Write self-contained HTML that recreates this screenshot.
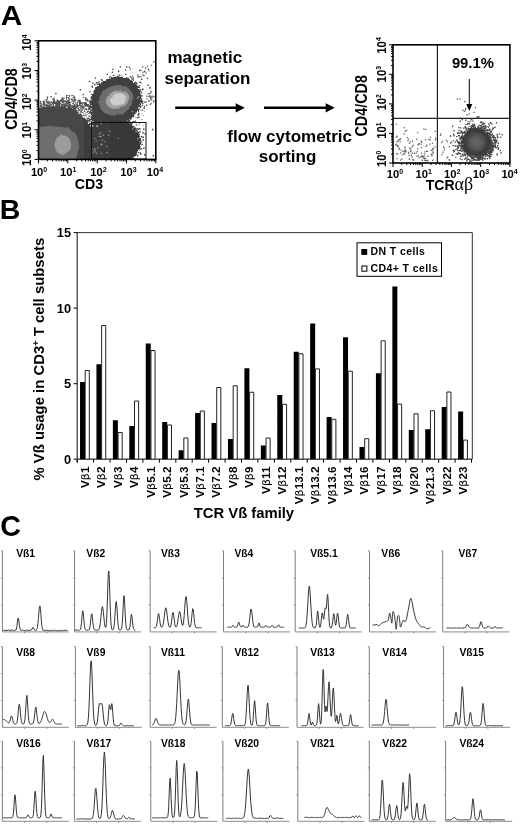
<!DOCTYPE html>
<html><head><meta charset="utf-8"><title>Figure</title>
<style>
html,body{margin:0;padding:0;background:#fff;}
svg{display:block;font-family:"Liberation Sans", sans-serif;font-weight:bold;fill:#000;}
.sym2{font-family:"Liberation Serif","DejaVu Serif",serif;font-weight:normal;}
.sym{font-family:"DejaVu Sans","Liberation Sans",sans-serif;font-weight:normal;}
</style></head><body>
<svg width="520" height="826" viewBox="0 0 520 826">
<defs>
<filter id="rag" x="-10%" y="-10%" width="120%" height="120%">
<feTurbulence type="fractalNoise" baseFrequency="0.7" numOctaves="2" seed="3" result="n"/>
<feDisplacementMap in="SourceGraphic" in2="n" scale="5" xChannelSelector="R" yChannelSelector="G"/>
</filter>
<filter id="rag2" x="-10%" y="-10%" width="120%" height="120%">
<feTurbulence type="fractalNoise" baseFrequency="0.2" numOctaves="2" seed="8" result="n"/>
<feDisplacementMap in="SourceGraphic" in2="n" scale="3" xChannelSelector="R" yChannelSelector="G"/>
</filter>
<radialGradient id="rg"><stop offset="0" stop-color="#686868"/><stop offset="0.45" stop-color="#585858"/><stop offset="0.85" stop-color="#3c3c3c"/><stop offset="1" stop-color="#333"/></radialGradient>
</defs>
<rect width="520" height="826" fill="#fff"/>

<text transform="translate(0.7 24.8) scale(1.045 1)" font-size="28.5">A</text>
<clipPath id="cA"><rect x="38.5" y="40.8" width="117.30000000000001" height="118.60000000000001"/></clipPath>
<g clip-path="url(#cA)">
<path fill="#4a4a4a" d="M69.7 120.1h1.4v1.4h-1.4zM87.9 146.1h1.4v1.4h-1.4zM64.1 122.8h1.4v1.4h-1.4zM53.9 123.3h1.4v1.4h-1.4zM85.2 112.6h1.4v1.4h-1.4zM88.0 149.1h1.4v1.4h-1.4zM41.8 154.7h1.4v1.4h-1.4zM90.7 149.7h1.4v1.4h-1.4zM77.2 115.6h1.4v1.4h-1.4zM46.2 154.3h1.4v1.4h-1.4zM88.4 134.8h1.4v1.4h-1.4zM87.3 126.6h1.4v1.4h-1.4zM84.7 123.2h1.4v1.4h-1.4zM82.3 153.0h1.4v1.4h-1.4zM98.2 145.5h1.4v1.4h-1.4zM95.1 105.1h1.4v1.4h-1.4zM105.7 146.0h1.4v1.4h-1.4zM80.2 124.6h1.4v1.4h-1.4zM81.7 103.4h1.4v1.4h-1.4zM81.6 120.7h1.4v1.4h-1.4zM74.3 120.1h1.4v1.4h-1.4zM111.4 124.9h1.4v1.4h-1.4zM43.5 120.4h1.4v1.4h-1.4zM84.8 151.5h1.4v1.4h-1.4zM88.5 127.9h1.4v1.4h-1.4zM89.0 126.7h1.4v1.4h-1.4zM88.1 138.5h1.4v1.4h-1.4zM48.6 155.3h1.4v1.4h-1.4zM87.6 137.3h1.4v1.4h-1.4zM94.2 141.6h1.4v1.4h-1.4zM58.4 123.4h1.4v1.4h-1.4zM80.1 152.1h1.4v1.4h-1.4zM50.5 113.8h1.4v1.4h-1.4zM86.0 150.2h1.4v1.4h-1.4zM70.1 111.8h1.4v1.4h-1.4zM96.9 116.4h1.4v1.4h-1.4zM96.0 139.3h1.4v1.4h-1.4zM110.0 157.0h1.4v1.4h-1.4zM73.5 104.7h1.4v1.4h-1.4zM92.3 147.0h1.4v1.4h-1.4zM100.2 155.5h1.4v1.4h-1.4zM40.5 122.2h1.4v1.4h-1.4zM92.7 154.8h1.4v1.4h-1.4zM94.8 152.3h1.4v1.4h-1.4zM59.6 123.4h1.4v1.4h-1.4zM42.5 104.2h1.4v1.4h-1.4zM55.1 121.8h1.4v1.4h-1.4zM88.7 150.9h1.4v1.4h-1.4zM91.8 154.6h1.4v1.4h-1.4zM80.4 125.8h1.4v1.4h-1.4zM84.3 138.0h1.4v1.4h-1.4zM62.1 120.5h1.4v1.4h-1.4zM54.2 112.9h1.4v1.4h-1.4zM57.8 121.2h1.4v1.4h-1.4zM94.9 148.2h1.4v1.4h-1.4zM81.7 128.6h1.4v1.4h-1.4zM58.7 115.5h1.4v1.4h-1.4zM73.3 116.3h1.4v1.4h-1.4zM50.7 121.4h1.4v1.4h-1.4zM42.9 125.9h1.4v1.4h-1.4zM70.8 118.8h1.4v1.4h-1.4zM58.9 102.9h1.4v1.4h-1.4zM64.7 121.7h1.4v1.4h-1.4zM49.0 122.0h1.4v1.4h-1.4zM103.8 136.5h1.4v1.4h-1.4zM82.1 107.7h1.4v1.4h-1.4zM83.3 126.8h1.4v1.4h-1.4zM92.0 141.3h1.4v1.4h-1.4zM87.5 131.1h1.4v1.4h-1.4zM86.0 140.9h1.4v1.4h-1.4zM89.4 156.8h1.4v1.4h-1.4zM86.6 124.0h1.4v1.4h-1.4zM83.2 134.6h1.4v1.4h-1.4zM62.4 120.9h1.4v1.4h-1.4zM112.3 114.9h1.4v1.4h-1.4zM95.5 133.2h1.4v1.4h-1.4zM89.7 145.4h1.4v1.4h-1.4zM78.2 116.5h1.4v1.4h-1.4zM88.9 133.0h1.4v1.4h-1.4zM43.6 122.0h1.4v1.4h-1.4zM40.0 145.7h1.4v1.4h-1.4zM92.5 147.0h1.4v1.4h-1.4zM43.7 124.6h1.4v1.4h-1.4zM87.0 135.9h1.4v1.4h-1.4zM89.3 135.6h1.4v1.4h-1.4zM41.7 113.3h1.4v1.4h-1.4zM70.6 119.0h1.4v1.4h-1.4zM39.7 111.6h1.4v1.4h-1.4zM91.9 123.7h1.4v1.4h-1.4zM55.2 92.8h1.4v1.4h-1.4zM61.3 111.1h1.4v1.4h-1.4zM86.1 135.9h1.4v1.4h-1.4zM92.2 141.6h1.4v1.4h-1.4zM84.1 131.1h1.4v1.4h-1.4zM105.0 131.7h1.4v1.4h-1.4zM71.6 119.3h1.4v1.4h-1.4zM75.7 119.4h1.4v1.4h-1.4zM84.3 144.7h1.4v1.4h-1.4zM101.8 113.2h1.4v1.4h-1.4zM42.4 126.6h1.4v1.4h-1.4zM61.6 113.9h1.4v1.4h-1.4zM71.4 122.0h1.4v1.4h-1.4zM83.5 114.9h1.4v1.4h-1.4zM85.5 137.9h1.4v1.4h-1.4zM41.4 129.9h1.4v1.4h-1.4zM68.4 124.1h1.4v1.4h-1.4zM44.0 151.8h1.4v1.4h-1.4zM101.9 105.4h1.4v1.4h-1.4zM100.7 142.1h1.4v1.4h-1.4zM84.7 142.7h1.4v1.4h-1.4zM83.3 151.4h1.4v1.4h-1.4zM77.9 106.6h1.4v1.4h-1.4zM107.9 127.6h1.4v1.4h-1.4zM82.7 130.0h1.4v1.4h-1.4zM56.0 111.5h1.4v1.4h-1.4zM84.4 145.6h1.4v1.4h-1.4zM43.6 130.6h1.4v1.4h-1.4zM41.1 149.9h1.4v1.4h-1.4zM86.7 143.8h1.4v1.4h-1.4zM64.7 116.7h1.4v1.4h-1.4zM58.8 116.9h1.4v1.4h-1.4zM99.4 104.5h1.4v1.4h-1.4zM58.3 115.4h1.4v1.4h-1.4zM71.9 109.6h1.4v1.4h-1.4zM45.6 114.1h1.4v1.4h-1.4zM78.0 128.2h1.4v1.4h-1.4zM85.6 139.9h1.4v1.4h-1.4zM83.2 152.3h1.4v1.4h-1.4zM83.7 123.3h1.4v1.4h-1.4zM87.8 142.5h1.4v1.4h-1.4zM89.0 132.2h1.4v1.4h-1.4zM91.2 149.7h1.4v1.4h-1.4zM84.7 142.4h1.4v1.4h-1.4zM98.0 149.8h1.4v1.4h-1.4zM67.9 119.3h1.4v1.4h-1.4zM96.7 142.1h1.4v1.4h-1.4zM50.2 115.5h1.4v1.4h-1.4zM60.3 107.3h1.4v1.4h-1.4zM43.2 125.3h1.4v1.4h-1.4zM50.5 114.8h1.4v1.4h-1.4zM96.9 155.5h1.4v1.4h-1.4zM53.0 122.4h1.4v1.4h-1.4zM52.4 119.4h1.4v1.4h-1.4zM84.0 148.5h1.4v1.4h-1.4zM78.1 114.3h1.4v1.4h-1.4zM95.1 152.3h1.4v1.4h-1.4zM99.2 123.8h1.4v1.4h-1.4zM81.0 120.1h1.4v1.4h-1.4zM39.6 121.5h1.4v1.4h-1.4zM76.9 125.4h1.4v1.4h-1.4zM65.8 102.5h1.4v1.4h-1.4zM81.7 153.7h1.4v1.4h-1.4zM89.7 153.0h1.4v1.4h-1.4zM51.7 117.7h1.4v1.4h-1.4zM62.5 120.8h1.4v1.4h-1.4zM46.5 121.4h1.4v1.4h-1.4zM65.5 122.8h1.4v1.4h-1.4zM51.9 115.2h1.4v1.4h-1.4zM90.7 137.5h1.4v1.4h-1.4zM93.9 138.5h1.4v1.4h-1.4zM77.4 155.8h1.4v1.4h-1.4zM55.6 112.6h1.4v1.4h-1.4zM66.2 119.5h1.4v1.4h-1.4zM78.3 124.1h1.4v1.4h-1.4zM67.7 119.3h1.4v1.4h-1.4zM43.2 112.2h1.4v1.4h-1.4zM83.9 145.2h1.4v1.4h-1.4zM80.9 151.9h1.4v1.4h-1.4zM71.3 122.5h1.4v1.4h-1.4zM46.5 156.9h1.4v1.4h-1.4zM75.9 117.6h1.4v1.4h-1.4zM90.8 141.4h1.4v1.4h-1.4zM93.9 129.1h1.4v1.4h-1.4zM93.6 150.2h1.4v1.4h-1.4zM88.2 127.3h1.4v1.4h-1.4zM106.2 143.5h1.4v1.4h-1.4zM88.3 126.9h1.4v1.4h-1.4zM43.3 115.2h1.4v1.4h-1.4zM70.1 115.0h1.4v1.4h-1.4zM96.5 142.1h1.4v1.4h-1.4zM44.5 117.9h1.4v1.4h-1.4zM45.3 125.9h1.4v1.4h-1.4zM86.3 144.4h1.4v1.4h-1.4zM44.9 111.4h1.4v1.4h-1.4zM57.0 121.8h1.4v1.4h-1.4zM41.8 149.3h1.4v1.4h-1.4zM44.0 120.5h1.4v1.4h-1.4zM41.1 122.6h1.4v1.4h-1.4zM89.9 146.6h1.4v1.4h-1.4zM79.0 129.4h1.4v1.4h-1.4zM83.7 131.9h1.4v1.4h-1.4zM44.7 120.3h1.4v1.4h-1.4zM82.9 130.7h1.4v1.4h-1.4zM43.2 127.8h1.4v1.4h-1.4zM54.0 123.2h1.4v1.4h-1.4zM68.1 110.3h1.4v1.4h-1.4zM75.9 118.9h1.4v1.4h-1.4zM83.9 147.1h1.4v1.4h-1.4zM70.7 124.0h1.4v1.4h-1.4zM89.3 141.6h1.4v1.4h-1.4zM92.9 155.9h1.4v1.4h-1.4zM91.5 148.5h1.4v1.4h-1.4zM54.0 114.2h1.4v1.4h-1.4zM42.5 125.1h1.4v1.4h-1.4zM88.0 142.9h1.4v1.4h-1.4zM46.1 154.5h1.4v1.4h-1.4zM45.1 156.3h1.4v1.4h-1.4zM91.7 132.7h1.4v1.4h-1.4zM107.1 155.1h1.4v1.4h-1.4zM52.2 115.9h1.4v1.4h-1.4zM95.6 137.3h1.4v1.4h-1.4zM42.5 155.9h1.4v1.4h-1.4zM40.9 149.7h1.4v1.4h-1.4zM77.2 114.2h1.4v1.4h-1.4zM94.9 148.0h1.4v1.4h-1.4zM75.7 115.0h1.4v1.4h-1.4zM81.4 120.6h1.4v1.4h-1.4zM46.1 112.6h1.4v1.4h-1.4zM40.8 127.9h1.4v1.4h-1.4zM89.8 154.3h1.4v1.4h-1.4zM46.9 154.7h1.4v1.4h-1.4zM82.0 153.3h1.4v1.4h-1.4zM115.7 149.9h1.4v1.4h-1.4zM91.0 133.1h1.4v1.4h-1.4zM81.4 108.3h1.4v1.4h-1.4zM116.4 131.7h1.4v1.4h-1.4zM94.0 123.6h1.4v1.4h-1.4zM68.4 119.6h1.4v1.4h-1.4zM63.3 107.9h1.4v1.4h-1.4zM102.2 148.2h1.4v1.4h-1.4zM87.3 119.2h1.4v1.4h-1.4zM75.9 124.5h1.4v1.4h-1.4zM56.8 123.7h1.4v1.4h-1.4zM97.8 151.4h1.4v1.4h-1.4zM103.0 140.6h1.4v1.4h-1.4zM40.5 126.7h1.4v1.4h-1.4zM71.0 123.9h1.4v1.4h-1.4zM81.6 117.5h1.4v1.4h-1.4zM45.3 154.6h1.4v1.4h-1.4zM82.7 156.3h1.4v1.4h-1.4zM76.6 115.4h1.4v1.4h-1.4zM39.9 156.8h1.4v1.4h-1.4zM95.9 151.7h1.4v1.4h-1.4zM86.2 143.1h1.4v1.4h-1.4zM81.5 124.7h1.4v1.4h-1.4zM76.1 155.6h1.4v1.4h-1.4zM81.5 111.7h1.4v1.4h-1.4zM75.3 111.9h1.4v1.4h-1.4zM75.9 116.1h1.4v1.4h-1.4zM102.5 132.5h1.4v1.4h-1.4zM92.6 136.4h1.4v1.4h-1.4zM85.5 133.3h1.4v1.4h-1.4zM75.6 113.9h1.4v1.4h-1.4zM79.6 153.9h1.4v1.4h-1.4zM81.3 150.2h1.4v1.4h-1.4zM75.2 124.8h1.4v1.4h-1.4zM40.0 145.3h1.4v1.4h-1.4zM44.3 153.4h1.4v1.4h-1.4zM90.5 135.2h1.4v1.4h-1.4zM59.9 118.0h1.4v1.4h-1.4zM68.2 119.5h1.4v1.4h-1.4zM64.4 122.5h1.4v1.4h-1.4zM69.7 113.2h1.4v1.4h-1.4zM44.3 152.3h1.4v1.4h-1.4zM70.1 114.5h1.4v1.4h-1.4zM76.4 155.5h1.4v1.4h-1.4zM81.0 118.8h1.4v1.4h-1.4zM89.2 129.4h1.4v1.4h-1.4zM46.8 155.7h1.4v1.4h-1.4zM43.2 151.5h1.4v1.4h-1.4zM95.4 137.5h1.4v1.4h-1.4zM83.7 127.8h1.4v1.4h-1.4zM85.5 102.5h1.4v1.4h-1.4zM45.3 127.1h1.4v1.4h-1.4zM75.1 125.4h1.4v1.4h-1.4zM97.6 150.9h1.4v1.4h-1.4zM94.1 129.4h1.4v1.4h-1.4zM81.3 130.0h1.4v1.4h-1.4zM39.6 139.6h1.4v1.4h-1.4zM42.3 154.6h1.4v1.4h-1.4zM79.9 152.4h1.4v1.4h-1.4zM82.1 156.8h1.4v1.4h-1.4zM88.1 127.9h1.4v1.4h-1.4zM88.5 122.3h1.4v1.4h-1.4zM88.7 144.9h1.4v1.4h-1.4zM59.2 119.0h1.4v1.4h-1.4zM74.5 125.6h1.4v1.4h-1.4zM77.7 120.1h1.4v1.4h-1.4zM77.0 125.8h1.4v1.4h-1.4zM86.4 156.9h1.4v1.4h-1.4zM61.5 114.7h1.4v1.4h-1.4zM87.0 131.9h1.4v1.4h-1.4zM59.6 114.7h1.4v1.4h-1.4zM88.3 148.3h1.4v1.4h-1.4zM52.5 116.8h1.4v1.4h-1.4zM87.2 137.2h1.4v1.4h-1.4zM54.8 120.9h1.4v1.4h-1.4zM76.6 155.0h1.4v1.4h-1.4zM65.4 114.7h1.4v1.4h-1.4zM92.0 139.8h1.4v1.4h-1.4zM86.7 152.2h1.4v1.4h-1.4zM85.0 138.8h1.4v1.4h-1.4zM84.7 131.3h1.4v1.4h-1.4zM92.6 145.2h1.4v1.4h-1.4zM85.3 114.6h1.4v1.4h-1.4zM76.3 120.8h1.4v1.4h-1.4zM46.6 154.0h1.4v1.4h-1.4zM73.9 121.2h1.4v1.4h-1.4zM97.9 122.1h1.4v1.4h-1.4zM81.1 117.8h1.4v1.4h-1.4zM45.1 118.4h1.4v1.4h-1.4zM100.7 135.5h1.4v1.4h-1.4zM94.3 112.6h1.4v1.4h-1.4zM86.3 136.4h1.4v1.4h-1.4zM51.0 123.8h1.4v1.4h-1.4zM84.8 151.5h1.4v1.4h-1.4zM45.5 154.3h1.4v1.4h-1.4zM79.5 129.8h1.4v1.4h-1.4zM90.7 139.7h1.4v1.4h-1.4zM89.2 156.8h1.4v1.4h-1.4zM84.4 136.5h1.4v1.4h-1.4zM86.1 142.8h1.4v1.4h-1.4zM81.2 128.4h1.4v1.4h-1.4zM78.1 128.0h1.4v1.4h-1.4zM93.6 127.0h1.4v1.4h-1.4zM47.8 117.3h1.4v1.4h-1.4zM58.5 107.1h1.4v1.4h-1.4zM74.5 125.3h1.4v1.4h-1.4zM49.9 117.4h1.4v1.4h-1.4z"/>
<path fill="#484848" d="M132.2 111.4h1.4v1.4h-1.4zM130.8 116.7h1.4v1.4h-1.4zM90.3 123.2h1.4v1.4h-1.4zM88.3 110.5h1.4v1.4h-1.4zM96.3 103.7h1.4v1.4h-1.4zM122.3 82.5h1.4v1.4h-1.4zM112.3 79.7h1.4v1.4h-1.4zM118.1 118.2h1.4v1.4h-1.4zM115.5 132.2h1.4v1.4h-1.4zM137.4 89.9h1.4v1.4h-1.4zM82.1 102.2h1.4v1.4h-1.4zM111.5 118.8h1.4v1.4h-1.4zM101.6 118.7h1.4v1.4h-1.4zM93.5 98.6h1.4v1.4h-1.4zM100.7 78.9h1.4v1.4h-1.4zM114.3 79.1h1.4v1.4h-1.4zM115.3 118.2h1.4v1.4h-1.4zM98.3 97.8h1.4v1.4h-1.4zM103.6 87.9h1.4v1.4h-1.4zM106.6 73.7h1.4v1.4h-1.4zM89.9 110.7h1.4v1.4h-1.4zM103.1 81.2h1.4v1.4h-1.4zM115.5 123.5h1.4v1.4h-1.4zM134.2 102.5h1.4v1.4h-1.4zM104.8 120.2h1.4v1.4h-1.4zM102.3 122.1h1.4v1.4h-1.4zM121.2 133.7h1.4v1.4h-1.4zM135.6 109.3h1.4v1.4h-1.4zM107.0 83.6h1.4v1.4h-1.4zM95.2 114.1h1.4v1.4h-1.4zM92.3 101.9h1.4v1.4h-1.4zM131.3 115.7h1.4v1.4h-1.4zM111.1 118.9h1.4v1.4h-1.4zM126.0 66.3h1.4v1.4h-1.4zM146.0 104.6h1.4v1.4h-1.4zM139.4 89.2h1.4v1.4h-1.4zM132.4 107.1h1.4v1.4h-1.4zM113.0 124.4h1.4v1.4h-1.4zM101.5 84.7h1.4v1.4h-1.4zM126.5 115.5h1.4v1.4h-1.4zM149.3 86.8h1.4v1.4h-1.4zM116.6 122.2h1.4v1.4h-1.4zM132.6 106.8h1.4v1.4h-1.4zM134.5 120.4h1.4v1.4h-1.4zM123.1 83.9h1.4v1.4h-1.4zM92.2 82.5h1.4v1.4h-1.4zM122.0 83.9h1.4v1.4h-1.4zM98.1 125.6h1.4v1.4h-1.4zM90.5 97.6h1.4v1.4h-1.4zM118.8 81.8h1.4v1.4h-1.4zM117.0 128.7h1.4v1.4h-1.4zM133.2 91.2h1.4v1.4h-1.4zM79.2 99.8h1.4v1.4h-1.4zM124.6 121.4h1.4v1.4h-1.4zM101.0 111.8h1.4v1.4h-1.4zM133.1 110.4h1.4v1.4h-1.4zM117.0 78.0h1.4v1.4h-1.4zM108.0 119.9h1.4v1.4h-1.4zM98.3 134.5h1.4v1.4h-1.4zM98.8 112.7h1.4v1.4h-1.4zM95.2 94.3h1.4v1.4h-1.4zM130.7 89.2h1.4v1.4h-1.4zM125.3 83.9h1.4v1.4h-1.4zM96.2 115.4h1.4v1.4h-1.4zM96.0 109.8h1.4v1.4h-1.4zM100.7 91.9h1.4v1.4h-1.4zM109.7 83.9h1.4v1.4h-1.4zM137.1 99.0h1.4v1.4h-1.4zM135.0 89.9h1.4v1.4h-1.4zM147.5 84.6h1.4v1.4h-1.4zM121.9 81.6h1.4v1.4h-1.4zM122.0 117.9h1.4v1.4h-1.4zM119.3 116.6h1.4v1.4h-1.4zM96.0 119.1h1.4v1.4h-1.4zM99.5 117.7h1.4v1.4h-1.4zM109.6 75.9h1.4v1.4h-1.4zM125.7 120.7h1.4v1.4h-1.4zM137.5 94.6h1.4v1.4h-1.4zM111.7 71.6h1.4v1.4h-1.4zM139.0 69.8h1.4v1.4h-1.4zM96.4 113.5h1.4v1.4h-1.4zM123.4 121.0h1.4v1.4h-1.4zM86.4 98.8h1.4v1.4h-1.4zM111.9 126.1h1.4v1.4h-1.4zM124.4 115.2h1.4v1.4h-1.4zM131.7 110.5h1.4v1.4h-1.4zM95.9 104.9h1.4v1.4h-1.4zM138.2 112.8h1.4v1.4h-1.4zM114.5 121.0h1.4v1.4h-1.4zM127.3 118.0h1.4v1.4h-1.4zM94.1 112.2h1.4v1.4h-1.4zM141.8 89.1h1.4v1.4h-1.4zM98.4 111.6h1.4v1.4h-1.4zM126.4 114.2h1.4v1.4h-1.4zM96.2 99.8h1.4v1.4h-1.4zM124.6 114.9h1.4v1.4h-1.4zM114.0 129.6h1.4v1.4h-1.4zM134.2 90.2h1.4v1.4h-1.4zM109.5 78.8h1.4v1.4h-1.4zM119.1 81.8h1.4v1.4h-1.4zM134.1 100.9h1.4v1.4h-1.4zM117.3 75.5h1.4v1.4h-1.4zM125.5 84.4h1.4v1.4h-1.4zM117.5 81.3h1.4v1.4h-1.4zM116.5 81.9h1.4v1.4h-1.4zM132.2 87.6h1.4v1.4h-1.4zM125.2 117.9h1.4v1.4h-1.4zM93.9 113.8h1.4v1.4h-1.4zM102.4 90.9h1.4v1.4h-1.4zM107.3 118.1h1.4v1.4h-1.4zM130.8 84.6h1.4v1.4h-1.4zM97.0 92.6h1.4v1.4h-1.4zM118.0 81.6h1.4v1.4h-1.4zM111.5 121.0h1.4v1.4h-1.4zM98.4 92.0h1.4v1.4h-1.4zM137.0 94.7h1.4v1.4h-1.4zM129.7 117.3h1.4v1.4h-1.4zM92.4 97.5h1.4v1.4h-1.4zM137.9 113.8h1.4v1.4h-1.4zM100.4 115.0h1.4v1.4h-1.4zM106.9 124.3h1.4v1.4h-1.4zM95.8 121.7h1.4v1.4h-1.4zM107.6 129.3h1.4v1.4h-1.4zM137.7 96.5h1.4v1.4h-1.4zM102.3 114.3h1.4v1.4h-1.4zM123.9 84.2h1.4v1.4h-1.4zM133.8 83.5h1.4v1.4h-1.4zM107.7 117.2h1.4v1.4h-1.4zM105.2 127.0h1.4v1.4h-1.4zM94.6 102.2h1.4v1.4h-1.4zM139.3 81.6h1.4v1.4h-1.4zM132.8 115.9h1.4v1.4h-1.4zM100.1 116.1h1.4v1.4h-1.4zM97.8 95.0h1.4v1.4h-1.4zM109.3 124.1h1.4v1.4h-1.4zM110.4 125.7h1.4v1.4h-1.4zM104.6 117.8h1.4v1.4h-1.4zM89.2 90.9h1.4v1.4h-1.4zM128.9 86.4h1.4v1.4h-1.4zM133.4 112.8h1.4v1.4h-1.4zM95.9 89.4h1.4v1.4h-1.4zM95.6 111.3h1.4v1.4h-1.4zM122.4 119.4h1.4v1.4h-1.4zM111.6 81.2h1.4v1.4h-1.4zM127.5 79.2h1.4v1.4h-1.4zM106.0 84.2h1.4v1.4h-1.4zM95.2 92.5h1.4v1.4h-1.4zM132.6 104.9h1.4v1.4h-1.4zM95.1 98.7h1.4v1.4h-1.4zM91.4 85.5h1.4v1.4h-1.4zM95.3 104.6h1.4v1.4h-1.4zM137.1 94.4h1.4v1.4h-1.4zM128.3 114.2h1.4v1.4h-1.4zM130.2 114.5h1.4v1.4h-1.4zM135.3 93.8h1.4v1.4h-1.4zM98.8 96.1h1.4v1.4h-1.4zM128.9 116.8h1.4v1.4h-1.4zM134.5 89.8h1.4v1.4h-1.4zM129.4 111.2h1.4v1.4h-1.4zM128.5 111.0h1.4v1.4h-1.4zM98.2 103.5h1.4v1.4h-1.4zM131.6 88.7h1.4v1.4h-1.4zM134.5 82.0h1.4v1.4h-1.4zM105.4 87.9h1.4v1.4h-1.4zM137.4 90.7h1.4v1.4h-1.4zM110.7 123.2h1.4v1.4h-1.4zM133.2 107.8h1.4v1.4h-1.4zM87.6 122.5h1.4v1.4h-1.4zM127.0 83.5h1.4v1.4h-1.4zM98.3 113.4h1.4v1.4h-1.4zM139.9 90.9h1.4v1.4h-1.4zM98.3 82.8h1.4v1.4h-1.4zM114.8 80.3h1.4v1.4h-1.4zM117.2 81.8h1.4v1.4h-1.4zM93.5 95.6h1.4v1.4h-1.4zM99.5 95.6h1.4v1.4h-1.4zM101.5 92.0h1.4v1.4h-1.4zM138.7 108.1h1.4v1.4h-1.4zM132.7 125.8h1.4v1.4h-1.4zM111.6 81.6h1.4v1.4h-1.4zM98.6 95.6h1.4v1.4h-1.4zM133.1 88.0h1.4v1.4h-1.4zM128.8 120.6h1.4v1.4h-1.4zM130.8 89.3h1.4v1.4h-1.4zM131.5 111.7h1.4v1.4h-1.4zM135.7 102.5h1.4v1.4h-1.4zM126.7 77.9h1.4v1.4h-1.4zM136.4 89.7h1.4v1.4h-1.4zM94.8 104.6h1.4v1.4h-1.4zM95.7 99.8h1.4v1.4h-1.4zM117.2 81.1h1.4v1.4h-1.4zM104.0 84.4h1.4v1.4h-1.4zM85.0 97.3h1.4v1.4h-1.4zM93.4 91.8h1.4v1.4h-1.4zM105.2 85.6h1.4v1.4h-1.4zM127.9 82.3h1.4v1.4h-1.4zM98.8 89.2h1.4v1.4h-1.4zM101.0 118.8h1.4v1.4h-1.4zM137.3 114.3h1.4v1.4h-1.4zM103.6 113.8h1.4v1.4h-1.4zM128.5 85.4h1.4v1.4h-1.4zM119.7 66.2h1.4v1.4h-1.4zM126.3 77.5h1.4v1.4h-1.4zM115.0 118.8h1.4v1.4h-1.4zM109.2 79.9h1.4v1.4h-1.4zM136.9 102.5h1.4v1.4h-1.4zM89.5 108.4h1.4v1.4h-1.4zM102.8 122.0h1.4v1.4h-1.4zM94.0 84.0h1.4v1.4h-1.4zM121.2 122.5h1.4v1.4h-1.4zM94.7 77.4h1.4v1.4h-1.4zM107.3 85.6h1.4v1.4h-1.4zM121.8 117.2h1.4v1.4h-1.4zM120.4 81.4h1.4v1.4h-1.4zM137.1 91.1h1.4v1.4h-1.4zM143.5 107.5h1.4v1.4h-1.4zM111.1 117.4h1.4v1.4h-1.4zM134.4 106.2h1.4v1.4h-1.4zM125.0 116.5h1.4v1.4h-1.4zM97.8 91.3h1.4v1.4h-1.4zM102.1 112.7h1.4v1.4h-1.4zM125.0 73.7h1.4v1.4h-1.4zM134.5 107.1h1.4v1.4h-1.4zM129.3 86.8h1.4v1.4h-1.4zM129.8 111.1h1.4v1.4h-1.4zM88.9 101.4h1.4v1.4h-1.4zM142.1 88.5h1.4v1.4h-1.4zM90.0 112.6h1.4v1.4h-1.4zM84.7 119.4h1.4v1.4h-1.4zM132.4 121.1h1.4v1.4h-1.4zM134.1 109.4h1.4v1.4h-1.4zM97.9 103.4h1.4v1.4h-1.4zM143.7 105.8h1.4v1.4h-1.4zM103.4 120.7h1.4v1.4h-1.4zM96.9 91.2h1.4v1.4h-1.4zM141.3 95.0h1.4v1.4h-1.4zM134.4 85.5h1.4v1.4h-1.4zM119.6 81.2h1.4v1.4h-1.4zM113.0 78.3h1.4v1.4h-1.4zM140.5 98.6h1.4v1.4h-1.4zM134.9 98.8h1.4v1.4h-1.4zM99.5 91.0h1.4v1.4h-1.4zM101.9 91.6h1.4v1.4h-1.4zM131.3 86.8h1.4v1.4h-1.4zM100.6 125.1h1.4v1.4h-1.4zM99.6 92.3h1.4v1.4h-1.4zM112.1 117.1h1.4v1.4h-1.4zM107.1 127.3h1.4v1.4h-1.4zM108.7 82.3h1.4v1.4h-1.4zM96.1 82.0h1.4v1.4h-1.4zM129.8 111.8h1.4v1.4h-1.4zM120.2 78.8h1.4v1.4h-1.4zM122.2 115.5h1.4v1.4h-1.4zM141.8 104.4h1.4v1.4h-1.4zM123.2 117.3h1.4v1.4h-1.4zM112.9 82.0h1.4v1.4h-1.4zM129.1 110.5h1.4v1.4h-1.4zM113.9 82.1h1.4v1.4h-1.4zM98.1 106.4h1.4v1.4h-1.4zM133.8 94.4h1.4v1.4h-1.4zM92.2 96.8h1.4v1.4h-1.4zM109.4 82.3h1.4v1.4h-1.4zM98.3 81.2h1.4v1.4h-1.4zM116.6 117.4h1.4v1.4h-1.4zM131.1 82.3h1.4v1.4h-1.4zM103.6 87.7h1.4v1.4h-1.4zM132.6 79.4h1.4v1.4h-1.4zM137.3 85.8h1.4v1.4h-1.4zM135.1 98.2h1.4v1.4h-1.4zM145.2 101.4h1.4v1.4h-1.4zM131.6 109.7h1.4v1.4h-1.4zM123.1 115.9h1.4v1.4h-1.4zM126.7 78.7h1.4v1.4h-1.4zM92.6 118.3h1.4v1.4h-1.4zM101.7 112.4h1.4v1.4h-1.4zM136.7 116.9h1.4v1.4h-1.4zM136.5 102.7h1.4v1.4h-1.4zM131.2 109.4h1.4v1.4h-1.4zM103.7 117.9h1.4v1.4h-1.4zM134.1 91.9h1.4v1.4h-1.4zM92.0 98.0h1.4v1.4h-1.4zM119.7 80.8h1.4v1.4h-1.4zM130.0 118.3h1.4v1.4h-1.4zM123.8 83.4h1.4v1.4h-1.4zM127.9 120.3h1.4v1.4h-1.4zM112.3 68.7h1.4v1.4h-1.4zM105.4 86.8h1.4v1.4h-1.4zM119.2 79.8h1.4v1.4h-1.4zM128.7 86.2h1.4v1.4h-1.4zM138.9 95.0h1.4v1.4h-1.4zM113.7 119.1h1.4v1.4h-1.4zM110.4 80.3h1.4v1.4h-1.4zM112.7 74.7h1.4v1.4h-1.4zM124.9 84.4h1.4v1.4h-1.4zM117.4 121.9h1.4v1.4h-1.4zM94.5 100.7h1.4v1.4h-1.4zM102.6 119.9h1.4v1.4h-1.4zM140.0 105.8h1.4v1.4h-1.4zM104.2 114.6h1.4v1.4h-1.4zM95.7 108.4h1.4v1.4h-1.4zM127.0 113.6h1.4v1.4h-1.4zM129.7 68.4h1.4v1.4h-1.4zM99.0 83.6h1.4v1.4h-1.4zM115.0 117.8h1.4v1.4h-1.4zM141.8 109.4h1.4v1.4h-1.4zM107.3 81.6h1.4v1.4h-1.4zM109.4 124.5h1.4v1.4h-1.4zM93.7 112.3h1.4v1.4h-1.4zM129.7 75.9h1.4v1.4h-1.4zM91.2 112.2h1.4v1.4h-1.4zM96.8 95.5h1.4v1.4h-1.4zM104.4 87.7h1.4v1.4h-1.4zM91.7 98.5h1.4v1.4h-1.4zM104.8 87.4h1.4v1.4h-1.4zM104.6 88.8h1.4v1.4h-1.4zM122.5 119.1h1.4v1.4h-1.4zM79.7 89.1h1.4v1.4h-1.4zM114.1 118.7h1.4v1.4h-1.4zM95.0 123.6h1.4v1.4h-1.4zM92.2 115.9h1.4v1.4h-1.4zM95.6 82.4h1.4v1.4h-1.4zM136.0 108.8h1.4v1.4h-1.4zM119.3 83.3h1.4v1.4h-1.4zM101.6 79.8h1.4v1.4h-1.4zM119.9 81.7h1.4v1.4h-1.4zM112.7 126.2h1.4v1.4h-1.4zM125.5 82.6h1.4v1.4h-1.4zM109.6 122.9h1.4v1.4h-1.4zM109.4 123.8h1.4v1.4h-1.4zM114.5 120.3h1.4v1.4h-1.4zM136.7 96.9h1.4v1.4h-1.4zM106.4 87.1h1.4v1.4h-1.4zM130.8 77.2h1.4v1.4h-1.4zM90.3 106.2h1.4v1.4h-1.4zM141.9 100.6h1.4v1.4h-1.4zM106.0 82.8h1.4v1.4h-1.4zM122.2 83.1h1.4v1.4h-1.4zM85.0 99.0h1.4v1.4h-1.4zM91.7 86.4h1.4v1.4h-1.4zM108.1 129.9h1.4v1.4h-1.4zM146.7 77.7h1.4v1.4h-1.4zM112.5 117.9h1.4v1.4h-1.4zM102.2 115.7h1.4v1.4h-1.4zM131.8 83.8h1.4v1.4h-1.4zM134.9 90.8h1.4v1.4h-1.4zM134.8 91.0h1.4v1.4h-1.4zM97.5 102.6h1.4v1.4h-1.4zM100.7 125.0h1.4v1.4h-1.4zM135.8 82.3h1.4v1.4h-1.4zM126.1 83.1h1.4v1.4h-1.4zM111.7 81.7h1.4v1.4h-1.4zM116.3 118.3h1.4v1.4h-1.4zM135.3 109.4h1.4v1.4h-1.4zM128.2 85.4h1.4v1.4h-1.4zM133.1 107.2h1.4v1.4h-1.4zM91.0 102.8h1.4v1.4h-1.4zM108.1 124.0h1.4v1.4h-1.4zM144.0 70.8h1.4v1.4h-1.4zM114.5 82.9h1.4v1.4h-1.4zM98.8 116.3h1.4v1.4h-1.4zM102.4 124.6h1.4v1.4h-1.4zM125.2 117.0h1.4v1.4h-1.4zM138.3 100.2h1.4v1.4h-1.4zM104.9 88.0h1.4v1.4h-1.4zM112.3 125.3h1.4v1.4h-1.4zM132.0 88.1h1.4v1.4h-1.4zM141.0 101.9h1.4v1.4h-1.4zM99.3 114.6h1.4v1.4h-1.4zM136.2 83.2h1.4v1.4h-1.4zM96.7 104.4h1.4v1.4h-1.4zM140.9 78.6h1.4v1.4h-1.4zM108.8 126.3h1.4v1.4h-1.4zM119.9 127.8h1.4v1.4h-1.4zM130.3 124.2h1.4v1.4h-1.4zM96.2 86.8h1.4v1.4h-1.4zM102.1 120.9h1.4v1.4h-1.4zM94.8 100.4h1.4v1.4h-1.4zM132.8 111.3h1.4v1.4h-1.4zM142.1 102.5h1.4v1.4h-1.4zM123.8 120.3h1.4v1.4h-1.4zM117.9 70.5h1.4v1.4h-1.4zM134.4 102.9h1.4v1.4h-1.4zM143.2 74.9h1.4v1.4h-1.4zM110.1 123.2h1.4v1.4h-1.4zM95.5 100.6h1.4v1.4h-1.4zM98.3 90.6h1.4v1.4h-1.4zM90.9 112.1h1.4v1.4h-1.4zM125.5 85.4h1.4v1.4h-1.4zM107.4 86.6h1.4v1.4h-1.4zM88.8 80.8h1.4v1.4h-1.4zM138.6 86.6h1.4v1.4h-1.4zM129.7 84.3h1.4v1.4h-1.4zM84.6 102.5h1.4v1.4h-1.4zM134.0 95.9h1.4v1.4h-1.4zM97.7 101.1h1.4v1.4h-1.4zM110.8 117.1h1.4v1.4h-1.4zM124.6 127.8h1.4v1.4h-1.4zM134.3 100.8h1.4v1.4h-1.4zM136.1 109.3h1.4v1.4h-1.4zM111.2 122.1h1.4v1.4h-1.4z"/>
<path fill="#3e3e3e" d="M132.0 130.1h1.4v1.4h-1.4zM125.1 129.5h1.4v1.4h-1.4zM131.2 137.8h1.4v1.4h-1.4zM117.3 123.2h1.4v1.4h-1.4zM109.5 120.5h1.4v1.4h-1.4zM96.5 143.0h1.4v1.4h-1.4zM102.8 155.9h1.4v1.4h-1.4zM105.3 126.7h1.4v1.4h-1.4zM103.3 127.7h1.4v1.4h-1.4zM100.6 114.7h1.4v1.4h-1.4zM120.3 123.0h1.4v1.4h-1.4zM109.2 117.3h1.4v1.4h-1.4zM128.5 122.2h1.4v1.4h-1.4zM129.4 121.6h1.4v1.4h-1.4zM101.5 155.0h1.4v1.4h-1.4zM106.4 156.0h1.4v1.4h-1.4zM132.1 143.2h1.4v1.4h-1.4zM102.1 133.3h1.4v1.4h-1.4zM107.5 155.7h1.4v1.4h-1.4zM115.6 156.3h1.4v1.4h-1.4zM121.0 120.9h1.4v1.4h-1.4zM81.4 145.4h1.4v1.4h-1.4zM117.2 156.9h1.4v1.4h-1.4zM118.9 119.2h1.4v1.4h-1.4zM81.3 154.2h1.4v1.4h-1.4zM127.7 152.1h1.4v1.4h-1.4zM106.1 126.5h1.4v1.4h-1.4zM94.1 146.8h1.4v1.4h-1.4zM101.8 154.2h1.4v1.4h-1.4zM131.9 136.7h1.4v1.4h-1.4zM122.7 155.7h1.4v1.4h-1.4zM99.2 142.7h1.4v1.4h-1.4zM100.1 127.6h1.4v1.4h-1.4zM94.7 148.7h1.4v1.4h-1.4zM97.4 133.2h1.4v1.4h-1.4zM136.0 137.0h1.4v1.4h-1.4zM143.1 128.6h1.4v1.4h-1.4zM139.1 143.4h1.4v1.4h-1.4zM94.9 149.0h1.4v1.4h-1.4zM134.2 128.0h1.4v1.4h-1.4zM133.8 131.7h1.4v1.4h-1.4zM137.0 155.2h1.4v1.4h-1.4zM100.0 135.9h1.4v1.4h-1.4zM134.0 144.2h1.4v1.4h-1.4zM114.3 117.5h1.4v1.4h-1.4zM104.3 156.3h1.4v1.4h-1.4zM94.8 140.1h1.4v1.4h-1.4zM104.2 151.6h1.4v1.4h-1.4zM135.6 141.2h1.4v1.4h-1.4zM100.2 136.0h1.4v1.4h-1.4zM128.1 125.7h1.4v1.4h-1.4zM105.8 122.0h1.4v1.4h-1.4zM99.1 147.7h1.4v1.4h-1.4zM121.2 154.8h1.4v1.4h-1.4zM93.1 140.5h1.4v1.4h-1.4zM141.4 143.8h1.4v1.4h-1.4zM100.1 133.7h1.4v1.4h-1.4zM130.1 147.6h1.4v1.4h-1.4zM97.2 135.1h1.4v1.4h-1.4zM132.7 154.0h1.4v1.4h-1.4zM101.0 155.6h1.4v1.4h-1.4zM108.5 122.1h1.4v1.4h-1.4zM133.8 145.4h1.4v1.4h-1.4zM92.4 155.0h1.4v1.4h-1.4zM140.1 153.3h1.4v1.4h-1.4zM96.8 148.6h1.4v1.4h-1.4zM100.4 144.6h1.4v1.4h-1.4zM103.6 129.4h1.4v1.4h-1.4zM110.7 122.9h1.4v1.4h-1.4zM119.6 156.8h1.4v1.4h-1.4zM105.7 127.0h1.4v1.4h-1.4zM108.0 154.8h1.4v1.4h-1.4zM95.0 135.1h1.4v1.4h-1.4zM128.9 153.4h1.4v1.4h-1.4zM139.5 152.2h1.4v1.4h-1.4zM133.2 143.9h1.4v1.4h-1.4zM101.8 123.7h1.4v1.4h-1.4zM99.9 153.0h1.4v1.4h-1.4zM96.8 148.1h1.4v1.4h-1.4zM137.7 131.8h1.4v1.4h-1.4zM91.0 149.8h1.4v1.4h-1.4zM110.0 155.4h1.4v1.4h-1.4zM96.2 127.8h1.4v1.4h-1.4zM109.7 126.6h1.4v1.4h-1.4zM132.8 151.6h1.4v1.4h-1.4zM96.7 140.6h1.4v1.4h-1.4zM139.1 138.1h1.4v1.4h-1.4zM142.5 139.3h1.4v1.4h-1.4zM131.6 140.7h1.4v1.4h-1.4zM135.1 152.0h1.4v1.4h-1.4zM97.3 145.2h1.4v1.4h-1.4zM128.9 150.6h1.4v1.4h-1.4zM104.6 126.8h1.4v1.4h-1.4zM108.7 123.2h1.4v1.4h-1.4zM134.5 136.6h1.4v1.4h-1.4zM114.2 122.8h1.4v1.4h-1.4zM135.2 132.8h1.4v1.4h-1.4zM121.7 119.9h1.4v1.4h-1.4zM124.6 126.8h1.4v1.4h-1.4zM125.3 156.1h1.4v1.4h-1.4zM137.8 142.8h1.4v1.4h-1.4zM129.7 151.6h1.4v1.4h-1.4zM138.9 139.4h1.4v1.4h-1.4zM130.8 156.7h1.4v1.4h-1.4zM133.0 143.4h1.4v1.4h-1.4zM121.5 124.5h1.4v1.4h-1.4zM95.0 134.5h1.4v1.4h-1.4zM97.1 132.1h1.4v1.4h-1.4zM104.2 129.8h1.4v1.4h-1.4zM133.6 131.1h1.4v1.4h-1.4zM107.8 115.4h1.4v1.4h-1.4zM104.7 127.6h1.4v1.4h-1.4zM133.4 133.3h1.4v1.4h-1.4zM127.3 151.2h1.4v1.4h-1.4zM105.2 118.8h1.4v1.4h-1.4zM151.9 128.8h1.4v1.4h-1.4zM95.8 147.8h1.4v1.4h-1.4zM90.7 156.0h1.4v1.4h-1.4zM95.8 152.6h1.4v1.4h-1.4zM117.8 126.0h1.4v1.4h-1.4zM108.0 155.1h1.4v1.4h-1.4zM95.6 151.2h1.4v1.4h-1.4zM105.3 112.7h1.4v1.4h-1.4zM122.9 128.0h1.4v1.4h-1.4zM129.9 152.2h1.4v1.4h-1.4zM119.8 126.2h1.4v1.4h-1.4zM126.6 151.3h1.4v1.4h-1.4zM138.3 116.5h1.4v1.4h-1.4zM127.3 129.2h1.4v1.4h-1.4zM126.2 119.3h1.4v1.4h-1.4zM115.2 156.1h1.4v1.4h-1.4zM116.1 125.1h1.4v1.4h-1.4zM110.6 111.0h1.4v1.4h-1.4zM107.2 114.2h1.4v1.4h-1.4zM102.7 124.4h1.4v1.4h-1.4zM99.6 138.2h1.4v1.4h-1.4zM108.0 154.6h1.4v1.4h-1.4zM134.2 135.4h1.4v1.4h-1.4zM119.1 114.4h1.4v1.4h-1.4zM88.0 142.2h1.4v1.4h-1.4zM110.4 126.6h1.4v1.4h-1.4zM129.9 155.3h1.4v1.4h-1.4zM124.1 121.7h1.4v1.4h-1.4zM138.1 141.1h1.4v1.4h-1.4zM117.0 121.3h1.4v1.4h-1.4zM100.5 124.8h1.4v1.4h-1.4zM128.0 118.6h1.4v1.4h-1.4zM106.0 120.5h1.4v1.4h-1.4zM109.4 124.7h1.4v1.4h-1.4zM129.4 154.8h1.4v1.4h-1.4zM132.2 149.6h1.4v1.4h-1.4zM129.3 150.3h1.4v1.4h-1.4zM102.9 121.0h1.4v1.4h-1.4zM110.5 121.4h1.4v1.4h-1.4zM97.5 137.5h1.4v1.4h-1.4zM125.8 128.6h1.4v1.4h-1.4zM139.0 128.1h1.4v1.4h-1.4zM95.3 140.8h1.4v1.4h-1.4zM98.7 155.8h1.4v1.4h-1.4zM126.7 152.5h1.4v1.4h-1.4zM113.4 115.0h1.4v1.4h-1.4zM136.3 127.9h1.4v1.4h-1.4zM129.5 133.2h1.4v1.4h-1.4zM127.3 123.6h1.4v1.4h-1.4zM99.8 156.3h1.4v1.4h-1.4zM93.6 129.8h1.4v1.4h-1.4zM130.3 135.5h1.4v1.4h-1.4zM84.8 151.6h1.4v1.4h-1.4zM106.3 125.7h1.4v1.4h-1.4zM133.4 145.0h1.4v1.4h-1.4zM120.4 126.5h1.4v1.4h-1.4zM131.9 138.2h1.4v1.4h-1.4zM98.9 137.7h1.4v1.4h-1.4zM128.6 126.2h1.4v1.4h-1.4zM103.6 156.7h1.4v1.4h-1.4zM96.0 131.6h1.4v1.4h-1.4zM96.7 135.0h1.4v1.4h-1.4zM116.5 124.7h1.4v1.4h-1.4zM97.5 147.5h1.4v1.4h-1.4zM99.9 137.6h1.4v1.4h-1.4zM113.1 126.0h1.4v1.4h-1.4zM129.2 153.8h1.4v1.4h-1.4zM115.0 123.3h1.4v1.4h-1.4zM142.4 132.0h1.4v1.4h-1.4zM92.7 151.4h1.4v1.4h-1.4zM136.6 144.3h1.4v1.4h-1.4zM117.8 122.8h1.4v1.4h-1.4zM136.4 130.2h1.4v1.4h-1.4zM132.5 144.7h1.4v1.4h-1.4zM98.0 141.2h1.4v1.4h-1.4zM120.7 156.1h1.4v1.4h-1.4zM85.8 155.8h1.4v1.4h-1.4zM98.6 125.0h1.4v1.4h-1.4zM88.7 133.2h1.4v1.4h-1.4zM131.5 156.0h1.4v1.4h-1.4zM117.9 122.1h1.4v1.4h-1.4zM118.9 123.0h1.4v1.4h-1.4zM107.8 156.9h1.4v1.4h-1.4zM98.8 151.2h1.4v1.4h-1.4zM140.8 148.2h1.4v1.4h-1.4zM99.5 154.8h1.4v1.4h-1.4zM94.3 144.7h1.4v1.4h-1.4zM135.0 151.9h1.4v1.4h-1.4zM142.5 136.5h1.4v1.4h-1.4zM109.7 123.2h1.4v1.4h-1.4zM97.5 129.1h1.4v1.4h-1.4zM133.9 140.4h1.4v1.4h-1.4zM128.6 130.8h1.4v1.4h-1.4zM91.2 155.4h1.4v1.4h-1.4zM152.6 155.1h1.4v1.4h-1.4zM125.1 125.3h1.4v1.4h-1.4zM132.1 145.7h1.4v1.4h-1.4zM98.9 145.2h1.4v1.4h-1.4zM93.1 130.7h1.4v1.4h-1.4zM127.9 128.7h1.4v1.4h-1.4zM112.6 121.8h1.4v1.4h-1.4zM98.6 129.8h1.4v1.4h-1.4zM124.3 122.4h1.4v1.4h-1.4zM111.9 122.2h1.4v1.4h-1.4zM103.1 125.0h1.4v1.4h-1.4zM129.6 133.1h1.4v1.4h-1.4zM106.5 128.3h1.4v1.4h-1.4zM95.7 141.7h1.4v1.4h-1.4zM133.3 143.0h1.4v1.4h-1.4zM134.1 121.6h1.4v1.4h-1.4zM132.1 127.3h1.4v1.4h-1.4zM108.4 121.6h1.4v1.4h-1.4zM129.9 123.8h1.4v1.4h-1.4zM126.6 151.2h1.4v1.4h-1.4zM133.1 139.3h1.4v1.4h-1.4zM132.3 147.9h1.4v1.4h-1.4zM134.0 149.7h1.4v1.4h-1.4zM135.7 124.2h1.4v1.4h-1.4zM95.4 148.8h1.4v1.4h-1.4zM101.4 149.6h1.4v1.4h-1.4zM109.5 156.0h1.4v1.4h-1.4zM114.6 156.3h1.4v1.4h-1.4zM91.7 150.5h1.4v1.4h-1.4zM118.8 116.4h1.4v1.4h-1.4zM91.9 152.7h1.4v1.4h-1.4zM97.8 138.2h1.4v1.4h-1.4zM103.7 154.8h1.4v1.4h-1.4zM106.0 155.9h1.4v1.4h-1.4zM120.1 121.4h1.4v1.4h-1.4zM107.3 118.3h1.4v1.4h-1.4zM121.7 127.3h1.4v1.4h-1.4zM134.1 138.8h1.4v1.4h-1.4zM125.9 111.0h1.4v1.4h-1.4zM104.2 127.4h1.4v1.4h-1.4zM130.2 145.3h1.4v1.4h-1.4zM90.5 151.4h1.4v1.4h-1.4zM103.4 128.8h1.4v1.4h-1.4zM97.5 134.9h1.4v1.4h-1.4zM135.9 146.6h1.4v1.4h-1.4zM124.7 153.2h1.4v1.4h-1.4zM107.0 122.2h1.4v1.4h-1.4zM132.0 121.5h1.4v1.4h-1.4zM118.5 126.4h1.4v1.4h-1.4zM134.2 154.5h1.4v1.4h-1.4zM109.4 121.3h1.4v1.4h-1.4zM121.8 118.3h1.4v1.4h-1.4zM116.3 123.4h1.4v1.4h-1.4zM94.6 146.1h1.4v1.4h-1.4zM96.0 139.4h1.4v1.4h-1.4zM127.5 126.1h1.4v1.4h-1.4zM136.8 154.8h1.4v1.4h-1.4zM107.3 126.5h1.4v1.4h-1.4zM121.2 124.4h1.4v1.4h-1.4zM95.7 137.2h1.4v1.4h-1.4zM130.5 129.9h1.4v1.4h-1.4zM118.5 124.0h1.4v1.4h-1.4zM94.5 142.7h1.4v1.4h-1.4zM95.8 133.0h1.4v1.4h-1.4zM86.3 135.7h1.4v1.4h-1.4zM139.5 142.1h1.4v1.4h-1.4zM105.5 156.5h1.4v1.4h-1.4zM131.6 140.4h1.4v1.4h-1.4zM133.5 129.1h1.4v1.4h-1.4zM109.4 155.6h1.4v1.4h-1.4zM132.8 136.0h1.4v1.4h-1.4zM136.7 139.1h1.4v1.4h-1.4zM113.3 123.5h1.4v1.4h-1.4zM130.1 122.8h1.4v1.4h-1.4zM127.8 124.2h1.4v1.4h-1.4zM105.9 153.6h1.4v1.4h-1.4zM131.9 155.4h1.4v1.4h-1.4zM96.8 129.5h1.4v1.4h-1.4zM111.5 108.2h1.4v1.4h-1.4zM86.8 134.7h1.4v1.4h-1.4zM91.3 128.5h1.4v1.4h-1.4zM137.2 133.3h1.4v1.4h-1.4zM104.8 152.2h1.4v1.4h-1.4zM135.6 140.7h1.4v1.4h-1.4zM95.2 146.2h1.4v1.4h-1.4zM140.8 136.0h1.4v1.4h-1.4zM82.8 137.2h1.4v1.4h-1.4zM112.9 124.0h1.4v1.4h-1.4zM94.2 132.9h1.4v1.4h-1.4zM130.3 122.9h1.4v1.4h-1.4zM115.4 125.5h1.4v1.4h-1.4zM87.5 124.0h1.4v1.4h-1.4zM128.0 150.6h1.4v1.4h-1.4zM90.4 148.5h1.4v1.4h-1.4zM130.0 152.7h1.4v1.4h-1.4zM126.0 152.4h1.4v1.4h-1.4zM97.8 144.0h1.4v1.4h-1.4zM91.7 133.5h1.4v1.4h-1.4zM102.1 127.2h1.4v1.4h-1.4zM101.7 122.1h1.4v1.4h-1.4zM114.5 124.8h1.4v1.4h-1.4zM130.5 133.7h1.4v1.4h-1.4zM110.2 156.0h1.4v1.4h-1.4zM82.5 154.2h1.4v1.4h-1.4zM137.5 128.5h1.4v1.4h-1.4zM113.4 123.2h1.4v1.4h-1.4zM123.4 126.0h1.4v1.4h-1.4zM144.0 154.1h1.4v1.4h-1.4zM132.3 128.9h1.4v1.4h-1.4zM129.1 152.9h1.4v1.4h-1.4zM122.4 122.1h1.4v1.4h-1.4zM126.9 122.9h1.4v1.4h-1.4zM117.7 120.5h1.4v1.4h-1.4zM85.4 124.5h1.4v1.4h-1.4zM119.0 115.0h1.4v1.4h-1.4zM98.7 150.8h1.4v1.4h-1.4zM107.9 118.0h1.4v1.4h-1.4zM113.8 126.0h1.4v1.4h-1.4zM132.4 146.5h1.4v1.4h-1.4zM113.1 125.2h1.4v1.4h-1.4zM122.3 126.8h1.4v1.4h-1.4zM97.0 121.3h1.4v1.4h-1.4zM90.0 143.9h1.4v1.4h-1.4zM100.5 133.3h1.4v1.4h-1.4zM97.6 130.7h1.4v1.4h-1.4zM135.2 138.5h1.4v1.4h-1.4zM136.8 143.6h1.4v1.4h-1.4zM102.3 129.4h1.4v1.4h-1.4zM103.9 129.4h1.4v1.4h-1.4zM136.8 143.2h1.4v1.4h-1.4zM131.5 122.3h1.4v1.4h-1.4zM132.5 150.1h1.4v1.4h-1.4zM124.1 121.3h1.4v1.4h-1.4zM114.0 156.0h1.4v1.4h-1.4zM104.6 128.4h1.4v1.4h-1.4zM92.7 137.5h1.4v1.4h-1.4zM127.7 130.0h1.4v1.4h-1.4zM100.7 134.7h1.4v1.4h-1.4zM132.3 150.6h1.4v1.4h-1.4zM115.9 156.3h1.4v1.4h-1.4zM133.2 112.2h1.4v1.4h-1.4zM111.6 125.0h1.4v1.4h-1.4zM144.6 133.3h1.4v1.4h-1.4zM110.0 123.2h1.4v1.4h-1.4zM86.6 129.9h1.4v1.4h-1.4zM94.5 141.9h1.4v1.4h-1.4zM88.7 127.5h1.4v1.4h-1.4zM105.3 129.0h1.4v1.4h-1.4zM143.2 147.5h1.4v1.4h-1.4zM100.2 137.7h1.4v1.4h-1.4zM132.4 148.7h1.4v1.4h-1.4zM103.4 152.8h1.4v1.4h-1.4zM118.7 123.2h1.4v1.4h-1.4zM94.5 130.7h1.4v1.4h-1.4zM97.4 126.5h1.4v1.4h-1.4zM129.8 136.6h1.4v1.4h-1.4zM137.2 148.3h1.4v1.4h-1.4zM139.1 131.3h1.4v1.4h-1.4zM84.9 139.8h1.4v1.4h-1.4zM94.9 138.8h1.4v1.4h-1.4zM127.4 149.7h1.4v1.4h-1.4zM123.5 125.6h1.4v1.4h-1.4zM95.2 118.1h1.4v1.4h-1.4zM137.5 136.5h1.4v1.4h-1.4zM129.5 155.4h1.4v1.4h-1.4zM130.5 140.6h1.4v1.4h-1.4zM125.8 152.5h1.4v1.4h-1.4zM98.9 125.0h1.4v1.4h-1.4zM130.6 154.1h1.4v1.4h-1.4zM102.6 131.2h1.4v1.4h-1.4zM94.3 132.0h1.4v1.4h-1.4zM85.0 125.1h1.4v1.4h-1.4zM97.1 144.0h1.4v1.4h-1.4zM108.9 155.3h1.4v1.4h-1.4zM127.9 119.8h1.4v1.4h-1.4zM129.7 148.0h1.4v1.4h-1.4zM137.4 144.5h1.4v1.4h-1.4zM98.7 147.3h1.4v1.4h-1.4zM119.0 124.1h1.4v1.4h-1.4zM131.1 144.2h1.4v1.4h-1.4zM91.6 129.5h1.4v1.4h-1.4zM90.7 132.4h1.4v1.4h-1.4zM120.2 156.2h1.4v1.4h-1.4zM132.5 132.4h1.4v1.4h-1.4zM110.3 126.2h1.4v1.4h-1.4zM123.0 127.6h1.4v1.4h-1.4z"/>
<path fill="#666" d="M108.6 93.2h1.4v1.4h-1.4zM113.8 81.4h1.4v1.4h-1.4zM118.4 93.9h1.4v1.4h-1.4zM125.0 69.3h1.4v1.4h-1.4zM76.3 110.3h1.4v1.4h-1.4zM117.7 88.3h1.4v1.4h-1.4zM102.0 91.2h1.4v1.4h-1.4zM126.4 88.3h1.4v1.4h-1.4zM99.0 100.0h1.4v1.4h-1.4zM121.0 84.5h1.4v1.4h-1.4zM119.8 78.3h1.4v1.4h-1.4zM104.1 93.5h1.4v1.4h-1.4zM89.8 107.2h1.4v1.4h-1.4zM97.5 106.4h1.4v1.4h-1.4zM95.5 104.8h1.4v1.4h-1.4zM82.2 106.7h1.4v1.4h-1.4zM118.8 74.6h1.4v1.4h-1.4zM132.6 77.2h1.4v1.4h-1.4zM61.0 131.2h1.4v1.4h-1.4zM93.5 106.3h1.4v1.4h-1.4zM94.8 100.0h1.4v1.4h-1.4zM119.4 80.9h1.4v1.4h-1.4zM112.6 82.8h1.4v1.4h-1.4zM94.4 115.9h1.4v1.4h-1.4zM91.1 99.4h1.4v1.4h-1.4zM101.5 107.0h1.4v1.4h-1.4zM94.6 99.3h1.4v1.4h-1.4zM114.1 94.8h1.4v1.4h-1.4zM95.5 101.7h1.4v1.4h-1.4zM105.0 117.0h1.4v1.4h-1.4zM104.0 110.3h1.4v1.4h-1.4zM99.3 103.9h1.4v1.4h-1.4zM68.3 130.9h1.4v1.4h-1.4zM99.6 97.8h1.4v1.4h-1.4zM88.1 100.2h1.4v1.4h-1.4zM77.0 122.8h1.4v1.4h-1.4zM89.5 109.1h1.4v1.4h-1.4zM95.1 100.5h1.4v1.4h-1.4zM95.9 118.7h1.4v1.4h-1.4zM80.4 114.1h1.4v1.4h-1.4zM90.7 99.4h1.4v1.4h-1.4zM88.2 117.9h1.4v1.4h-1.4zM115.4 86.7h1.4v1.4h-1.4zM116.4 78.2h1.4v1.4h-1.4zM124.0 91.2h1.4v1.4h-1.4zM101.2 113.3h1.4v1.4h-1.4zM82.7 107.0h1.4v1.4h-1.4zM96.1 97.2h1.4v1.4h-1.4zM105.8 85.8h1.4v1.4h-1.4zM93.5 90.3h1.4v1.4h-1.4zM103.7 105.0h1.4v1.4h-1.4zM97.1 105.2h1.4v1.4h-1.4zM113.0 79.1h1.4v1.4h-1.4zM80.2 119.1h1.4v1.4h-1.4zM103.4 94.7h1.4v1.4h-1.4zM89.5 119.5h1.4v1.4h-1.4zM80.5 116.1h1.4v1.4h-1.4zM102.3 103.7h1.4v1.4h-1.4zM89.7 103.1h1.4v1.4h-1.4zM128.7 66.5h1.4v1.4h-1.4zM112.1 87.5h1.4v1.4h-1.4zM92.3 106.8h1.4v1.4h-1.4zM97.2 105.1h1.4v1.4h-1.4zM59.5 137.5h1.4v1.4h-1.4zM97.3 94.7h1.4v1.4h-1.4zM103.2 115.7h1.4v1.4h-1.4zM132.0 75.4h1.4v1.4h-1.4zM102.5 95.2h1.4v1.4h-1.4zM120.3 77.5h1.4v1.4h-1.4z"/>
<path fill="#505050" d="M46.6 108.4h1.4v1.4h-1.4zM44.1 102.2h1.4v1.4h-1.4zM89.4 100.2h1.4v1.4h-1.4zM60.8 106.5h1.4v1.4h-1.4zM67.1 100.2h1.4v1.4h-1.4zM57.8 104.5h1.4v1.4h-1.4zM98.0 111.2h1.4v1.4h-1.4zM47.8 109.2h1.4v1.4h-1.4zM74.3 105.9h1.4v1.4h-1.4zM57.6 104.7h1.4v1.4h-1.4zM79.4 112.5h1.4v1.4h-1.4zM96.9 105.5h1.4v1.4h-1.4zM73.9 96.5h1.4v1.4h-1.4zM57.2 100.7h1.4v1.4h-1.4zM77.7 99.7h1.4v1.4h-1.4zM42.7 100.9h1.4v1.4h-1.4zM69.4 109.7h1.4v1.4h-1.4zM44.6 112.9h1.4v1.4h-1.4zM65.2 102.7h1.4v1.4h-1.4zM68.6 106.1h1.4v1.4h-1.4zM77.6 107.9h1.4v1.4h-1.4zM103.0 112.0h1.4v1.4h-1.4zM50.0 108.9h1.4v1.4h-1.4zM76.5 102.3h1.4v1.4h-1.4zM48.1 102.3h1.4v1.4h-1.4zM57.9 110.9h1.4v1.4h-1.4zM51.6 106.0h1.4v1.4h-1.4zM75.6 110.4h1.4v1.4h-1.4zM68.2 101.9h1.4v1.4h-1.4zM103.3 110.8h1.4v1.4h-1.4zM87.4 113.4h1.4v1.4h-1.4zM88.4 108.5h1.4v1.4h-1.4zM70.9 108.9h1.4v1.4h-1.4zM43.8 107.2h1.4v1.4h-1.4zM43.1 108.4h1.4v1.4h-1.4zM52.7 115.9h1.4v1.4h-1.4zM65.6 108.2h1.4v1.4h-1.4zM45.2 104.3h1.4v1.4h-1.4zM61.1 104.8h1.4v1.4h-1.4zM54.1 102.2h1.4v1.4h-1.4zM76.4 104.9h1.4v1.4h-1.4zM46.8 107.0h1.4v1.4h-1.4zM46.9 104.8h1.4v1.4h-1.4zM52.7 101.9h1.4v1.4h-1.4zM58.0 102.5h1.4v1.4h-1.4zM56.8 99.9h1.4v1.4h-1.4zM54.7 106.5h1.4v1.4h-1.4zM70.1 107.8h1.4v1.4h-1.4zM66.8 108.6h1.4v1.4h-1.4zM53.0 102.5h1.4v1.4h-1.4zM73.7 104.7h1.4v1.4h-1.4zM62.2 108.7h1.4v1.4h-1.4zM79.6 111.5h1.4v1.4h-1.4zM49.3 104.1h1.4v1.4h-1.4zM72.7 100.5h1.4v1.4h-1.4zM50.8 101.9h1.4v1.4h-1.4zM77.1 108.6h1.4v1.4h-1.4zM79.4 105.2h1.4v1.4h-1.4zM56.8 104.5h1.4v1.4h-1.4zM67.9 97.9h1.4v1.4h-1.4zM49.1 108.5h1.4v1.4h-1.4zM47.6 105.3h1.4v1.4h-1.4zM64.4 108.2h1.4v1.4h-1.4zM53.4 101.1h1.4v1.4h-1.4zM108.9 104.5h1.4v1.4h-1.4zM94.3 99.8h1.4v1.4h-1.4zM64.3 105.3h1.4v1.4h-1.4zM97.3 115.4h1.4v1.4h-1.4zM80.6 102.4h1.4v1.4h-1.4zM47.2 102.5h1.4v1.4h-1.4zM52.5 106.8h1.4v1.4h-1.4zM47.5 104.6h1.4v1.4h-1.4zM89.5 112.7h1.4v1.4h-1.4zM55.0 111.1h1.4v1.4h-1.4zM55.8 113.6h1.4v1.4h-1.4zM68.8 112.1h1.4v1.4h-1.4zM46.2 104.3h1.4v1.4h-1.4zM81.1 108.9h1.4v1.4h-1.4zM65.5 108.7h1.4v1.4h-1.4zM50.1 112.8h1.4v1.4h-1.4zM64.8 112.0h1.4v1.4h-1.4zM69.7 106.6h1.4v1.4h-1.4zM56.4 101.1h1.4v1.4h-1.4zM78.2 109.6h1.4v1.4h-1.4zM79.7 105.0h1.4v1.4h-1.4zM43.5 103.9h1.4v1.4h-1.4zM56.4 105.8h1.4v1.4h-1.4zM80.6 102.8h1.4v1.4h-1.4zM53.0 108.5h1.4v1.4h-1.4zM78.8 115.5h1.4v1.4h-1.4zM72.1 102.9h1.4v1.4h-1.4zM42.9 102.2h1.4v1.4h-1.4zM63.5 107.1h1.4v1.4h-1.4zM61.0 103.5h1.4v1.4h-1.4zM58.8 105.6h1.4v1.4h-1.4zM73.3 106.7h1.4v1.4h-1.4zM47.2 100.8h1.4v1.4h-1.4zM89.9 106.5h1.4v1.4h-1.4zM58.9 105.8h1.4v1.4h-1.4zM83.3 105.4h1.4v1.4h-1.4zM65.5 105.1h1.4v1.4h-1.4zM73.1 102.2h1.4v1.4h-1.4zM65.9 110.3h1.4v1.4h-1.4zM84.2 109.2h1.4v1.4h-1.4zM67.5 112.6h1.4v1.4h-1.4zM75.2 112.1h1.4v1.4h-1.4zM40.0 100.9h1.4v1.4h-1.4zM77.2 105.4h1.4v1.4h-1.4zM54.3 101.9h1.4v1.4h-1.4zM90.0 102.0h1.4v1.4h-1.4zM64.4 100.4h1.4v1.4h-1.4zM58.7 115.1h1.4v1.4h-1.4zM107.6 105.4h1.4v1.4h-1.4zM43.2 112.1h1.4v1.4h-1.4zM46.5 98.3h1.4v1.4h-1.4zM68.9 101.8h1.4v1.4h-1.4zM48.8 101.3h1.4v1.4h-1.4zM65.4 105.3h1.4v1.4h-1.4zM83.1 107.0h1.4v1.4h-1.4zM91.7 111.5h1.4v1.4h-1.4zM95.3 111.6h1.4v1.4h-1.4zM63.5 108.3h1.4v1.4h-1.4zM62.9 99.7h1.4v1.4h-1.4zM40.3 108.4h1.4v1.4h-1.4zM43.0 106.5h1.4v1.4h-1.4zM58.7 104.0h1.4v1.4h-1.4zM46.8 96.5h1.4v1.4h-1.4zM63.8 100.8h1.4v1.4h-1.4zM56.7 107.4h1.4v1.4h-1.4zM81.7 109.5h1.4v1.4h-1.4zM90.0 101.1h1.4v1.4h-1.4zM74.7 112.8h1.4v1.4h-1.4zM69.8 101.7h1.4v1.4h-1.4zM69.7 104.1h1.4v1.4h-1.4zM50.2 110.0h1.4v1.4h-1.4zM59.1 101.4h1.4v1.4h-1.4zM49.5 113.6h1.4v1.4h-1.4zM46.5 108.3h1.4v1.4h-1.4zM65.5 110.9h1.4v1.4h-1.4zM57.2 102.0h1.4v1.4h-1.4zM50.5 101.5h1.4v1.4h-1.4zM110.5 108.3h1.4v1.4h-1.4zM56.2 111.0h1.4v1.4h-1.4zM74.5 105.6h1.4v1.4h-1.4zM73.8 107.5h1.4v1.4h-1.4zM83.0 113.4h1.4v1.4h-1.4zM56.5 105.7h1.4v1.4h-1.4zM58.8 110.9h1.4v1.4h-1.4zM69.3 109.4h1.4v1.4h-1.4zM79.1 103.9h1.4v1.4h-1.4zM64.5 111.7h1.4v1.4h-1.4zM79.4 109.8h1.4v1.4h-1.4zM57.1 104.4h1.4v1.4h-1.4zM46.4 104.4h1.4v1.4h-1.4zM61.3 100.2h1.4v1.4h-1.4zM84.0 103.6h1.4v1.4h-1.4zM66.9 108.6h1.4v1.4h-1.4zM52.3 98.4h1.4v1.4h-1.4zM80.2 108.2h1.4v1.4h-1.4zM57.5 110.5h1.4v1.4h-1.4zM79.0 102.6h1.4v1.4h-1.4zM61.0 98.8h1.4v1.4h-1.4zM57.3 111.6h1.4v1.4h-1.4zM46.7 108.9h1.4v1.4h-1.4zM79.6 113.5h1.4v1.4h-1.4zM70.6 109.3h1.4v1.4h-1.4zM94.5 97.1h1.4v1.4h-1.4zM108.0 109.8h1.4v1.4h-1.4zM63.5 107.1h1.4v1.4h-1.4zM62.9 103.5h1.4v1.4h-1.4zM62.0 105.5h1.4v1.4h-1.4zM74.6 109.2h1.4v1.4h-1.4zM80.4 109.0h1.4v1.4h-1.4zM44.2 111.1h1.4v1.4h-1.4zM68.5 104.1h1.4v1.4h-1.4zM97.1 102.6h1.4v1.4h-1.4zM40.7 103.3h1.4v1.4h-1.4zM70.0 109.5h1.4v1.4h-1.4zM64.3 108.8h1.4v1.4h-1.4zM49.4 103.2h1.4v1.4h-1.4zM64.9 100.6h1.4v1.4h-1.4zM65.8 104.5h1.4v1.4h-1.4zM75.1 102.3h1.4v1.4h-1.4zM52.6 103.4h1.4v1.4h-1.4zM55.7 101.8h1.4v1.4h-1.4zM57.7 100.4h1.4v1.4h-1.4zM72.1 109.0h1.4v1.4h-1.4zM62.1 105.2h1.4v1.4h-1.4zM46.0 101.6h1.4v1.4h-1.4zM58.4 102.2h1.4v1.4h-1.4zM40.6 106.0h1.4v1.4h-1.4zM62.0 104.4h1.4v1.4h-1.4zM47.3 105.4h1.4v1.4h-1.4zM49.6 103.9h1.4v1.4h-1.4zM65.7 109.0h1.4v1.4h-1.4zM76.3 104.0h1.4v1.4h-1.4zM84.7 102.0h1.4v1.4h-1.4zM59.0 111.2h1.4v1.4h-1.4zM106.1 107.9h1.4v1.4h-1.4zM55.7 104.3h1.4v1.4h-1.4zM40.0 104.8h1.4v1.4h-1.4zM54.6 102.7h1.4v1.4h-1.4zM84.5 103.5h1.4v1.4h-1.4zM93.4 110.4h1.4v1.4h-1.4zM74.2 104.0h1.4v1.4h-1.4zM53.2 97.6h1.4v1.4h-1.4zM67.4 105.1h1.4v1.4h-1.4zM69.5 103.5h1.4v1.4h-1.4zM71.4 100.2h1.4v1.4h-1.4zM82.5 93.8h1.4v1.4h-1.4zM86.0 105.3h1.4v1.4h-1.4zM59.5 99.7h1.4v1.4h-1.4zM43.8 108.4h1.4v1.4h-1.4zM48.8 105.5h1.4v1.4h-1.4zM59.2 114.0h1.4v1.4h-1.4zM78.8 101.2h1.4v1.4h-1.4zM53.6 101.1h1.4v1.4h-1.4zM82.5 106.8h1.4v1.4h-1.4zM74.7 105.8h1.4v1.4h-1.4zM54.5 106.1h1.4v1.4h-1.4zM60.7 113.8h1.4v1.4h-1.4zM95.2 108.5h1.4v1.4h-1.4zM73.6 98.3h1.4v1.4h-1.4zM59.7 115.7h1.4v1.4h-1.4zM47.5 108.9h1.4v1.4h-1.4zM84.7 105.1h1.4v1.4h-1.4zM58.2 104.0h1.4v1.4h-1.4zM76.9 106.5h1.4v1.4h-1.4zM89.7 111.7h1.4v1.4h-1.4zM61.8 116.6h1.4v1.4h-1.4zM56.7 103.4h1.4v1.4h-1.4zM58.0 102.3h1.4v1.4h-1.4zM54.6 105.5h1.4v1.4h-1.4zM78.8 100.1h1.4v1.4h-1.4zM56.6 107.7h1.4v1.4h-1.4zM47.6 111.7h1.4v1.4h-1.4zM52.6 104.8h1.4v1.4h-1.4zM63.1 110.8h1.4v1.4h-1.4zM67.7 106.3h1.4v1.4h-1.4zM52.3 106.4h1.4v1.4h-1.4zM69.7 104.8h1.4v1.4h-1.4zM62.1 98.5h1.4v1.4h-1.4zM52.4 110.5h1.4v1.4h-1.4zM88.3 106.5h1.4v1.4h-1.4zM58.8 116.4h1.4v1.4h-1.4zM54.6 109.9h1.4v1.4h-1.4zM50.8 111.3h1.4v1.4h-1.4zM83.6 102.3h1.4v1.4h-1.4zM85.6 118.4h1.4v1.4h-1.4zM58.3 101.0h1.4v1.4h-1.4zM67.4 104.5h1.4v1.4h-1.4zM66.9 100.0h1.4v1.4h-1.4zM82.0 108.4h1.4v1.4h-1.4zM58.8 111.6h1.4v1.4h-1.4zM45.2 108.3h1.4v1.4h-1.4zM74.0 104.2h1.4v1.4h-1.4zM60.0 108.6h1.4v1.4h-1.4zM89.9 112.1h1.4v1.4h-1.4zM70.7 105.2h1.4v1.4h-1.4zM96.8 98.3h1.4v1.4h-1.4zM78.1 106.3h1.4v1.4h-1.4zM75.1 107.7h1.4v1.4h-1.4zM58.7 105.9h1.4v1.4h-1.4zM61.4 110.7h1.4v1.4h-1.4zM57.5 103.7h1.4v1.4h-1.4zM74.1 109.0h1.4v1.4h-1.4zM70.1 107.4h1.4v1.4h-1.4zM89.0 111.4h1.4v1.4h-1.4zM66.1 105.3h1.4v1.4h-1.4zM74.5 98.8h1.4v1.4h-1.4zM52.7 102.8h1.4v1.4h-1.4zM65.4 104.5h1.4v1.4h-1.4zM107.1 110.4h1.4v1.4h-1.4zM69.3 115.4h1.4v1.4h-1.4zM62.2 104.7h1.4v1.4h-1.4zM84.6 110.1h1.4v1.4h-1.4zM79.0 111.5h1.4v1.4h-1.4zM55.6 103.1h1.4v1.4h-1.4zM49.0 106.0h1.4v1.4h-1.4zM80.6 102.3h1.4v1.4h-1.4zM52.6 100.3h1.4v1.4h-1.4zM98.6 110.4h1.4v1.4h-1.4zM66.3 101.2h1.4v1.4h-1.4zM43.4 102.8h1.4v1.4h-1.4zM63.0 100.8h1.4v1.4h-1.4zM57.9 110.9h1.4v1.4h-1.4zM62.4 106.4h1.4v1.4h-1.4zM59.6 103.1h1.4v1.4h-1.4zM43.6 103.2h1.4v1.4h-1.4zM78.9 103.1h1.4v1.4h-1.4zM68.3 100.0h1.4v1.4h-1.4zM72.7 108.5h1.4v1.4h-1.4zM55.0 109.4h1.4v1.4h-1.4zM46.2 105.7h1.4v1.4h-1.4zM92.9 106.8h1.4v1.4h-1.4zM41.5 110.1h1.4v1.4h-1.4zM72.0 105.2h1.4v1.4h-1.4zM67.6 102.7h1.4v1.4h-1.4zM83.0 112.6h1.4v1.4h-1.4zM46.7 107.5h1.4v1.4h-1.4zM95.5 101.2h1.4v1.4h-1.4zM63.3 103.4h1.4v1.4h-1.4zM60.5 106.3h1.4v1.4h-1.4zM67.2 109.8h1.4v1.4h-1.4zM71.4 110.6h1.4v1.4h-1.4zM80.5 111.1h1.4v1.4h-1.4zM49.8 107.3h1.4v1.4h-1.4zM55.5 102.4h1.4v1.4h-1.4zM97.8 108.3h1.4v1.4h-1.4zM63.3 97.4h1.4v1.4h-1.4zM57.9 109.0h1.4v1.4h-1.4zM58.5 103.7h1.4v1.4h-1.4zM89.1 105.5h1.4v1.4h-1.4zM56.1 105.4h1.4v1.4h-1.4zM57.7 110.2h1.4v1.4h-1.4zM72.6 106.0h1.4v1.4h-1.4zM55.6 104.9h1.4v1.4h-1.4zM93.0 105.7h1.4v1.4h-1.4zM74.3 99.9h1.4v1.4h-1.4zM67.9 109.0h1.4v1.4h-1.4zM85.3 108.0h1.4v1.4h-1.4zM72.7 107.6h1.4v1.4h-1.4zM81.3 115.0h1.4v1.4h-1.4zM65.9 102.8h1.4v1.4h-1.4zM73.0 105.9h1.4v1.4h-1.4zM73.7 109.5h1.4v1.4h-1.4zM65.0 104.3h1.4v1.4h-1.4zM67.9 101.1h1.4v1.4h-1.4zM67.3 102.5h1.4v1.4h-1.4zM70.4 106.8h1.4v1.4h-1.4zM58.4 101.0h1.4v1.4h-1.4zM63.2 103.2h1.4v1.4h-1.4zM59.5 108.8h1.4v1.4h-1.4zM79.7 101.3h1.4v1.4h-1.4zM79.0 112.1h1.4v1.4h-1.4zM82.6 107.8h1.4v1.4h-1.4zM60.3 113.1h1.4v1.4h-1.4zM56.6 99.6h1.4v1.4h-1.4zM63.8 107.2h1.4v1.4h-1.4zM43.5 100.5h1.4v1.4h-1.4zM98.2 107.6h1.4v1.4h-1.4zM76.4 104.0h1.4v1.4h-1.4zM86.6 104.0h1.4v1.4h-1.4zM57.1 105.9h1.4v1.4h-1.4zM43.3 104.2h1.4v1.4h-1.4zM52.2 109.3h1.4v1.4h-1.4zM64.9 109.7h1.4v1.4h-1.4zM61.5 97.2h1.4v1.4h-1.4zM78.0 110.1h1.4v1.4h-1.4zM61.1 98.7h1.4v1.4h-1.4zM53.2 107.4h1.4v1.4h-1.4zM87.3 105.4h1.4v1.4h-1.4zM52.1 102.5h1.4v1.4h-1.4zM80.6 110.1h1.4v1.4h-1.4zM45.6 99.5h1.4v1.4h-1.4zM104.0 117.7h1.4v1.4h-1.4zM39.7 102.6h1.4v1.4h-1.4zM65.0 107.8h1.4v1.4h-1.4zM53.7 99.3h1.4v1.4h-1.4zM54.8 103.0h1.4v1.4h-1.4zM89.7 110.7h1.4v1.4h-1.4zM88.5 107.3h1.4v1.4h-1.4zM54.7 105.4h1.4v1.4h-1.4zM67.2 104.9h1.4v1.4h-1.4zM91.6 112.8h1.4v1.4h-1.4zM78.2 105.0h1.4v1.4h-1.4zM64.7 108.4h1.4v1.4h-1.4zM65.6 110.4h1.4v1.4h-1.4zM50.4 96.1h1.4v1.4h-1.4zM81.8 106.6h1.4v1.4h-1.4zM72.0 106.6h1.4v1.4h-1.4zM65.4 104.2h1.4v1.4h-1.4zM54.7 110.7h1.4v1.4h-1.4zM57.3 105.7h1.4v1.4h-1.4zM83.8 110.7h1.4v1.4h-1.4zM55.1 106.8h1.4v1.4h-1.4zM43.8 106.0h1.4v1.4h-1.4zM68.0 106.2h1.4v1.4h-1.4zM65.1 107.6h1.4v1.4h-1.4zM63.7 104.0h1.4v1.4h-1.4zM44.7 104.5h1.4v1.4h-1.4zM91.5 105.9h1.4v1.4h-1.4zM50.5 103.7h1.4v1.4h-1.4zM40.5 107.3h1.4v1.4h-1.4zM44.2 109.2h1.4v1.4h-1.4zM78.7 108.9h1.4v1.4h-1.4zM81.1 106.2h1.4v1.4h-1.4zM74.0 100.0h1.4v1.4h-1.4zM39.9 109.8h1.4v1.4h-1.4zM70.0 111.8h1.4v1.4h-1.4zM74.3 106.6h1.4v1.4h-1.4zM69.9 109.7h1.4v1.4h-1.4zM61.7 105.1h1.4v1.4h-1.4zM68.0 104.9h1.4v1.4h-1.4zM106.2 104.2h1.4v1.4h-1.4zM81.3 104.9h1.4v1.4h-1.4zM65.1 105.2h1.4v1.4h-1.4zM67.5 100.2h1.4v1.4h-1.4zM63.9 103.7h1.4v1.4h-1.4zM81.9 109.2h1.4v1.4h-1.4zM72.5 111.2h1.4v1.4h-1.4zM76.2 105.8h1.4v1.4h-1.4zM82.8 96.9h1.4v1.4h-1.4zM52.6 101.7h1.4v1.4h-1.4zM43.4 107.8h1.4v1.4h-1.4zM67.3 107.3h1.4v1.4h-1.4zM59.7 108.5h1.4v1.4h-1.4zM76.6 104.1h1.4v1.4h-1.4zM79.4 102.7h1.4v1.4h-1.4zM94.6 101.6h1.4v1.4h-1.4zM57.1 101.4h1.4v1.4h-1.4zM62.8 111.4h1.4v1.4h-1.4zM48.3 112.9h1.4v1.4h-1.4zM88.0 108.4h1.4v1.4h-1.4zM51.4 109.4h1.4v1.4h-1.4zM79.8 106.4h1.4v1.4h-1.4zM107.8 104.6h1.4v1.4h-1.4zM72.6 113.3h1.4v1.4h-1.4zM85.5 103.9h1.4v1.4h-1.4zM54.0 100.8h1.4v1.4h-1.4zM76.2 109.8h1.4v1.4h-1.4zM73.0 107.3h1.4v1.4h-1.4zM80.5 106.1h1.4v1.4h-1.4zM75.3 109.8h1.4v1.4h-1.4zM86.1 108.8h1.4v1.4h-1.4zM63.7 109.0h1.4v1.4h-1.4zM92.0 107.5h1.4v1.4h-1.4zM43.0 103.0h1.4v1.4h-1.4zM59.5 106.2h1.4v1.4h-1.4zM48.1 109.7h1.4v1.4h-1.4zM42.1 112.3h1.4v1.4h-1.4zM74.8 99.4h1.4v1.4h-1.4zM39.7 105.6h1.4v1.4h-1.4zM67.3 104.4h1.4v1.4h-1.4zM62.5 106.7h1.4v1.4h-1.4zM41.1 105.6h1.4v1.4h-1.4zM104.3 104.6h1.4v1.4h-1.4zM43.5 108.2h1.4v1.4h-1.4zM87.0 111.1h1.4v1.4h-1.4zM50.6 105.4h1.4v1.4h-1.4zM66.0 105.3h1.4v1.4h-1.4zM69.5 110.7h1.4v1.4h-1.4zM72.4 106.3h1.4v1.4h-1.4zM58.3 113.3h1.4v1.4h-1.4zM75.9 106.8h1.4v1.4h-1.4zM48.2 113.2h1.4v1.4h-1.4zM84.7 110.4h1.4v1.4h-1.4zM101.1 99.8h1.4v1.4h-1.4zM64.1 104.8h1.4v1.4h-1.4zM48.7 105.9h1.4v1.4h-1.4zM72.1 108.5h1.4v1.4h-1.4zM59.8 100.5h1.4v1.4h-1.4zM72.6 108.8h1.4v1.4h-1.4zM101.6 111.1h1.4v1.4h-1.4zM62.7 101.3h1.4v1.4h-1.4zM113.0 104.7h1.4v1.4h-1.4zM65.8 109.2h1.4v1.4h-1.4zM71.5 111.8h1.4v1.4h-1.4zM43.1 102.6h1.4v1.4h-1.4zM65.7 101.0h1.4v1.4h-1.4zM50.7 111.4h1.4v1.4h-1.4zM67.8 105.8h1.4v1.4h-1.4zM51.6 105.9h1.4v1.4h-1.4zM61.8 101.5h1.4v1.4h-1.4zM77.1 101.2h1.4v1.4h-1.4zM86.2 105.3h1.4v1.4h-1.4zM67.8 102.6h1.4v1.4h-1.4zM95.9 112.8h1.4v1.4h-1.4zM101.5 110.9h1.4v1.4h-1.4zM87.6 104.3h1.4v1.4h-1.4zM86.7 104.9h1.4v1.4h-1.4zM61.5 100.3h1.4v1.4h-1.4z"/>
<path fill="#444" d="M97.3 118.4h1.4v1.4h-1.4zM96.8 109.4h1.4v1.4h-1.4zM101.5 121.4h1.4v1.4h-1.4zM96.6 120.7h1.4v1.4h-1.4zM101.9 110.2h1.4v1.4h-1.4zM96.9 104.9h1.4v1.4h-1.4zM91.9 118.5h1.4v1.4h-1.4zM92.7 118.3h1.4v1.4h-1.4zM98.9 103.7h1.4v1.4h-1.4zM94.7 125.0h1.4v1.4h-1.4zM97.1 116.7h1.4v1.4h-1.4zM93.6 106.5h1.4v1.4h-1.4zM89.2 133.1h1.4v1.4h-1.4zM96.1 110.8h1.4v1.4h-1.4zM97.6 104.5h1.4v1.4h-1.4zM104.0 126.2h1.4v1.4h-1.4zM93.3 117.9h1.4v1.4h-1.4zM92.6 121.1h1.4v1.4h-1.4zM92.9 115.1h1.4v1.4h-1.4zM103.6 119.1h1.4v1.4h-1.4zM95.4 106.9h1.4v1.4h-1.4zM89.1 123.2h1.4v1.4h-1.4zM99.6 116.3h1.4v1.4h-1.4zM103.3 116.9h1.4v1.4h-1.4zM93.4 115.4h1.4v1.4h-1.4zM96.6 115.9h1.4v1.4h-1.4zM109.5 119.5h1.4v1.4h-1.4zM98.4 114.5h1.4v1.4h-1.4zM93.7 110.1h1.4v1.4h-1.4zM87.7 113.3h1.4v1.4h-1.4zM89.5 104.9h1.4v1.4h-1.4zM92.4 103.9h1.4v1.4h-1.4zM103.9 123.5h1.4v1.4h-1.4zM92.2 128.2h1.4v1.4h-1.4zM100.4 100.9h1.4v1.4h-1.4zM97.2 110.0h1.4v1.4h-1.4zM88.4 114.4h1.4v1.4h-1.4zM102.8 118.7h1.4v1.4h-1.4zM89.8 112.0h1.4v1.4h-1.4zM93.3 122.9h1.4v1.4h-1.4zM96.6 110.1h1.4v1.4h-1.4zM92.5 104.2h1.4v1.4h-1.4zM92.8 121.4h1.4v1.4h-1.4zM87.5 117.2h1.4v1.4h-1.4zM96.5 120.9h1.4v1.4h-1.4zM91.3 121.5h1.4v1.4h-1.4zM104.8 129.7h1.4v1.4h-1.4zM88.9 115.8h1.4v1.4h-1.4zM96.0 116.7h1.4v1.4h-1.4zM92.1 121.1h1.4v1.4h-1.4zM108.8 125.0h1.4v1.4h-1.4zM92.3 112.5h1.4v1.4h-1.4zM100.7 116.8h1.4v1.4h-1.4zM93.2 123.4h1.4v1.4h-1.4zM99.6 122.1h1.4v1.4h-1.4zM96.2 123.7h1.4v1.4h-1.4zM94.7 109.3h1.4v1.4h-1.4zM97.0 107.6h1.4v1.4h-1.4zM103.3 120.4h1.4v1.4h-1.4zM88.6 117.0h1.4v1.4h-1.4zM101.3 113.8h1.4v1.4h-1.4zM99.1 112.5h1.4v1.4h-1.4zM96.7 115.5h1.4v1.4h-1.4zM99.5 110.2h1.4v1.4h-1.4zM91.4 118.0h1.4v1.4h-1.4zM94.5 119.1h1.4v1.4h-1.4zM94.5 108.1h1.4v1.4h-1.4zM100.7 117.6h1.4v1.4h-1.4zM100.7 114.0h1.4v1.4h-1.4zM95.2 123.6h1.4v1.4h-1.4zM88.5 126.5h1.4v1.4h-1.4zM99.6 115.7h1.4v1.4h-1.4zM97.5 119.6h1.4v1.4h-1.4zM93.2 117.7h1.4v1.4h-1.4zM92.2 104.9h1.4v1.4h-1.4zM98.0 116.6h1.4v1.4h-1.4zM100.3 119.3h1.4v1.4h-1.4zM100.5 120.8h1.4v1.4h-1.4zM91.7 123.3h1.4v1.4h-1.4zM110.5 112.6h1.4v1.4h-1.4zM90.7 120.1h1.4v1.4h-1.4zM101.6 122.1h1.4v1.4h-1.4zM104.7 107.7h1.4v1.4h-1.4zM98.9 118.8h1.4v1.4h-1.4zM103.3 110.6h1.4v1.4h-1.4zM97.1 113.8h1.4v1.4h-1.4zM96.2 115.1h1.4v1.4h-1.4zM96.3 105.4h1.4v1.4h-1.4zM96.8 116.4h1.4v1.4h-1.4zM95.1 94.6h1.4v1.4h-1.4zM93.5 112.1h1.4v1.4h-1.4zM92.6 125.6h1.4v1.4h-1.4zM101.7 114.9h1.4v1.4h-1.4zM100.0 135.8h1.4v1.4h-1.4zM92.1 118.9h1.4v1.4h-1.4zM94.0 124.9h1.4v1.4h-1.4zM102.6 115.3h1.4v1.4h-1.4zM100.1 111.2h1.4v1.4h-1.4zM89.1 121.1h1.4v1.4h-1.4zM105.2 114.2h1.4v1.4h-1.4zM94.4 105.2h1.4v1.4h-1.4zM107.8 108.8h1.4v1.4h-1.4zM92.1 114.8h1.4v1.4h-1.4zM103.1 116.3h1.4v1.4h-1.4zM96.9 116.1h1.4v1.4h-1.4zM101.3 115.8h1.4v1.4h-1.4zM97.8 115.6h1.4v1.4h-1.4zM91.4 124.1h1.4v1.4h-1.4zM93.5 108.1h1.4v1.4h-1.4zM94.8 116.2h1.4v1.4h-1.4zM101.1 107.1h1.4v1.4h-1.4zM90.6 117.1h1.4v1.4h-1.4zM98.9 109.4h1.4v1.4h-1.4zM91.3 117.1h1.4v1.4h-1.4zM96.3 106.3h1.4v1.4h-1.4zM92.6 124.9h1.4v1.4h-1.4zM91.7 122.3h1.4v1.4h-1.4zM89.3 125.0h1.4v1.4h-1.4zM105.1 112.2h1.4v1.4h-1.4zM93.6 119.8h1.4v1.4h-1.4zM90.8 119.3h1.4v1.4h-1.4zM103.1 117.6h1.4v1.4h-1.4zM98.6 115.1h1.4v1.4h-1.4zM102.1 111.1h1.4v1.4h-1.4zM105.0 115.9h1.4v1.4h-1.4zM95.4 106.2h1.4v1.4h-1.4zM94.8 117.4h1.4v1.4h-1.4zM103.3 106.3h1.4v1.4h-1.4zM96.4 111.9h1.4v1.4h-1.4zM91.0 116.0h1.4v1.4h-1.4zM93.2 121.2h1.4v1.4h-1.4zM83.5 120.4h1.4v1.4h-1.4zM87.4 104.3h1.4v1.4h-1.4zM99.6 114.0h1.4v1.4h-1.4zM97.7 110.2h1.4v1.4h-1.4zM91.7 111.6h1.4v1.4h-1.4zM96.7 110.9h1.4v1.4h-1.4zM94.9 110.8h1.4v1.4h-1.4zM98.2 109.1h1.4v1.4h-1.4zM86.6 100.2h1.4v1.4h-1.4zM96.9 116.6h1.4v1.4h-1.4zM101.8 111.5h1.4v1.4h-1.4zM91.3 107.0h1.4v1.4h-1.4zM100.8 112.2h1.4v1.4h-1.4zM102.0 115.5h1.4v1.4h-1.4zM95.6 104.8h1.4v1.4h-1.4zM93.6 120.8h1.4v1.4h-1.4zM93.9 120.1h1.4v1.4h-1.4zM88.7 122.1h1.4v1.4h-1.4zM111.0 122.7h1.4v1.4h-1.4zM98.6 108.6h1.4v1.4h-1.4zM94.4 112.1h1.4v1.4h-1.4zM97.9 103.8h1.4v1.4h-1.4zM92.7 120.8h1.4v1.4h-1.4zM97.7 120.5h1.4v1.4h-1.4zM101.3 109.1h1.4v1.4h-1.4zM90.2 118.8h1.4v1.4h-1.4zM97.2 116.5h1.4v1.4h-1.4zM92.9 122.1h1.4v1.4h-1.4zM99.5 122.9h1.4v1.4h-1.4zM95.2 120.2h1.4v1.4h-1.4zM96.7 110.3h1.4v1.4h-1.4zM96.6 106.0h1.4v1.4h-1.4zM96.1 117.1h1.4v1.4h-1.4zM100.5 109.7h1.4v1.4h-1.4zM90.3 111.6h1.4v1.4h-1.4zM86.6 112.1h1.4v1.4h-1.4zM110.1 116.9h1.4v1.4h-1.4zM93.2 111.9h1.4v1.4h-1.4zM105.9 109.0h1.4v1.4h-1.4zM96.4 115.5h1.4v1.4h-1.4zM93.3 111.7h1.4v1.4h-1.4zM88.6 110.9h1.4v1.4h-1.4zM103.5 124.5h1.4v1.4h-1.4zM95.6 120.2h1.4v1.4h-1.4zM99.3 116.7h1.4v1.4h-1.4zM96.3 123.3h1.4v1.4h-1.4zM99.9 114.6h1.4v1.4h-1.4zM95.8 121.6h1.4v1.4h-1.4zM94.0 111.7h1.4v1.4h-1.4zM95.6 113.0h1.4v1.4h-1.4zM103.3 118.1h1.4v1.4h-1.4zM96.6 112.8h1.4v1.4h-1.4zM104.1 118.7h1.4v1.4h-1.4zM107.4 121.5h1.4v1.4h-1.4zM95.9 112.7h1.4v1.4h-1.4zM95.6 117.1h1.4v1.4h-1.4zM101.0 118.9h1.4v1.4h-1.4zM104.9 106.8h1.4v1.4h-1.4zM97.1 107.5h1.4v1.4h-1.4zM91.8 112.4h1.4v1.4h-1.4zM93.7 110.2h1.4v1.4h-1.4zM89.4 122.8h1.4v1.4h-1.4zM95.4 121.8h1.4v1.4h-1.4zM91.5 102.0h1.4v1.4h-1.4zM94.0 121.3h1.4v1.4h-1.4zM94.2 118.4h1.4v1.4h-1.4zM91.6 124.4h1.4v1.4h-1.4zM99.2 122.3h1.4v1.4h-1.4zM95.6 123.7h1.4v1.4h-1.4zM97.4 113.1h1.4v1.4h-1.4zM93.8 116.3h1.4v1.4h-1.4zM92.4 108.8h1.4v1.4h-1.4zM97.7 120.3h1.4v1.4h-1.4zM95.5 121.1h1.4v1.4h-1.4zM104.9 108.4h1.4v1.4h-1.4zM98.3 110.2h1.4v1.4h-1.4zM93.8 117.1h1.4v1.4h-1.4zM85.1 119.6h1.4v1.4h-1.4zM101.2 119.3h1.4v1.4h-1.4zM100.2 126.9h1.4v1.4h-1.4zM95.2 122.6h1.4v1.4h-1.4zM104.3 119.0h1.4v1.4h-1.4zM88.1 115.1h1.4v1.4h-1.4zM95.5 106.3h1.4v1.4h-1.4zM96.7 120.5h1.4v1.4h-1.4zM95.7 114.9h1.4v1.4h-1.4zM104.4 112.3h1.4v1.4h-1.4zM92.3 116.2h1.4v1.4h-1.4zM102.6 119.6h1.4v1.4h-1.4zM97.4 113.0h1.4v1.4h-1.4zM103.2 121.3h1.4v1.4h-1.4zM88.3 118.0h1.4v1.4h-1.4zM84.9 125.0h1.4v1.4h-1.4zM100.1 112.2h1.4v1.4h-1.4zM90.5 114.2h1.4v1.4h-1.4zM88.2 119.4h1.4v1.4h-1.4zM94.4 105.4h1.4v1.4h-1.4zM96.9 123.1h1.4v1.4h-1.4zM90.6 113.9h1.4v1.4h-1.4zM106.1 117.1h1.4v1.4h-1.4zM94.2 117.1h1.4v1.4h-1.4zM100.9 110.0h1.4v1.4h-1.4zM96.5 106.2h1.4v1.4h-1.4zM89.1 106.7h1.4v1.4h-1.4zM101.2 117.9h1.4v1.4h-1.4zM100.7 123.3h1.4v1.4h-1.4zM97.2 117.4h1.4v1.4h-1.4zM99.0 118.8h1.4v1.4h-1.4zM91.7 114.3h1.4v1.4h-1.4zM96.2 116.2h1.4v1.4h-1.4zM93.2 115.2h1.4v1.4h-1.4zM98.4 117.1h1.4v1.4h-1.4zM100.0 120.9h1.4v1.4h-1.4zM99.8 121.8h1.4v1.4h-1.4zM101.2 124.4h1.4v1.4h-1.4zM100.1 112.3h1.4v1.4h-1.4zM108.7 122.8h1.4v1.4h-1.4zM103.3 120.4h1.4v1.4h-1.4zM97.2 109.1h1.4v1.4h-1.4zM99.2 113.9h1.4v1.4h-1.4zM95.0 103.1h1.4v1.4h-1.4zM104.8 109.0h1.4v1.4h-1.4zM91.5 118.8h1.4v1.4h-1.4zM99.8 111.2h1.4v1.4h-1.4zM97.0 117.5h1.4v1.4h-1.4zM97.8 119.2h1.4v1.4h-1.4zM100.9 113.8h1.4v1.4h-1.4zM88.9 129.0h1.4v1.4h-1.4zM95.1 110.0h1.4v1.4h-1.4z"/>
<path fill="#6a6a6a" d="M147.6 68.6h1.4v1.4h-1.4zM139.1 84.9h1.4v1.4h-1.4zM122.2 100.2h1.4v1.4h-1.4zM140.2 75.9h1.4v1.4h-1.4zM142.3 71.5h1.4v1.4h-1.4zM140.3 69.7h1.4v1.4h-1.4zM140.0 82.0h1.4v1.4h-1.4zM120.1 102.3h1.4v1.4h-1.4zM119.2 95.5h1.4v1.4h-1.4zM146.8 65.7h1.4v1.4h-1.4zM132.2 78.2h1.4v1.4h-1.4zM138.6 75.9h1.4v1.4h-1.4zM131.5 78.7h1.4v1.4h-1.4zM142.1 74.2h1.4v1.4h-1.4zM150.8 64.7h1.4v1.4h-1.4zM118.8 105.4h1.4v1.4h-1.4zM137.1 74.3h1.4v1.4h-1.4zM145.5 72.4h1.4v1.4h-1.4zM124.3 88.1h1.4v1.4h-1.4zM144.9 67.3h1.4v1.4h-1.4zM153.0 61.1h1.4v1.4h-1.4zM132.7 78.2h1.4v1.4h-1.4zM141.9 66.3h1.4v1.4h-1.4zM126.3 85.6h1.4v1.4h-1.4zM137.4 76.5h1.4v1.4h-1.4zM148.4 70.2h1.4v1.4h-1.4z"/>
<path fill="#777" d="M153.0 101.2h1.4v1.4h-1.4zM144.0 101.5h1.4v1.4h-1.4zM147.5 93.2h1.4v1.4h-1.4zM148.2 92.9h1.4v1.4h-1.4zM153.4 96.3h1.4v1.4h-1.4zM149.2 96.2h1.4v1.4h-1.4zM147.7 95.7h1.4v1.4h-1.4zM149.6 103.8h1.4v1.4h-1.4zM150.4 90.6h1.4v1.4h-1.4zM148.5 100.7h1.4v1.4h-1.4zM149.5 96.8h1.4v1.4h-1.4zM151.3 95.9h1.4v1.4h-1.4zM149.1 95.6h1.4v1.4h-1.4zM141.1 92.3h1.4v1.4h-1.4zM149.6 92.7h1.4v1.4h-1.4zM149.3 87.9h1.4v1.4h-1.4zM149.7 96.0h1.4v1.4h-1.4zM150.4 102.8h1.4v1.4h-1.4zM150.9 99.3h1.4v1.4h-1.4zM149.8 98.5h1.4v1.4h-1.4zM149.9 98.1h1.4v1.4h-1.4zM149.2 94.9h1.4v1.4h-1.4zM151.8 95.5h1.4v1.4h-1.4zM145.8 95.4h1.4v1.4h-1.4zM146.2 98.2h1.4v1.4h-1.4zM150.4 91.7h1.4v1.4h-1.4zM153.1 99.9h1.4v1.4h-1.4zM151.2 95.8h1.4v1.4h-1.4zM147.9 99.9h1.4v1.4h-1.4zM150.9 97.2h1.4v1.4h-1.4z"/>
<g filter="url(#rag)">
<path d="M36 108.5C48 106.5 60 105.5 68 107C76 109 84 117 90 126L93 134L93 162L36 162Z" fill="#474747"/>
<ellipse cx="116" cy="100.5" rx="26" ry="23.3" transform="rotate(-28 116 100.5)" fill="#3f3f3f"/>
<ellipse cx="116" cy="142" rx="25" ry="22" fill="#393939"/>
<rect x="84" y="118" width="26" height="45" fill="#3c3c3c"/>
<ellipse cx="99" cy="116" rx="6" ry="7" fill="#404040"/>
</g>
<g filter="url(#rag2)">
<path d="M36 127.5C48 125.5 63 126 71 129.5C77 133.5 79.5 141 78.5 149C77.5 155 76 159 74 163L36 163Z" fill="#6e6e6e"/>
<ellipse cx="116.2" cy="100.3" rx="17.6" ry="14.8" transform="rotate(-22 116.2 100.3)" fill="#6e6e6e"/>
<ellipse cx="62.9" cy="145" rx="8.3" ry="9.8" fill="#9c9c9c"/>
<ellipse cx="117.6" cy="99.5" rx="11.8" ry="9" transform="rotate(-18 117.6 99.5)" fill="#a2a2a2"/>
<ellipse cx="117.9" cy="99.4" rx="8.2" ry="6" transform="rotate(-18 117.9 99.4)" fill="#cdcdcd"/>
</g>
<path fill="#e4e4e4" d="M80.4 109.5h1.3v1.3h-1.3zM83.2 112.3h1.3v1.3h-1.3zM92.1 125.2h1.3v1.3h-1.3zM86.3 113.3h1.3v1.3h-1.3zM83.5 113.5h1.3v1.3h-1.3zM80.5 112.6h1.3v1.3h-1.3zM87.1 112.4h1.3v1.3h-1.3zM100.7 122.1h1.3v1.3h-1.3zM83.8 112.2h1.3v1.3h-1.3zM88.4 121.6h1.3v1.3h-1.3zM90.1 125.1h1.3v1.3h-1.3zM86.5 116.1h1.3v1.3h-1.3zM90.4 120.1h1.3v1.3h-1.3zM79.1 105.7h1.3v1.3h-1.3zM87.5 118.9h1.3v1.3h-1.3zM77.1 109.1h1.3v1.3h-1.3zM89.1 113.7h1.3v1.3h-1.3zM85.8 118.3h1.3v1.3h-1.3zM88.3 116.8h1.3v1.3h-1.3zM78.9 110.8h1.3v1.3h-1.3zM86.2 115.4h1.3v1.3h-1.3zM84.6 110.1h1.3v1.3h-1.3zM75.6 102.2h1.3v1.3h-1.3zM89.6 121.8h1.3v1.3h-1.3zM78.8 112.1h1.3v1.3h-1.3zM85.5 111.2h1.3v1.3h-1.3zM87.9 121.9h1.3v1.3h-1.3zM85.0 109.9h1.3v1.3h-1.3zM88.7 110.1h1.3v1.3h-1.3zM82.8 116.5h1.3v1.3h-1.3zM87.7 114.6h1.3v1.3h-1.3zM89.6 117.6h1.3v1.3h-1.3zM92.3 121.1h1.3v1.3h-1.3zM96.4 125.8h1.3v1.3h-1.3zM87.6 113.8h1.3v1.3h-1.3zM77.6 106.8h1.3v1.3h-1.3zM88.5 114.7h1.3v1.3h-1.3zM88.7 116.8h1.3v1.3h-1.3zM82.2 110.6h1.3v1.3h-1.3zM85.9 117.4h1.3v1.3h-1.3zM90.9 122.0h1.3v1.3h-1.3zM82.3 108.6h1.3v1.3h-1.3zM88.9 114.5h1.3v1.3h-1.3zM84.7 112.4h1.3v1.3h-1.3zM84.2 113.7h1.3v1.3h-1.3zM87.8 122.7h1.3v1.3h-1.3z"/>
<path fill="#9a9a9a" d="M106.2 152.1h1.2v1.2h-1.2zM92.5 152.4h1.2v1.2h-1.2zM109.1 130.8h1.2v1.2h-1.2zM117.7 137.9h1.2v1.2h-1.2zM100.4 135.8h1.2v1.2h-1.2zM96.0 152.7h1.2v1.2h-1.2zM101.8 139.6h1.2v1.2h-1.2zM108.1 134.5h1.2v1.2h-1.2zM94.0 137.9h1.2v1.2h-1.2zM94.7 149.2h1.2v1.2h-1.2zM98.4 133.5h1.2v1.2h-1.2zM96.8 125.1h1.2v1.2h-1.2zM101.2 143.9h1.2v1.2h-1.2zM104.3 140.9h1.2v1.2h-1.2zM102.8 134.6h1.2v1.2h-1.2zM100.2 144.4h1.2v1.2h-1.2zM91.5 148.3h1.2v1.2h-1.2zM101.0 143.5h1.2v1.2h-1.2zM100.0 136.1h1.2v1.2h-1.2zM94.0 148.3h1.2v1.2h-1.2zM98.5 135.9h1.2v1.2h-1.2zM94.9 151.4h1.2v1.2h-1.2zM100.6 152.5h1.2v1.2h-1.2zM99.9 132.3h1.2v1.2h-1.2zM106.1 145.9h1.2v1.2h-1.2zM95.4 140.2h1.2v1.2h-1.2zM93.2 150.5h1.2v1.2h-1.2zM97.1 147.3h1.2v1.2h-1.2z"/>
<path fill="#aaa" d="M141.0 118.9h1.2v1.2h-1.2zM141.5 119.0h1.2v1.2h-1.2zM135.3 117.0h1.2v1.2h-1.2zM135.3 131.1h1.2v1.2h-1.2zM142.6 115.0h1.2v1.2h-1.2zM142.5 125.0h1.2v1.2h-1.2zM143.9 110.8h1.2v1.2h-1.2zM140.1 110.1h1.2v1.2h-1.2zM137.3 138.4h1.2v1.2h-1.2zM131.9 111.0h1.2v1.2h-1.2zM142.0 131.3h1.2v1.2h-1.2zM136.9 97.6h1.2v1.2h-1.2zM133.1 126.4h1.2v1.2h-1.2zM144.4 132.9h1.2v1.2h-1.2zM137.1 138.2h1.2v1.2h-1.2zM139.2 129.4h1.2v1.2h-1.2zM139.2 141.1h1.2v1.2h-1.2zM137.9 96.2h1.2v1.2h-1.2zM138.7 124.3h1.2v1.2h-1.2zM141.1 113.4h1.2v1.2h-1.2zM139.1 108.4h1.2v1.2h-1.2zM139.1 123.0h1.2v1.2h-1.2zM141.0 141.7h1.2v1.2h-1.2zM132.0 128.2h1.2v1.2h-1.2z"/>
</g>
<rect x="91.5" y="122.5" width="54.5" height="36.5" fill="none" stroke="#111" stroke-width="1"/>
<text x="65.5" y="99.5" font-size="7" font-weight="normal" fill="#222">R2</text>
<rect x="38.5" y="40.8" width="117.30000000000001" height="118.60000000000001" fill="none" stroke="#000" stroke-width="1.6"/>
<path d="M38.5 159.4v4M47.3 159.4v2M52.5 159.4v2M56.2 159.4v2M59.0 159.4v2M61.3 159.4v2M63.3 159.4v2M65.0 159.4v2M66.5 159.4v2M67.8 159.4v4M76.7 159.4v2M81.8 159.4v2M85.5 159.4v2M88.3 159.4v2M90.6 159.4v2M92.6 159.4v2M94.3 159.4v2M95.8 159.4v2M97.2 159.4v4M106.0 159.4v2M111.1 159.4v2M114.8 159.4v2M117.6 159.4v2M120.0 159.4v2M121.9 159.4v2M123.6 159.4v2M125.1 159.4v2M126.5 159.4v4M135.3 159.4v2M140.5 159.4v2M144.1 159.4v2M147.0 159.4v2M149.3 159.4v2M151.3 159.4v2M153.0 159.4v2M154.5 159.4v2M155.8 159.4v4M38.5 159.4h-4M38.5 150.5h-2M38.5 145.3h-2M38.5 141.5h-2M38.5 138.7h-2M38.5 136.3h-2M38.5 134.3h-2M38.5 132.6h-2M38.5 131.1h-2M38.5 129.8h-4M38.5 120.8h-2M38.5 115.6h-2M38.5 111.9h-2M38.5 109.0h-2M38.5 106.7h-2M38.5 104.7h-2M38.5 103.0h-2M38.5 101.5h-2M38.5 100.1h-4M38.5 91.2h-2M38.5 86.0h-2M38.5 82.2h-2M38.5 79.4h-2M38.5 77.0h-2M38.5 75.0h-2M38.5 73.3h-2M38.5 71.8h-2M38.5 70.5h-4M38.5 61.5h-2M38.5 56.3h-2M38.5 52.6h-2M38.5 49.7h-2M38.5 47.4h-2M38.5 45.4h-2M38.5 43.7h-2M38.5 42.2h-2M38.5 40.8h-4" stroke="#000" stroke-width="1" fill="none"/>
<text font-size="11.2" transform="translate(30.9 175.7)">10<tspan font-size="7" dy="-4.2">0</tspan></text>
<text font-size="11.2" transform="translate(60.0 175.7)">10<tspan font-size="7" dy="-4.2">1</tspan></text>
<text font-size="11.2" transform="translate(90.2 175.7)">10<tspan font-size="7" dy="-4.2">2</tspan></text>
<text font-size="11.2" transform="translate(120.2 175.7)">10<tspan font-size="7" dy="-4.2">3</tspan></text>
<text font-size="11.2" transform="translate(146.8 175.7)">10<tspan font-size="7" dy="-4.2">4</tspan></text>
<text font-size="12.6" transform="translate(31.3 165.9) rotate(-90) scale(0.9 1)">10<tspan font-size="7.6" dy="-4.6">0</tspan></text>
<text font-size="12.6" transform="translate(31.3 138.4) rotate(-90) scale(0.9 1)">10<tspan font-size="7.6" dy="-4.6">1</tspan></text>
<text font-size="12.6" transform="translate(31.3 109.9) rotate(-90) scale(0.9 1)">10<tspan font-size="7.6" dy="-4.6">2</tspan></text>
<text font-size="12.6" transform="translate(31.3 79.4) rotate(-90) scale(0.9 1)">10<tspan font-size="7.6" dy="-4.6">3</tspan></text>
<text font-size="12.6" transform="translate(31.3 50.8) rotate(-90) scale(0.9 1)">10<tspan font-size="7.6" dy="-4.6">4</tspan></text>
<text x="74.8" y="188.5" font-size="14.2">CD3</text>
<text transform="translate(17 129.8) rotate(-90) scale(0.9 1)" font-size="16">CD4/CD8</text>
<text x="204.8" y="63.4" font-size="17" text-anchor="middle">magnetic</text>
<text x="207.5" y="83.5" font-size="17" text-anchor="middle">separation</text>
<text x="289.7" y="141.9" font-size="17" text-anchor="middle">flow cytometric</text>
<text x="287.5" y="162.1" font-size="17" text-anchor="middle">sorting</text>
<path d="M175.2 106.5H235.7V103.2L244.7 107.8L235.7 112.39999999999999V109.1H175.2z" fill="#000"/>
<path d="M264 106.5H325.7V103.2L334.7 107.8L325.7 112.39999999999999V109.1H264z" fill="#000"/>
<path fill="#444" d="M479.9 133.2h1.3v1.3h-1.3zM468.0 148.3h1.3v1.3h-1.3zM492.1 147.9h1.3v1.3h-1.3zM482.7 151.0h1.3v1.3h-1.3zM475.2 150.3h1.3v1.3h-1.3zM482.1 152.9h1.3v1.3h-1.3zM470.0 149.5h1.3v1.3h-1.3zM465.9 137.5h1.3v1.3h-1.3zM475.9 150.0h1.3v1.3h-1.3zM460.0 148.2h1.3v1.3h-1.3zM477.9 133.5h1.3v1.3h-1.3zM483.4 145.7h1.3v1.3h-1.3zM479.9 134.7h1.3v1.3h-1.3zM467.1 149.7h1.3v1.3h-1.3zM487.9 145.4h1.3v1.3h-1.3zM462.1 150.3h1.3v1.3h-1.3zM475.5 152.3h1.3v1.3h-1.3zM470.3 150.9h1.3v1.3h-1.3zM470.4 147.2h1.3v1.3h-1.3zM487.6 136.9h1.3v1.3h-1.3zM483.8 142.4h1.3v1.3h-1.3zM468.6 144.1h1.3v1.3h-1.3zM481.6 136.8h1.3v1.3h-1.3zM483.1 138.6h1.3v1.3h-1.3zM486.6 139.5h1.3v1.3h-1.3zM470.6 151.0h1.3v1.3h-1.3zM487.9 137.3h1.3v1.3h-1.3zM481.1 133.3h1.3v1.3h-1.3zM482.1 132.5h1.3v1.3h-1.3zM477.1 132.7h1.3v1.3h-1.3zM478.1 130.6h1.3v1.3h-1.3zM483.2 132.1h1.3v1.3h-1.3zM460.8 155.7h1.3v1.3h-1.3zM486.6 135.8h1.3v1.3h-1.3zM467.3 146.3h1.3v1.3h-1.3zM493.0 147.2h1.3v1.3h-1.3zM481.7 133.1h1.3v1.3h-1.3zM461.7 145.6h1.3v1.3h-1.3zM484.6 143.6h1.3v1.3h-1.3zM476.3 153.4h1.3v1.3h-1.3zM469.4 151.2h1.3v1.3h-1.3zM483.1 137.6h1.3v1.3h-1.3zM481.1 134.8h1.3v1.3h-1.3zM472.2 150.7h1.3v1.3h-1.3zM469.1 133.4h1.3v1.3h-1.3zM491.1 145.2h1.3v1.3h-1.3zM474.1 155.6h1.3v1.3h-1.3zM482.1 129.4h1.3v1.3h-1.3zM487.2 144.2h1.3v1.3h-1.3zM483.3 133.4h1.3v1.3h-1.3zM469.4 137.4h1.3v1.3h-1.3zM480.8 133.6h1.3v1.3h-1.3zM470.5 150.0h1.3v1.3h-1.3zM469.0 129.1h1.3v1.3h-1.3zM464.6 150.2h1.3v1.3h-1.3zM483.0 149.5h1.3v1.3h-1.3zM472.1 133.5h1.3v1.3h-1.3zM468.2 136.7h1.3v1.3h-1.3zM489.9 140.3h1.3v1.3h-1.3zM474.8 134.8h1.3v1.3h-1.3zM472.3 130.7h1.3v1.3h-1.3zM459.4 153.0h1.3v1.3h-1.3zM467.7 145.9h1.3v1.3h-1.3zM484.2 150.0h1.3v1.3h-1.3zM476.8 151.1h1.3v1.3h-1.3zM480.4 154.7h1.3v1.3h-1.3zM475.3 130.4h1.3v1.3h-1.3zM474.1 132.7h1.3v1.3h-1.3zM490.3 136.4h1.3v1.3h-1.3zM467.6 130.1h1.3v1.3h-1.3zM488.3 147.2h1.3v1.3h-1.3zM470.4 132.7h1.3v1.3h-1.3zM467.2 141.8h1.3v1.3h-1.3zM483.3 138.7h1.3v1.3h-1.3zM489.3 157.6h1.3v1.3h-1.3zM477.6 125.5h1.3v1.3h-1.3zM485.2 141.7h1.3v1.3h-1.3zM481.7 150.2h1.3v1.3h-1.3zM468.1 143.0h1.3v1.3h-1.3zM473.0 157.2h1.3v1.3h-1.3zM477.6 155.3h1.3v1.3h-1.3zM475.0 150.6h1.3v1.3h-1.3zM485.1 125.5h1.3v1.3h-1.3zM485.1 143.9h1.3v1.3h-1.3zM475.7 132.4h1.3v1.3h-1.3zM500.1 136.7h1.3v1.3h-1.3zM465.4 150.8h1.3v1.3h-1.3zM459.2 138.4h1.3v1.3h-1.3zM479.6 134.8h1.3v1.3h-1.3zM460.3 148.2h1.3v1.3h-1.3zM473.7 150.9h1.3v1.3h-1.3zM464.7 139.6h1.3v1.3h-1.3zM470.4 152.2h1.3v1.3h-1.3zM462.5 149.6h1.3v1.3h-1.3zM463.8 138.0h1.3v1.3h-1.3zM464.8 137.0h1.3v1.3h-1.3zM490.5 143.7h1.3v1.3h-1.3zM466.9 141.1h1.3v1.3h-1.3zM485.6 151.5h1.3v1.3h-1.3zM492.5 146.6h1.3v1.3h-1.3zM454.7 141.4h1.3v1.3h-1.3zM481.7 136.2h1.3v1.3h-1.3zM471.4 149.6h1.3v1.3h-1.3zM477.4 133.7h1.3v1.3h-1.3zM471.5 118.3h1.3v1.3h-1.3zM476.2 132.9h1.3v1.3h-1.3zM475.8 133.2h1.3v1.3h-1.3zM468.7 138.4h1.3v1.3h-1.3zM498.8 133.2h1.3v1.3h-1.3zM466.6 138.3h1.3v1.3h-1.3zM484.8 148.7h1.3v1.3h-1.3zM464.5 134.7h1.3v1.3h-1.3zM491.9 145.6h1.3v1.3h-1.3zM472.6 152.0h1.3v1.3h-1.3zM470.7 136.4h1.3v1.3h-1.3zM477.4 129.6h1.3v1.3h-1.3zM468.8 150.4h1.3v1.3h-1.3zM483.2 151.2h1.3v1.3h-1.3zM486.6 140.7h1.3v1.3h-1.3zM487.2 136.9h1.3v1.3h-1.3zM479.3 155.2h1.3v1.3h-1.3zM470.2 137.4h1.3v1.3h-1.3zM471.4 129.8h1.3v1.3h-1.3zM494.1 138.7h1.3v1.3h-1.3zM458.9 149.9h1.3v1.3h-1.3zM483.9 142.2h1.3v1.3h-1.3zM477.4 155.4h1.3v1.3h-1.3zM487.6 143.8h1.3v1.3h-1.3zM465.4 149.4h1.3v1.3h-1.3zM475.8 151.6h1.3v1.3h-1.3zM481.5 136.7h1.3v1.3h-1.3zM470.9 160.4h1.3v1.3h-1.3zM469.2 149.8h1.3v1.3h-1.3zM481.7 148.9h1.3v1.3h-1.3zM487.3 132.0h1.3v1.3h-1.3zM483.9 126.3h1.3v1.3h-1.3zM484.5 151.0h1.3v1.3h-1.3zM468.7 140.3h1.3v1.3h-1.3zM469.6 137.3h1.3v1.3h-1.3zM485.5 153.1h1.3v1.3h-1.3zM482.3 155.7h1.3v1.3h-1.3zM476.9 133.9h1.3v1.3h-1.3zM484.5 152.0h1.3v1.3h-1.3zM469.0 150.0h1.3v1.3h-1.3zM483.6 154.1h1.3v1.3h-1.3zM462.9 137.4h1.3v1.3h-1.3zM494.8 146.0h1.3v1.3h-1.3zM471.7 128.1h1.3v1.3h-1.3zM468.5 146.5h1.3v1.3h-1.3zM489.1 133.7h1.3v1.3h-1.3zM462.4 149.6h1.3v1.3h-1.3zM486.5 143.8h1.3v1.3h-1.3zM475.6 153.8h1.3v1.3h-1.3zM483.1 154.9h1.3v1.3h-1.3zM482.3 136.5h1.3v1.3h-1.3zM483.7 150.1h1.3v1.3h-1.3zM473.6 132.6h1.3v1.3h-1.3zM473.3 124.9h1.3v1.3h-1.3zM469.7 151.0h1.3v1.3h-1.3zM478.0 151.3h1.3v1.3h-1.3zM468.1 136.4h1.3v1.3h-1.3zM465.6 139.4h1.3v1.3h-1.3zM464.1 130.7h1.3v1.3h-1.3zM465.2 133.9h1.3v1.3h-1.3zM488.9 153.3h1.3v1.3h-1.3zM486.3 137.9h1.3v1.3h-1.3zM481.2 133.6h1.3v1.3h-1.3zM463.3 144.0h1.3v1.3h-1.3zM481.1 126.2h1.3v1.3h-1.3zM456.4 140.3h1.3v1.3h-1.3zM467.0 147.0h1.3v1.3h-1.3zM489.4 144.5h1.3v1.3h-1.3zM482.2 157.1h1.3v1.3h-1.3zM462.1 140.7h1.3v1.3h-1.3zM466.0 135.8h1.3v1.3h-1.3zM461.2 131.6h1.3v1.3h-1.3zM468.8 140.8h1.3v1.3h-1.3zM469.7 147.4h1.3v1.3h-1.3zM472.5 132.8h1.3v1.3h-1.3zM472.4 159.7h1.3v1.3h-1.3zM480.8 154.1h1.3v1.3h-1.3zM473.5 135.4h1.3v1.3h-1.3zM484.6 149.8h1.3v1.3h-1.3zM470.8 151.1h1.3v1.3h-1.3zM491.0 146.7h1.3v1.3h-1.3zM477.8 150.8h1.3v1.3h-1.3zM458.5 129.7h1.3v1.3h-1.3zM473.1 125.1h1.3v1.3h-1.3zM464.0 158.5h1.3v1.3h-1.3zM478.8 124.8h1.3v1.3h-1.3zM478.2 150.3h1.3v1.3h-1.3zM477.7 132.1h1.3v1.3h-1.3zM484.0 138.3h1.3v1.3h-1.3zM473.7 158.6h1.3v1.3h-1.3zM475.0 159.5h1.3v1.3h-1.3zM479.8 132.7h1.3v1.3h-1.3zM487.8 152.6h1.3v1.3h-1.3zM496.8 137.2h1.3v1.3h-1.3zM468.9 145.3h1.3v1.3h-1.3zM489.2 134.5h1.3v1.3h-1.3zM480.0 158.5h1.3v1.3h-1.3zM486.8 143.1h1.3v1.3h-1.3zM486.7 144.4h1.3v1.3h-1.3zM485.5 143.9h1.3v1.3h-1.3zM468.7 135.7h1.3v1.3h-1.3zM479.6 157.4h1.3v1.3h-1.3zM491.3 140.0h1.3v1.3h-1.3zM496.5 133.7h1.3v1.3h-1.3zM469.3 149.9h1.3v1.3h-1.3zM463.8 149.7h1.3v1.3h-1.3zM466.4 145.5h1.3v1.3h-1.3zM483.8 142.1h1.3v1.3h-1.3zM484.5 142.7h1.3v1.3h-1.3zM465.1 141.2h1.3v1.3h-1.3zM460.3 130.2h1.3v1.3h-1.3zM486.8 140.7h1.3v1.3h-1.3zM470.0 152.4h1.3v1.3h-1.3zM474.8 130.5h1.3v1.3h-1.3zM472.6 135.5h1.3v1.3h-1.3zM474.7 135.2h1.3v1.3h-1.3zM470.3 148.5h1.3v1.3h-1.3zM486.3 141.0h1.3v1.3h-1.3zM468.3 140.0h1.3v1.3h-1.3zM461.8 138.2h1.3v1.3h-1.3zM466.5 141.1h1.3v1.3h-1.3zM467.0 147.8h1.3v1.3h-1.3zM486.8 151.4h1.3v1.3h-1.3zM465.2 145.8h1.3v1.3h-1.3zM462.9 148.5h1.3v1.3h-1.3zM476.1 134.8h1.3v1.3h-1.3zM484.4 145.1h1.3v1.3h-1.3zM464.9 147.4h1.3v1.3h-1.3zM480.8 121.3h1.3v1.3h-1.3zM474.9 153.6h1.3v1.3h-1.3zM474.3 159.2h1.3v1.3h-1.3zM469.1 138.3h1.3v1.3h-1.3zM478.6 153.3h1.3v1.3h-1.3zM485.5 145.9h1.3v1.3h-1.3zM474.3 150.5h1.3v1.3h-1.3zM465.9 134.2h1.3v1.3h-1.3zM472.5 134.8h1.3v1.3h-1.3zM470.2 152.1h1.3v1.3h-1.3zM457.8 147.1h1.3v1.3h-1.3zM465.5 140.6h1.3v1.3h-1.3zM471.5 134.6h1.3v1.3h-1.3zM464.1 143.1h1.3v1.3h-1.3zM452.0 125.6h1.3v1.3h-1.3zM473.0 151.3h1.3v1.3h-1.3zM491.3 140.2h1.3v1.3h-1.3zM480.0 150.0h1.3v1.3h-1.3zM468.4 146.3h1.3v1.3h-1.3zM475.9 151.6h1.3v1.3h-1.3zM469.2 131.9h1.3v1.3h-1.3zM485.4 144.6h1.3v1.3h-1.3zM472.4 135.2h1.3v1.3h-1.3zM466.7 136.7h1.3v1.3h-1.3zM457.4 141.7h1.3v1.3h-1.3zM473.8 134.1h1.3v1.3h-1.3zM467.7 131.7h1.3v1.3h-1.3zM474.1 154.9h1.3v1.3h-1.3zM477.4 134.5h1.3v1.3h-1.3zM482.6 137.3h1.3v1.3h-1.3zM486.3 134.5h1.3v1.3h-1.3zM468.8 148.1h1.3v1.3h-1.3zM494.8 145.4h1.3v1.3h-1.3zM486.9 144.5h1.3v1.3h-1.3zM488.4 137.3h1.3v1.3h-1.3zM487.0 129.9h1.3v1.3h-1.3zM472.2 152.3h1.3v1.3h-1.3zM491.4 149.1h1.3v1.3h-1.3zM459.8 145.5h1.3v1.3h-1.3zM483.5 151.4h1.3v1.3h-1.3zM478.2 159.8h1.3v1.3h-1.3zM482.6 124.0h1.3v1.3h-1.3zM469.0 148.9h1.3v1.3h-1.3zM472.9 149.2h1.3v1.3h-1.3zM497.3 136.4h1.3v1.3h-1.3zM494.4 141.9h1.3v1.3h-1.3zM464.1 143.3h1.3v1.3h-1.3zM483.7 137.9h1.3v1.3h-1.3zM489.2 135.5h1.3v1.3h-1.3zM474.6 149.9h1.3v1.3h-1.3zM490.5 153.4h1.3v1.3h-1.3zM491.7 142.3h1.3v1.3h-1.3zM462.6 142.2h1.3v1.3h-1.3zM472.8 134.5h1.3v1.3h-1.3zM476.7 149.8h1.3v1.3h-1.3zM468.7 151.7h1.3v1.3h-1.3zM486.5 132.6h1.3v1.3h-1.3zM489.4 136.8h1.3v1.3h-1.3zM479.5 151.2h1.3v1.3h-1.3zM483.9 130.0h1.3v1.3h-1.3zM477.6 151.6h1.3v1.3h-1.3zM476.9 155.6h1.3v1.3h-1.3zM471.8 135.0h1.3v1.3h-1.3zM467.1 138.3h1.3v1.3h-1.3zM475.6 128.7h1.3v1.3h-1.3zM463.3 148.0h1.3v1.3h-1.3zM482.3 131.7h1.3v1.3h-1.3zM484.0 123.0h1.3v1.3h-1.3zM495.5 147.2h1.3v1.3h-1.3zM462.5 146.6h1.3v1.3h-1.3zM475.4 135.3h1.3v1.3h-1.3zM480.6 131.8h1.3v1.3h-1.3zM472.2 155.0h1.3v1.3h-1.3zM482.2 155.7h1.3v1.3h-1.3zM465.1 134.2h1.3v1.3h-1.3zM458.3 127.0h1.3v1.3h-1.3zM473.2 134.1h1.3v1.3h-1.3zM467.3 136.9h1.3v1.3h-1.3zM480.9 128.4h1.3v1.3h-1.3zM488.6 139.9h1.3v1.3h-1.3zM468.0 142.3h1.3v1.3h-1.3zM473.0 131.4h1.3v1.3h-1.3zM489.2 137.9h1.3v1.3h-1.3zM490.2 146.4h1.3v1.3h-1.3zM468.8 146.0h1.3v1.3h-1.3zM485.5 145.5h1.3v1.3h-1.3zM475.7 129.0h1.3v1.3h-1.3zM470.3 133.4h1.3v1.3h-1.3zM476.3 154.5h1.3v1.3h-1.3zM457.6 131.9h1.3v1.3h-1.3zM468.6 141.8h1.3v1.3h-1.3zM486.0 136.3h1.3v1.3h-1.3zM469.8 152.2h1.3v1.3h-1.3zM483.2 136.6h1.3v1.3h-1.3zM479.9 132.3h1.3v1.3h-1.3zM469.9 147.4h1.3v1.3h-1.3zM482.8 147.3h1.3v1.3h-1.3zM452.7 149.5h1.3v1.3h-1.3zM470.0 147.9h1.3v1.3h-1.3zM489.4 140.3h1.3v1.3h-1.3zM468.2 144.6h1.3v1.3h-1.3zM464.6 144.5h1.3v1.3h-1.3zM483.7 148.1h1.3v1.3h-1.3zM481.5 152.1h1.3v1.3h-1.3zM469.4 152.3h1.3v1.3h-1.3zM478.0 134.5h1.3v1.3h-1.3zM479.1 153.3h1.3v1.3h-1.3zM494.5 139.9h1.3v1.3h-1.3zM469.4 149.9h1.3v1.3h-1.3zM467.4 152.0h1.3v1.3h-1.3zM467.4 143.3h1.3v1.3h-1.3zM481.3 151.0h1.3v1.3h-1.3zM473.3 133.2h1.3v1.3h-1.3zM463.9 142.6h1.3v1.3h-1.3zM455.6 153.2h1.3v1.3h-1.3zM464.7 137.4h1.3v1.3h-1.3zM470.1 147.9h1.3v1.3h-1.3zM480.6 127.1h1.3v1.3h-1.3zM474.4 152.6h1.3v1.3h-1.3zM475.2 132.7h1.3v1.3h-1.3zM494.5 141.5h1.3v1.3h-1.3zM488.0 151.8h1.3v1.3h-1.3zM486.1 150.2h1.3v1.3h-1.3zM482.1 153.7h1.3v1.3h-1.3zM483.0 135.4h1.3v1.3h-1.3zM455.2 149.0h1.3v1.3h-1.3zM474.1 134.9h1.3v1.3h-1.3zM482.0 136.9h1.3v1.3h-1.3zM462.2 137.1h1.3v1.3h-1.3zM494.7 137.1h1.3v1.3h-1.3zM482.1 132.5h1.3v1.3h-1.3zM484.2 144.0h1.3v1.3h-1.3zM473.0 133.0h1.3v1.3h-1.3zM490.2 137.9h1.3v1.3h-1.3zM488.3 123.3h1.3v1.3h-1.3zM466.3 157.1h1.3v1.3h-1.3zM491.2 142.7h1.3v1.3h-1.3zM484.6 147.4h1.3v1.3h-1.3zM466.7 131.9h1.3v1.3h-1.3zM477.6 132.8h1.3v1.3h-1.3zM474.1 151.0h1.3v1.3h-1.3zM487.7 133.0h1.3v1.3h-1.3zM467.1 150.3h1.3v1.3h-1.3zM468.1 150.7h1.3v1.3h-1.3zM465.6 136.9h1.3v1.3h-1.3zM474.1 151.9h1.3v1.3h-1.3zM470.9 151.7h1.3v1.3h-1.3zM485.3 149.6h1.3v1.3h-1.3zM495.1 142.5h1.3v1.3h-1.3zM479.0 152.3h1.3v1.3h-1.3zM479.7 150.5h1.3v1.3h-1.3zM475.2 153.9h1.3v1.3h-1.3zM479.2 127.3h1.3v1.3h-1.3zM485.3 141.1h1.3v1.3h-1.3zM468.9 140.2h1.3v1.3h-1.3zM474.0 151.8h1.3v1.3h-1.3zM474.4 133.3h1.3v1.3h-1.3zM473.0 150.6h1.3v1.3h-1.3zM466.4 149.6h1.3v1.3h-1.3zM495.0 146.7h1.3v1.3h-1.3zM466.2 146.8h1.3v1.3h-1.3zM462.5 142.0h1.3v1.3h-1.3zM479.6 129.9h1.3v1.3h-1.3zM468.0 147.7h1.3v1.3h-1.3zM490.0 145.9h1.3v1.3h-1.3zM484.9 148.7h1.3v1.3h-1.3zM487.3 139.2h1.3v1.3h-1.3zM475.1 131.6h1.3v1.3h-1.3zM460.8 136.1h1.3v1.3h-1.3zM483.8 145.5h1.3v1.3h-1.3zM478.5 153.1h1.3v1.3h-1.3zM461.6 153.6h1.3v1.3h-1.3zM487.8 136.2h1.3v1.3h-1.3zM469.1 145.8h1.3v1.3h-1.3zM490.5 134.3h1.3v1.3h-1.3zM489.5 134.9h1.3v1.3h-1.3zM472.4 156.4h1.3v1.3h-1.3zM473.0 134.8h1.3v1.3h-1.3zM486.5 154.7h1.3v1.3h-1.3zM465.0 147.9h1.3v1.3h-1.3zM456.2 139.3h1.3v1.3h-1.3zM452.4 145.0h1.3v1.3h-1.3zM449.9 142.5h1.3v1.3h-1.3zM484.1 140.9h1.3v1.3h-1.3zM486.5 135.2h1.3v1.3h-1.3zM492.2 150.2h1.3v1.3h-1.3zM488.3 155.2h1.3v1.3h-1.3zM466.3 141.7h1.3v1.3h-1.3zM480.2 150.9h1.3v1.3h-1.3zM476.9 132.3h1.3v1.3h-1.3zM486.5 141.3h1.3v1.3h-1.3zM475.4 131.7h1.3v1.3h-1.3zM481.9 137.6h1.3v1.3h-1.3zM461.5 145.9h1.3v1.3h-1.3zM476.0 150.2h1.3v1.3h-1.3zM483.1 133.0h1.3v1.3h-1.3zM477.0 134.2h1.3v1.3h-1.3zM476.9 150.4h1.3v1.3h-1.3zM486.6 154.2h1.3v1.3h-1.3zM482.6 122.6h1.3v1.3h-1.3zM452.1 154.8h1.3v1.3h-1.3zM483.9 142.5h1.3v1.3h-1.3zM474.5 153.5h1.3v1.3h-1.3zM491.5 149.1h1.3v1.3h-1.3zM484.4 148.3h1.3v1.3h-1.3zM470.6 150.2h1.3v1.3h-1.3zM482.4 147.2h1.3v1.3h-1.3zM460.4 142.4h1.3v1.3h-1.3zM469.4 129.6h1.3v1.3h-1.3zM465.9 145.8h1.3v1.3h-1.3zM468.6 155.3h1.3v1.3h-1.3zM464.2 143.6h1.3v1.3h-1.3zM484.8 145.4h1.3v1.3h-1.3zM485.3 137.3h1.3v1.3h-1.3zM466.0 133.2h1.3v1.3h-1.3zM463.2 127.6h1.3v1.3h-1.3zM489.3 138.8h1.3v1.3h-1.3zM475.1 155.1h1.3v1.3h-1.3zM461.8 134.8h1.3v1.3h-1.3zM482.1 152.8h1.3v1.3h-1.3zM483.7 148.5h1.3v1.3h-1.3zM474.9 150.5h1.3v1.3h-1.3zM469.6 133.2h1.3v1.3h-1.3zM486.5 134.8h1.3v1.3h-1.3zM485.8 136.4h1.3v1.3h-1.3zM465.8 129.2h1.3v1.3h-1.3zM476.0 131.2h1.3v1.3h-1.3zM473.0 127.3h1.3v1.3h-1.3zM461.4 148.0h1.3v1.3h-1.3zM482.8 137.2h1.3v1.3h-1.3zM479.3 150.3h1.3v1.3h-1.3zM487.2 155.2h1.3v1.3h-1.3zM484.8 143.7h1.3v1.3h-1.3zM481.8 136.0h1.3v1.3h-1.3zM489.0 130.0h1.3v1.3h-1.3zM484.7 132.5h1.3v1.3h-1.3zM467.2 138.6h1.3v1.3h-1.3zM473.9 131.9h1.3v1.3h-1.3zM487.5 134.5h1.3v1.3h-1.3zM461.2 148.0h1.3v1.3h-1.3zM474.4 150.3h1.3v1.3h-1.3zM456.8 132.7h1.3v1.3h-1.3zM477.1 158.0h1.3v1.3h-1.3zM466.0 127.5h1.3v1.3h-1.3zM472.5 153.7h1.3v1.3h-1.3zM489.5 131.8h1.3v1.3h-1.3zM471.2 128.0h1.3v1.3h-1.3zM469.3 134.9h1.3v1.3h-1.3zM479.9 151.5h1.3v1.3h-1.3zM496.1 139.7h1.3v1.3h-1.3zM477.4 157.8h1.3v1.3h-1.3zM482.2 154.9h1.3v1.3h-1.3zM478.8 149.4h1.3v1.3h-1.3zM487.2 138.3h1.3v1.3h-1.3zM488.1 135.7h1.3v1.3h-1.3zM489.0 147.4h1.3v1.3h-1.3zM485.8 135.0h1.3v1.3h-1.3zM482.8 154.2h1.3v1.3h-1.3zM473.6 156.6h1.3v1.3h-1.3zM475.3 131.1h1.3v1.3h-1.3zM485.2 126.6h1.3v1.3h-1.3zM474.4 152.1h1.3v1.3h-1.3zM490.6 145.5h1.3v1.3h-1.3zM493.8 145.7h1.3v1.3h-1.3zM481.5 129.8h1.3v1.3h-1.3zM489.1 141.1h1.3v1.3h-1.3zM483.3 157.9h1.3v1.3h-1.3zM466.6 136.0h1.3v1.3h-1.3zM478.3 133.9h1.3v1.3h-1.3zM480.0 125.2h1.3v1.3h-1.3zM466.6 153.2h1.3v1.3h-1.3zM466.6 158.9h1.3v1.3h-1.3zM470.3 152.1h1.3v1.3h-1.3zM475.8 155.3h1.3v1.3h-1.3zM474.5 150.7h1.3v1.3h-1.3zM473.7 127.7h1.3v1.3h-1.3zM479.6 155.8h1.3v1.3h-1.3zM470.2 131.2h1.3v1.3h-1.3zM469.6 151.2h1.3v1.3h-1.3zM475.3 156.7h1.3v1.3h-1.3zM478.4 150.9h1.3v1.3h-1.3zM472.0 135.6h1.3v1.3h-1.3zM467.4 130.3h1.3v1.3h-1.3zM469.2 128.1h1.3v1.3h-1.3zM469.0 130.5h1.3v1.3h-1.3zM482.2 133.3h1.3v1.3h-1.3zM482.6 147.6h1.3v1.3h-1.3zM473.5 152.4h1.3v1.3h-1.3zM488.7 133.2h1.3v1.3h-1.3zM480.2 152.5h1.3v1.3h-1.3zM482.1 127.5h1.3v1.3h-1.3zM492.5 144.8h1.3v1.3h-1.3zM470.9 147.7h1.3v1.3h-1.3zM473.2 133.1h1.3v1.3h-1.3zM486.1 150.8h1.3v1.3h-1.3zM478.0 152.1h1.3v1.3h-1.3zM475.3 151.7h1.3v1.3h-1.3zM482.7 148.1h1.3v1.3h-1.3zM461.6 139.1h1.3v1.3h-1.3zM469.4 139.3h1.3v1.3h-1.3zM489.3 136.4h1.3v1.3h-1.3zM467.3 143.4h1.3v1.3h-1.3zM482.5 133.1h1.3v1.3h-1.3zM466.8 139.5h1.3v1.3h-1.3zM482.3 137.8h1.3v1.3h-1.3zM486.8 141.0h1.3v1.3h-1.3zM479.0 134.1h1.3v1.3h-1.3zM483.0 137.2h1.3v1.3h-1.3zM465.0 149.8h1.3v1.3h-1.3zM495.8 122.1h1.3v1.3h-1.3zM467.6 143.5h1.3v1.3h-1.3zM480.3 135.0h1.3v1.3h-1.3zM479.1 151.2h1.3v1.3h-1.3zM477.4 135.2h1.3v1.3h-1.3zM487.2 151.7h1.3v1.3h-1.3zM478.3 130.2h1.3v1.3h-1.3zM460.6 142.4h1.3v1.3h-1.3zM478.7 132.1h1.3v1.3h-1.3zM491.4 147.8h1.3v1.3h-1.3zM465.9 149.8h1.3v1.3h-1.3zM470.8 127.3h1.3v1.3h-1.3zM486.8 140.0h1.3v1.3h-1.3zM464.5 137.0h1.3v1.3h-1.3zM468.0 141.7h1.3v1.3h-1.3zM468.8 145.0h1.3v1.3h-1.3zM474.6 131.3h1.3v1.3h-1.3zM471.8 131.9h1.3v1.3h-1.3zM485.1 137.4h1.3v1.3h-1.3zM459.6 158.2h1.3v1.3h-1.3zM463.8 150.5h1.3v1.3h-1.3zM484.3 150.1h1.3v1.3h-1.3zM473.5 150.1h1.3v1.3h-1.3zM471.0 136.1h1.3v1.3h-1.3zM481.8 135.7h1.3v1.3h-1.3zM478.5 134.8h1.3v1.3h-1.3zM475.5 159.4h1.3v1.3h-1.3zM467.6 132.8h1.3v1.3h-1.3zM463.4 140.7h1.3v1.3h-1.3zM489.4 139.0h1.3v1.3h-1.3zM483.9 141.1h1.3v1.3h-1.3zM471.2 158.3h1.3v1.3h-1.3zM485.0 128.0h1.3v1.3h-1.3zM468.4 145.8h1.3v1.3h-1.3zM473.5 150.4h1.3v1.3h-1.3zM469.5 148.5h1.3v1.3h-1.3zM483.7 144.1h1.3v1.3h-1.3zM458.4 144.5h1.3v1.3h-1.3zM464.8 126.6h1.3v1.3h-1.3zM482.5 135.3h1.3v1.3h-1.3zM462.1 135.4h1.3v1.3h-1.3zM476.9 132.6h1.3v1.3h-1.3zM466.1 139.0h1.3v1.3h-1.3zM471.9 125.8h1.3v1.3h-1.3zM490.2 149.4h1.3v1.3h-1.3zM472.6 150.0h1.3v1.3h-1.3zM467.9 154.6h1.3v1.3h-1.3zM469.7 148.5h1.3v1.3h-1.3zM484.8 136.7h1.3v1.3h-1.3zM486.6 141.3h1.3v1.3h-1.3zM488.5 139.0h1.3v1.3h-1.3zM485.1 153.9h1.3v1.3h-1.3zM482.4 152.3h1.3v1.3h-1.3zM486.6 142.3h1.3v1.3h-1.3zM471.8 124.7h1.3v1.3h-1.3zM477.6 150.7h1.3v1.3h-1.3zM477.2 154.3h1.3v1.3h-1.3zM488.7 142.9h1.3v1.3h-1.3zM485.3 145.3h1.3v1.3h-1.3zM485.1 135.4h1.3v1.3h-1.3zM473.4 150.1h1.3v1.3h-1.3zM463.6 141.7h1.3v1.3h-1.3zM462.7 142.7h1.3v1.3h-1.3zM478.0 133.9h1.3v1.3h-1.3zM473.5 135.3h1.3v1.3h-1.3zM483.7 157.8h1.3v1.3h-1.3zM460.5 145.2h1.3v1.3h-1.3zM478.9 159.0h1.3v1.3h-1.3zM477.2 153.3h1.3v1.3h-1.3zM484.9 139.0h1.3v1.3h-1.3zM457.7 151.7h1.3v1.3h-1.3zM488.7 128.6h1.3v1.3h-1.3zM485.5 137.9h1.3v1.3h-1.3zM491.8 129.0h1.3v1.3h-1.3zM483.5 139.7h1.3v1.3h-1.3zM460.9 144.2h1.3v1.3h-1.3zM482.2 126.4h1.3v1.3h-1.3zM457.0 141.0h1.3v1.3h-1.3zM463.5 131.9h1.3v1.3h-1.3zM479.6 151.5h1.3v1.3h-1.3zM485.7 137.3h1.3v1.3h-1.3zM480.4 128.5h1.3v1.3h-1.3zM464.4 146.8h1.3v1.3h-1.3zM473.1 134.5h1.3v1.3h-1.3zM461.3 140.7h1.3v1.3h-1.3zM494.3 126.6h1.3v1.3h-1.3zM467.9 151.4h1.3v1.3h-1.3zM460.9 137.6h1.3v1.3h-1.3zM476.9 151.5h1.3v1.3h-1.3zM475.7 156.9h1.3v1.3h-1.3zM464.3 135.0h1.3v1.3h-1.3zM466.5 136.8h1.3v1.3h-1.3zM479.4 135.3h1.3v1.3h-1.3zM473.9 132.7h1.3v1.3h-1.3zM468.4 128.5h1.3v1.3h-1.3zM479.4 149.8h1.3v1.3h-1.3zM472.6 125.0h1.3v1.3h-1.3zM474.3 152.8h1.3v1.3h-1.3zM473.4 159.3h1.3v1.3h-1.3zM468.6 134.6h1.3v1.3h-1.3zM464.5 126.0h1.3v1.3h-1.3zM490.5 145.5h1.3v1.3h-1.3zM479.7 150.2h1.3v1.3h-1.3zM469.1 132.7h1.3v1.3h-1.3zM473.3 154.3h1.3v1.3h-1.3zM484.3 137.9h1.3v1.3h-1.3zM466.3 149.9h1.3v1.3h-1.3zM485.1 133.8h1.3v1.3h-1.3zM489.3 136.3h1.3v1.3h-1.3zM481.9 147.4h1.3v1.3h-1.3zM469.4 159.6h1.3v1.3h-1.3zM490.2 141.0h1.3v1.3h-1.3zM467.0 154.4h1.3v1.3h-1.3zM483.2 145.3h1.3v1.3h-1.3zM477.2 158.3h1.3v1.3h-1.3zM461.0 147.6h1.3v1.3h-1.3zM468.3 143.1h1.3v1.3h-1.3zM456.7 148.0h1.3v1.3h-1.3zM495.2 139.2h1.3v1.3h-1.3zM483.6 147.5h1.3v1.3h-1.3zM488.1 149.1h1.3v1.3h-1.3zM470.5 119.3h1.3v1.3h-1.3zM488.6 146.4h1.3v1.3h-1.3zM496.7 153.2h1.3v1.3h-1.3zM481.0 153.3h1.3v1.3h-1.3zM480.5 150.0h1.3v1.3h-1.3zM466.0 143.5h1.3v1.3h-1.3zM469.0 132.9h1.3v1.3h-1.3zM467.5 123.0h1.3v1.3h-1.3zM489.7 150.6h1.3v1.3h-1.3zM467.2 129.6h1.3v1.3h-1.3zM451.1 141.5h1.3v1.3h-1.3zM485.0 143.9h1.3v1.3h-1.3zM459.2 132.2h1.3v1.3h-1.3zM465.9 144.4h1.3v1.3h-1.3zM471.2 127.5h1.3v1.3h-1.3zM483.6 141.0h1.3v1.3h-1.3zM484.5 158.5h1.3v1.3h-1.3zM462.7 132.3h1.3v1.3h-1.3zM485.2 153.7h1.3v1.3h-1.3zM482.0 147.7h1.3v1.3h-1.3zM465.8 148.4h1.3v1.3h-1.3zM484.4 139.3h1.3v1.3h-1.3zM468.8 138.6h1.3v1.3h-1.3zM473.8 128.4h1.3v1.3h-1.3zM472.8 134.6h1.3v1.3h-1.3zM469.1 138.2h1.3v1.3h-1.3zM466.9 140.5h1.3v1.3h-1.3zM473.9 150.5h1.3v1.3h-1.3zM460.2 149.8h1.3v1.3h-1.3zM467.4 144.7h1.3v1.3h-1.3zM466.9 142.5h1.3v1.3h-1.3zM472.9 149.1h1.3v1.3h-1.3zM485.2 149.1h1.3v1.3h-1.3zM478.2 152.2h1.3v1.3h-1.3zM464.5 142.7h1.3v1.3h-1.3zM486.3 134.9h1.3v1.3h-1.3zM482.7 132.5h1.3v1.3h-1.3zM478.7 157.0h1.3v1.3h-1.3zM476.7 133.3h1.3v1.3h-1.3zM482.8 138.4h1.3v1.3h-1.3zM462.0 138.7h1.3v1.3h-1.3zM481.1 150.6h1.3v1.3h-1.3zM485.3 138.6h1.3v1.3h-1.3zM465.3 135.8h1.3v1.3h-1.3zM466.5 137.8h1.3v1.3h-1.3zM465.2 123.8h1.3v1.3h-1.3zM484.9 139.4h1.3v1.3h-1.3zM465.5 137.5h1.3v1.3h-1.3zM463.7 131.4h1.3v1.3h-1.3zM488.6 142.1h1.3v1.3h-1.3zM460.2 155.8h1.3v1.3h-1.3zM486.6 151.3h1.3v1.3h-1.3zM469.5 135.0h1.3v1.3h-1.3zM490.0 155.7h1.3v1.3h-1.3zM466.0 137.5h1.3v1.3h-1.3zM479.2 151.4h1.3v1.3h-1.3zM465.5 151.1h1.3v1.3h-1.3zM463.8 140.7h1.3v1.3h-1.3zM481.9 147.9h1.3v1.3h-1.3zM465.5 152.3h1.3v1.3h-1.3zM476.8 149.8h1.3v1.3h-1.3zM497.9 147.6h1.3v1.3h-1.3zM474.4 151.2h1.3v1.3h-1.3zM479.9 156.1h1.3v1.3h-1.3zM486.1 134.2h1.3v1.3h-1.3zM463.5 151.5h1.3v1.3h-1.3zM491.0 141.3h1.3v1.3h-1.3zM464.8 149.6h1.3v1.3h-1.3zM460.6 146.7h1.3v1.3h-1.3zM478.8 152.4h1.3v1.3h-1.3zM458.4 141.5h1.3v1.3h-1.3zM480.7 150.4h1.3v1.3h-1.3zM468.7 145.0h1.3v1.3h-1.3zM479.5 149.7h1.3v1.3h-1.3zM471.9 151.3h1.3v1.3h-1.3zM485.2 139.1h1.3v1.3h-1.3zM468.7 141.7h1.3v1.3h-1.3zM483.3 148.5h1.3v1.3h-1.3zM470.5 137.5h1.3v1.3h-1.3zM475.2 131.2h1.3v1.3h-1.3zM465.1 140.8h1.3v1.3h-1.3zM468.9 153.1h1.3v1.3h-1.3zM468.2 148.4h1.3v1.3h-1.3zM477.9 153.7h1.3v1.3h-1.3zM476.7 128.1h1.3v1.3h-1.3zM496.1 140.9h1.3v1.3h-1.3zM473.5 133.9h1.3v1.3h-1.3zM475.0 154.9h1.3v1.3h-1.3zM484.7 149.8h1.3v1.3h-1.3zM472.8 129.2h1.3v1.3h-1.3zM490.7 130.5h1.3v1.3h-1.3zM463.2 137.3h1.3v1.3h-1.3zM469.5 152.1h1.3v1.3h-1.3zM461.7 132.1h1.3v1.3h-1.3zM478.3 130.8h1.3v1.3h-1.3zM459.6 137.8h1.3v1.3h-1.3zM466.2 135.1h1.3v1.3h-1.3zM482.2 138.1h1.3v1.3h-1.3zM480.2 152.3h1.3v1.3h-1.3zM466.1 142.9h1.3v1.3h-1.3zM471.3 153.4h1.3v1.3h-1.3zM461.8 147.5h1.3v1.3h-1.3zM486.1 139.5h1.3v1.3h-1.3zM490.0 122.1h1.3v1.3h-1.3zM491.3 151.8h1.3v1.3h-1.3zM489.1 144.1h1.3v1.3h-1.3zM478.5 134.9h1.3v1.3h-1.3zM487.2 133.8h1.3v1.3h-1.3zM466.5 140.0h1.3v1.3h-1.3zM480.2 151.6h1.3v1.3h-1.3zM493.2 135.0h1.3v1.3h-1.3zM488.8 140.4h1.3v1.3h-1.3zM482.3 147.1h1.3v1.3h-1.3zM489.8 137.1h1.3v1.3h-1.3zM469.3 155.4h1.3v1.3h-1.3zM486.7 143.2h1.3v1.3h-1.3zM486.9 136.8h1.3v1.3h-1.3zM488.2 142.2h1.3v1.3h-1.3zM458.8 145.0h1.3v1.3h-1.3zM465.3 138.4h1.3v1.3h-1.3zM468.7 144.4h1.3v1.3h-1.3zM489.4 147.0h1.3v1.3h-1.3zM489.1 142.1h1.3v1.3h-1.3zM481.1 136.2h1.3v1.3h-1.3zM473.2 151.8h1.3v1.3h-1.3zM474.2 128.5h1.3v1.3h-1.3zM488.3 141.3h1.3v1.3h-1.3zM470.8 149.8h1.3v1.3h-1.3zM466.8 137.0h1.3v1.3h-1.3zM485.6 137.4h1.3v1.3h-1.3zM485.5 140.3h1.3v1.3h-1.3zM472.0 150.7h1.3v1.3h-1.3zM485.2 143.1h1.3v1.3h-1.3zM490.1 130.7h1.3v1.3h-1.3zM484.6 149.5h1.3v1.3h-1.3zM473.3 152.0h1.3v1.3h-1.3zM466.7 147.2h1.3v1.3h-1.3zM486.8 146.9h1.3v1.3h-1.3zM458.6 134.9h1.3v1.3h-1.3zM485.2 135.5h1.3v1.3h-1.3zM462.6 140.8h1.3v1.3h-1.3zM463.8 146.1h1.3v1.3h-1.3zM468.9 149.8h1.3v1.3h-1.3zM475.2 131.9h1.3v1.3h-1.3zM469.8 137.8h1.3v1.3h-1.3zM469.2 151.9h1.3v1.3h-1.3zM467.9 145.4h1.3v1.3h-1.3zM464.3 130.8h1.3v1.3h-1.3zM480.4 153.4h1.3v1.3h-1.3zM464.7 140.3h1.3v1.3h-1.3zM472.0 135.6h1.3v1.3h-1.3zM484.2 143.0h1.3v1.3h-1.3zM464.7 141.0h1.3v1.3h-1.3zM487.2 137.3h1.3v1.3h-1.3zM471.9 136.4h1.3v1.3h-1.3zM483.5 136.4h1.3v1.3h-1.3zM464.1 146.0h1.3v1.3h-1.3zM449.9 135.5h1.3v1.3h-1.3zM489.7 140.6h1.3v1.3h-1.3zM493.5 139.9h1.3v1.3h-1.3zM490.1 151.6h1.3v1.3h-1.3zM453.5 135.1h1.3v1.3h-1.3zM468.0 145.6h1.3v1.3h-1.3zM487.2 143.1h1.3v1.3h-1.3zM477.5 159.0h1.3v1.3h-1.3zM479.1 158.8h1.3v1.3h-1.3zM468.8 155.0h1.3v1.3h-1.3zM472.0 124.4h1.3v1.3h-1.3zM469.3 139.1h1.3v1.3h-1.3zM470.0 156.1h1.3v1.3h-1.3zM486.1 142.9h1.3v1.3h-1.3zM470.4 148.2h1.3v1.3h-1.3zM490.6 151.0h1.3v1.3h-1.3zM481.8 154.6h1.3v1.3h-1.3zM484.6 141.4h1.3v1.3h-1.3zM474.1 133.9h1.3v1.3h-1.3zM466.1 151.0h1.3v1.3h-1.3zM497.2 146.8h1.3v1.3h-1.3zM467.2 134.8h1.3v1.3h-1.3zM488.8 124.4h1.3v1.3h-1.3zM491.5 143.9h1.3v1.3h-1.3zM484.9 129.5h1.3v1.3h-1.3zM462.5 141.4h1.3v1.3h-1.3zM488.9 145.4h1.3v1.3h-1.3zM482.1 148.0h1.3v1.3h-1.3zM491.5 133.3h1.3v1.3h-1.3zM474.8 133.0h1.3v1.3h-1.3zM466.0 144.5h1.3v1.3h-1.3zM468.4 146.6h1.3v1.3h-1.3zM491.2 123.2h1.3v1.3h-1.3zM474.8 126.7h1.3v1.3h-1.3zM478.0 151.8h1.3v1.3h-1.3zM477.5 129.5h1.3v1.3h-1.3zM488.7 135.4h1.3v1.3h-1.3zM488.6 129.8h1.3v1.3h-1.3zM462.4 139.2h1.3v1.3h-1.3zM474.8 132.9h1.3v1.3h-1.3zM457.1 149.6h1.3v1.3h-1.3zM479.5 132.5h1.3v1.3h-1.3zM477.6 132.5h1.3v1.3h-1.3zM461.7 134.6h1.3v1.3h-1.3zM484.3 157.8h1.3v1.3h-1.3zM467.3 139.5h1.3v1.3h-1.3zM487.2 125.9h1.3v1.3h-1.3zM466.5 142.6h1.3v1.3h-1.3zM484.4 145.7h1.3v1.3h-1.3zM453.4 130.1h1.3v1.3h-1.3zM487.5 147.1h1.3v1.3h-1.3zM497.5 148.7h1.3v1.3h-1.3zM480.1 154.3h1.3v1.3h-1.3zM467.8 144.5h1.3v1.3h-1.3zM479.9 149.7h1.3v1.3h-1.3zM488.3 147.4h1.3v1.3h-1.3zM486.5 140.7h1.3v1.3h-1.3zM468.2 148.2h1.3v1.3h-1.3zM484.7 152.8h1.3v1.3h-1.3zM463.4 140.2h1.3v1.3h-1.3zM492.0 136.4h1.3v1.3h-1.3zM483.9 152.9h1.3v1.3h-1.3zM457.3 147.0h1.3v1.3h-1.3zM489.1 144.0h1.3v1.3h-1.3zM459.7 138.1h1.3v1.3h-1.3zM470.8 134.2h1.3v1.3h-1.3zM460.8 132.1h1.3v1.3h-1.3zM462.6 136.3h1.3v1.3h-1.3zM474.6 133.6h1.3v1.3h-1.3zM479.8 158.6h1.3v1.3h-1.3zM453.0 133.6h1.3v1.3h-1.3zM486.6 133.6h1.3v1.3h-1.3zM482.6 131.4h1.3v1.3h-1.3zM477.6 128.9h1.3v1.3h-1.3zM473.6 135.3h1.3v1.3h-1.3zM477.6 151.0h1.3v1.3h-1.3zM475.4 155.5h1.3v1.3h-1.3zM483.2 131.1h1.3v1.3h-1.3zM471.4 151.9h1.3v1.3h-1.3zM472.1 151.8h1.3v1.3h-1.3zM484.8 130.4h1.3v1.3h-1.3zM477.7 155.7h1.3v1.3h-1.3zM480.4 132.1h1.3v1.3h-1.3zM484.3 139.1h1.3v1.3h-1.3zM477.7 151.5h1.3v1.3h-1.3zM473.7 149.9h1.3v1.3h-1.3zM473.7 132.1h1.3v1.3h-1.3zM486.1 143.8h1.3v1.3h-1.3zM484.3 133.9h1.3v1.3h-1.3zM483.3 133.3h1.3v1.3h-1.3zM470.1 132.5h1.3v1.3h-1.3zM487.7 143.7h1.3v1.3h-1.3zM469.1 133.5h1.3v1.3h-1.3zM479.3 154.8h1.3v1.3h-1.3zM490.8 130.6h1.3v1.3h-1.3zM501.7 134.0h1.3v1.3h-1.3zM475.7 132.1h1.3v1.3h-1.3zM466.2 140.7h1.3v1.3h-1.3zM496.6 135.2h1.3v1.3h-1.3zM467.8 140.5h1.3v1.3h-1.3zM483.1 125.7h1.3v1.3h-1.3zM461.4 139.1h1.3v1.3h-1.3zM472.0 134.5h1.3v1.3h-1.3zM486.8 158.0h1.3v1.3h-1.3zM482.9 135.8h1.3v1.3h-1.3zM488.1 146.4h1.3v1.3h-1.3zM469.5 147.2h1.3v1.3h-1.3zM483.9 151.5h1.3v1.3h-1.3zM467.5 141.5h1.3v1.3h-1.3zM476.3 133.0h1.3v1.3h-1.3zM464.8 138.2h1.3v1.3h-1.3zM467.1 132.6h1.3v1.3h-1.3zM467.4 153.2h1.3v1.3h-1.3zM484.5 150.4h1.3v1.3h-1.3zM488.0 126.4h1.3v1.3h-1.3zM482.6 128.9h1.3v1.3h-1.3zM471.6 157.7h1.3v1.3h-1.3zM474.9 151.6h1.3v1.3h-1.3zM480.5 129.1h1.3v1.3h-1.3zM479.7 132.4h1.3v1.3h-1.3zM485.7 133.1h1.3v1.3h-1.3zM487.9 150.4h1.3v1.3h-1.3zM466.4 144.7h1.3v1.3h-1.3zM466.2 139.0h1.3v1.3h-1.3zM491.2 148.8h1.3v1.3h-1.3zM464.3 147.8h1.3v1.3h-1.3zM487.2 147.8h1.3v1.3h-1.3zM466.9 123.7h1.3v1.3h-1.3zM488.8 148.1h1.3v1.3h-1.3zM474.1 125.2h1.3v1.3h-1.3zM484.4 144.9h1.3v1.3h-1.3zM475.4 151.2h1.3v1.3h-1.3zM459.9 117.4h1.3v1.3h-1.3zM470.1 131.9h1.3v1.3h-1.3zM469.2 138.5h1.3v1.3h-1.3zM466.3 139.6h1.3v1.3h-1.3zM488.9 135.6h1.3v1.3h-1.3zM476.8 150.3h1.3v1.3h-1.3zM469.6 138.1h1.3v1.3h-1.3zM500.3 152.1h1.3v1.3h-1.3zM457.9 135.0h1.3v1.3h-1.3zM477.6 131.9h1.3v1.3h-1.3zM473.6 154.2h1.3v1.3h-1.3zM477.4 150.7h1.3v1.3h-1.3zM462.1 132.8h1.3v1.3h-1.3zM466.6 137.6h1.3v1.3h-1.3zM466.0 144.7h1.3v1.3h-1.3zM469.0 138.4h1.3v1.3h-1.3zM457.9 142.6h1.3v1.3h-1.3zM462.9 145.2h1.3v1.3h-1.3zM485.2 146.0h1.3v1.3h-1.3zM479.4 149.8h1.3v1.3h-1.3zM486.8 158.2h1.3v1.3h-1.3zM483.5 145.8h1.3v1.3h-1.3zM478.5 132.7h1.3v1.3h-1.3zM485.3 135.6h1.3v1.3h-1.3zM470.9 135.9h1.3v1.3h-1.3zM480.9 135.0h1.3v1.3h-1.3zM481.2 152.7h1.3v1.3h-1.3zM472.5 134.3h1.3v1.3h-1.3zM471.3 135.7h1.3v1.3h-1.3zM457.2 153.8h1.3v1.3h-1.3zM469.6 139.2h1.3v1.3h-1.3zM460.1 127.2h1.3v1.3h-1.3zM467.9 144.3h1.3v1.3h-1.3zM483.3 128.4h1.3v1.3h-1.3zM478.1 154.3h1.3v1.3h-1.3zM474.0 149.6h1.3v1.3h-1.3zM478.9 135.3h1.3v1.3h-1.3zM484.5 137.8h1.3v1.3h-1.3zM487.2 129.4h1.3v1.3h-1.3zM467.1 143.3h1.3v1.3h-1.3zM484.4 141.0h1.3v1.3h-1.3zM489.3 135.5h1.3v1.3h-1.3zM463.1 140.3h1.3v1.3h-1.3zM482.6 132.3h1.3v1.3h-1.3zM485.6 149.8h1.3v1.3h-1.3zM482.8 135.9h1.3v1.3h-1.3zM465.6 147.6h1.3v1.3h-1.3zM465.1 119.6h1.3v1.3h-1.3zM485.6 150.3h1.3v1.3h-1.3zM468.2 150.5h1.3v1.3h-1.3zM477.1 116.1h1.3v1.3h-1.3zM465.7 138.5h1.3v1.3h-1.3zM465.7 139.0h1.3v1.3h-1.3zM467.9 128.4h1.3v1.3h-1.3zM471.3 131.8h1.3v1.3h-1.3zM462.4 135.7h1.3v1.3h-1.3zM461.0 141.5h1.3v1.3h-1.3zM478.7 150.2h1.3v1.3h-1.3zM485.4 141.5h1.3v1.3h-1.3zM465.5 139.6h1.3v1.3h-1.3zM481.7 135.4h1.3v1.3h-1.3zM486.7 135.1h1.3v1.3h-1.3zM467.0 148.9h1.3v1.3h-1.3zM471.5 157.2h1.3v1.3h-1.3zM480.2 149.0h1.3v1.3h-1.3zM460.2 143.1h1.3v1.3h-1.3zM490.5 149.2h1.3v1.3h-1.3zM462.9 143.4h1.3v1.3h-1.3zM493.0 136.8h1.3v1.3h-1.3zM490.8 131.3h1.3v1.3h-1.3zM479.2 128.9h1.3v1.3h-1.3zM479.1 127.6h1.3v1.3h-1.3zM466.6 151.3h1.3v1.3h-1.3zM489.0 143.5h1.3v1.3h-1.3zM453.8 150.3h1.3v1.3h-1.3zM478.3 133.9h1.3v1.3h-1.3zM473.4 132.3h1.3v1.3h-1.3zM471.0 125.4h1.3v1.3h-1.3zM466.6 132.8h1.3v1.3h-1.3zM475.9 153.1h1.3v1.3h-1.3zM476.5 134.2h1.3v1.3h-1.3zM473.8 135.7h1.3v1.3h-1.3zM466.9 147.9h1.3v1.3h-1.3zM491.1 154.2h1.3v1.3h-1.3zM489.7 143.2h1.3v1.3h-1.3zM465.1 158.0h1.3v1.3h-1.3zM473.3 135.2h1.3v1.3h-1.3zM481.4 131.7h1.3v1.3h-1.3zM464.9 146.8h1.3v1.3h-1.3zM480.4 153.5h1.3v1.3h-1.3zM480.9 149.7h1.3v1.3h-1.3zM484.8 147.7h1.3v1.3h-1.3zM476.4 129.4h1.3v1.3h-1.3zM486.5 146.9h1.3v1.3h-1.3zM487.6 142.0h1.3v1.3h-1.3zM476.0 151.9h1.3v1.3h-1.3zM481.7 129.8h1.3v1.3h-1.3zM490.0 145.9h1.3v1.3h-1.3zM492.7 143.2h1.3v1.3h-1.3zM471.4 156.0h1.3v1.3h-1.3zM493.7 136.5h1.3v1.3h-1.3zM485.7 130.0h1.3v1.3h-1.3zM471.7 157.6h1.3v1.3h-1.3zM476.8 152.0h1.3v1.3h-1.3zM474.8 132.6h1.3v1.3h-1.3zM493.4 145.7h1.3v1.3h-1.3zM486.9 140.0h1.3v1.3h-1.3zM489.0 144.9h1.3v1.3h-1.3zM486.9 144.7h1.3v1.3h-1.3zM473.6 149.4h1.3v1.3h-1.3zM483.5 134.9h1.3v1.3h-1.3zM485.8 150.9h1.3v1.3h-1.3zM474.3 132.3h1.3v1.3h-1.3zM485.3 139.9h1.3v1.3h-1.3zM467.3 146.6h1.3v1.3h-1.3zM485.9 150.6h1.3v1.3h-1.3zM469.1 155.3h1.3v1.3h-1.3zM475.4 134.8h1.3v1.3h-1.3zM483.2 154.1h1.3v1.3h-1.3zM467.2 147.4h1.3v1.3h-1.3zM481.3 132.6h1.3v1.3h-1.3zM482.4 123.9h1.3v1.3h-1.3zM471.3 131.6h1.3v1.3h-1.3zM465.7 152.9h1.3v1.3h-1.3zM484.5 137.0h1.3v1.3h-1.3zM488.3 141.0h1.3v1.3h-1.3zM475.6 135.2h1.3v1.3h-1.3zM485.8 142.0h1.3v1.3h-1.3zM472.4 135.3h1.3v1.3h-1.3zM470.5 148.6h1.3v1.3h-1.3zM480.1 153.4h1.3v1.3h-1.3zM459.4 145.2h1.3v1.3h-1.3zM485.2 143.6h1.3v1.3h-1.3zM483.1 130.8h1.3v1.3h-1.3zM470.3 150.2h1.3v1.3h-1.3zM474.0 152.5h1.3v1.3h-1.3zM472.4 131.6h1.3v1.3h-1.3zM473.5 149.3h1.3v1.3h-1.3zM491.0 143.7h1.3v1.3h-1.3zM478.9 151.5h1.3v1.3h-1.3zM489.4 152.6h1.3v1.3h-1.3zM484.3 145.5h1.3v1.3h-1.3zM473.8 150.8h1.3v1.3h-1.3zM463.3 154.3h1.3v1.3h-1.3zM470.3 136.0h1.3v1.3h-1.3zM479.7 156.1h1.3v1.3h-1.3zM481.1 136.3h1.3v1.3h-1.3zM480.8 156.8h1.3v1.3h-1.3zM484.7 137.3h1.3v1.3h-1.3zM463.9 134.9h1.3v1.3h-1.3zM466.8 141.1h1.3v1.3h-1.3zM474.1 133.7h1.3v1.3h-1.3zM487.2 140.6h1.3v1.3h-1.3zM467.7 137.7h1.3v1.3h-1.3zM494.2 141.3h1.3v1.3h-1.3zM489.9 148.8h1.3v1.3h-1.3zM490.0 141.1h1.3v1.3h-1.3zM484.1 140.2h1.3v1.3h-1.3zM467.6 133.7h1.3v1.3h-1.3zM480.1 130.3h1.3v1.3h-1.3zM479.5 135.9h1.3v1.3h-1.3zM479.4 132.1h1.3v1.3h-1.3zM464.3 131.6h1.3v1.3h-1.3zM477.1 130.2h1.3v1.3h-1.3zM471.3 153.1h1.3v1.3h-1.3zM488.2 144.9h1.3v1.3h-1.3zM474.5 152.4h1.3v1.3h-1.3zM472.3 123.5h1.3v1.3h-1.3zM483.2 134.2h1.3v1.3h-1.3zM487.8 136.3h1.3v1.3h-1.3zM481.7 148.0h1.3v1.3h-1.3zM478.0 151.1h1.3v1.3h-1.3zM472.6 158.0h1.3v1.3h-1.3zM497.6 142.5h1.3v1.3h-1.3zM463.6 153.2h1.3v1.3h-1.3zM489.0 138.2h1.3v1.3h-1.3zM468.7 151.0h1.3v1.3h-1.3zM477.1 135.3h1.3v1.3h-1.3zM484.5 154.4h1.3v1.3h-1.3zM471.6 154.1h1.3v1.3h-1.3zM464.5 147.9h1.3v1.3h-1.3zM478.9 151.1h1.3v1.3h-1.3zM458.8 142.9h1.3v1.3h-1.3zM473.4 134.4h1.3v1.3h-1.3zM465.8 146.4h1.3v1.3h-1.3zM460.7 131.0h1.3v1.3h-1.3zM490.8 139.6h1.3v1.3h-1.3zM477.7 150.1h1.3v1.3h-1.3zM490.1 145.3h1.3v1.3h-1.3zM479.4 157.2h1.3v1.3h-1.3zM473.4 128.9h1.3v1.3h-1.3zM487.2 144.9h1.3v1.3h-1.3zM486.3 143.3h1.3v1.3h-1.3zM466.7 146.4h1.3v1.3h-1.3zM492.6 135.9h1.3v1.3h-1.3zM484.6 149.2h1.3v1.3h-1.3zM476.2 154.1h1.3v1.3h-1.3zM497.1 145.0h1.3v1.3h-1.3zM474.6 149.7h1.3v1.3h-1.3zM482.7 149.1h1.3v1.3h-1.3zM458.7 132.8h1.3v1.3h-1.3zM465.0 153.7h1.3v1.3h-1.3zM470.0 131.3h1.3v1.3h-1.3zM483.7 127.8h1.3v1.3h-1.3zM484.8 129.5h1.3v1.3h-1.3zM463.2 145.1h1.3v1.3h-1.3zM492.8 136.7h1.3v1.3h-1.3zM469.4 133.7h1.3v1.3h-1.3zM468.5 152.0h1.3v1.3h-1.3zM482.1 149.3h1.3v1.3h-1.3zM472.0 135.2h1.3v1.3h-1.3zM473.7 152.1h1.3v1.3h-1.3zM490.3 142.0h1.3v1.3h-1.3zM491.7 133.2h1.3v1.3h-1.3zM487.2 149.2h1.3v1.3h-1.3zM485.1 145.3h1.3v1.3h-1.3zM468.1 152.7h1.3v1.3h-1.3zM489.0 146.2h1.3v1.3h-1.3zM465.1 150.0h1.3v1.3h-1.3zM470.8 157.1h1.3v1.3h-1.3zM468.5 139.7h1.3v1.3h-1.3zM489.5 140.3h1.3v1.3h-1.3zM491.4 141.8h1.3v1.3h-1.3zM480.0 135.5h1.3v1.3h-1.3zM465.5 157.2h1.3v1.3h-1.3zM467.8 142.8h1.3v1.3h-1.3zM468.2 135.1h1.3v1.3h-1.3zM475.1 158.9h1.3v1.3h-1.3zM462.7 146.8h1.3v1.3h-1.3zM472.2 120.4h1.3v1.3h-1.3zM465.3 141.5h1.3v1.3h-1.3zM490.9 146.6h1.3v1.3h-1.3zM471.6 130.0h1.3v1.3h-1.3zM484.8 134.6h1.3v1.3h-1.3zM486.2 139.0h1.3v1.3h-1.3zM481.6 151.3h1.3v1.3h-1.3zM472.2 135.6h1.3v1.3h-1.3zM491.9 149.8h1.3v1.3h-1.3zM492.0 149.8h1.3v1.3h-1.3zM477.7 154.9h1.3v1.3h-1.3zM485.6 151.0h1.3v1.3h-1.3zM472.7 125.6h1.3v1.3h-1.3zM467.0 152.0h1.3v1.3h-1.3zM486.7 142.7h1.3v1.3h-1.3zM469.0 146.7h1.3v1.3h-1.3zM464.5 139.2h1.3v1.3h-1.3zM493.2 145.3h1.3v1.3h-1.3zM475.7 151.6h1.3v1.3h-1.3zM478.8 154.2h1.3v1.3h-1.3zM467.2 148.4h1.3v1.3h-1.3zM468.0 147.7h1.3v1.3h-1.3zM496.4 154.2h1.3v1.3h-1.3zM478.5 134.4h1.3v1.3h-1.3zM484.4 149.5h1.3v1.3h-1.3zM495.8 141.3h1.3v1.3h-1.3zM461.5 145.1h1.3v1.3h-1.3zM483.8 150.2h1.3v1.3h-1.3zM481.4 155.0h1.3v1.3h-1.3zM479.9 121.8h1.3v1.3h-1.3zM454.5 145.1h1.3v1.3h-1.3zM468.8 144.3h1.3v1.3h-1.3zM485.1 137.7h1.3v1.3h-1.3zM488.7 146.5h1.3v1.3h-1.3zM459.2 149.7h1.3v1.3h-1.3zM472.4 130.7h1.3v1.3h-1.3zM488.6 156.5h1.3v1.3h-1.3zM489.2 128.4h1.3v1.3h-1.3zM481.0 133.5h1.3v1.3h-1.3zM471.5 136.6h1.3v1.3h-1.3zM489.5 149.6h1.3v1.3h-1.3zM476.1 134.8h1.3v1.3h-1.3zM482.7 148.8h1.3v1.3h-1.3zM465.6 141.0h1.3v1.3h-1.3zM467.4 141.3h1.3v1.3h-1.3zM464.0 143.9h1.3v1.3h-1.3zM489.9 148.1h1.3v1.3h-1.3zM483.9 138.7h1.3v1.3h-1.3zM470.6 135.7h1.3v1.3h-1.3zM487.0 131.8h1.3v1.3h-1.3zM461.7 119.0h1.3v1.3h-1.3zM493.0 138.4h1.3v1.3h-1.3zM483.4 146.8h1.3v1.3h-1.3zM483.3 151.2h1.3v1.3h-1.3zM484.5 146.8h1.3v1.3h-1.3zM470.3 136.7h1.3v1.3h-1.3zM464.7 144.5h1.3v1.3h-1.3zM472.1 130.6h1.3v1.3h-1.3zM466.7 136.3h1.3v1.3h-1.3zM484.4 148.1h1.3v1.3h-1.3zM465.0 137.0h1.3v1.3h-1.3zM488.3 148.3h1.3v1.3h-1.3zM475.3 150.3h1.3v1.3h-1.3zM487.6 153.3h1.3v1.3h-1.3zM465.1 132.6h1.3v1.3h-1.3zM488.5 150.9h1.3v1.3h-1.3zM484.5 142.5h1.3v1.3h-1.3zM489.9 146.0h1.3v1.3h-1.3zM461.5 159.0h1.3v1.3h-1.3zM495.0 141.1h1.3v1.3h-1.3zM467.0 150.3h1.3v1.3h-1.3zM478.4 135.3h1.3v1.3h-1.3zM484.3 142.6h1.3v1.3h-1.3zM468.7 123.2h1.3v1.3h-1.3zM468.3 145.4h1.3v1.3h-1.3zM468.0 149.9h1.3v1.3h-1.3zM494.5 145.0h1.3v1.3h-1.3zM484.9 153.4h1.3v1.3h-1.3zM483.4 135.2h1.3v1.3h-1.3zM479.0 149.9h1.3v1.3h-1.3zM488.5 136.2h1.3v1.3h-1.3zM474.6 150.3h1.3v1.3h-1.3zM468.2 131.1h1.3v1.3h-1.3zM479.0 149.9h1.3v1.3h-1.3zM485.1 139.9h1.3v1.3h-1.3zM473.3 127.7h1.3v1.3h-1.3zM468.5 144.4h1.3v1.3h-1.3zM478.2 131.2h1.3v1.3h-1.3zM485.5 139.8h1.3v1.3h-1.3zM484.4 134.1h1.3v1.3h-1.3zM461.3 136.4h1.3v1.3h-1.3zM461.0 143.7h1.3v1.3h-1.3zM481.9 155.3h1.3v1.3h-1.3zM482.9 146.4h1.3v1.3h-1.3zM463.5 145.4h1.3v1.3h-1.3zM460.3 140.3h1.3v1.3h-1.3zM473.4 135.1h1.3v1.3h-1.3zM468.1 141.5h1.3v1.3h-1.3zM476.3 157.1h1.3v1.3h-1.3zM460.9 150.7h1.3v1.3h-1.3zM469.2 125.7h1.3v1.3h-1.3zM480.9 133.1h1.3v1.3h-1.3zM491.9 136.9h1.3v1.3h-1.3zM477.7 149.7h1.3v1.3h-1.3zM480.1 158.2h1.3v1.3h-1.3zM485.3 149.8h1.3v1.3h-1.3zM468.5 147.5h1.3v1.3h-1.3zM485.8 132.9h1.3v1.3h-1.3zM481.7 129.3h1.3v1.3h-1.3zM474.3 126.5h1.3v1.3h-1.3zM459.4 138.4h1.3v1.3h-1.3zM482.6 129.6h1.3v1.3h-1.3zM478.1 152.7h1.3v1.3h-1.3zM463.7 147.5h1.3v1.3h-1.3zM477.3 130.2h1.3v1.3h-1.3zM467.8 152.2h1.3v1.3h-1.3zM475.5 151.9h1.3v1.3h-1.3zM479.2 149.3h1.3v1.3h-1.3zM473.4 149.4h1.3v1.3h-1.3zM471.7 150.9h1.3v1.3h-1.3zM489.3 133.3h1.3v1.3h-1.3zM491.0 151.2h1.3v1.3h-1.3zM477.1 129.4h1.3v1.3h-1.3zM483.3 138.1h1.3v1.3h-1.3zM464.9 150.6h1.3v1.3h-1.3zM484.0 146.9h1.3v1.3h-1.3zM464.9 138.7h1.3v1.3h-1.3zM467.4 140.5h1.3v1.3h-1.3zM484.3 137.4h1.3v1.3h-1.3zM469.2 121.2h1.3v1.3h-1.3zM471.3 149.6h1.3v1.3h-1.3zM492.8 127.6h1.3v1.3h-1.3zM484.3 141.4h1.3v1.3h-1.3zM468.9 154.9h1.3v1.3h-1.3zM466.0 143.7h1.3v1.3h-1.3zM479.3 150.7h1.3v1.3h-1.3zM484.5 138.7h1.3v1.3h-1.3zM489.6 141.7h1.3v1.3h-1.3zM489.1 155.5h1.3v1.3h-1.3zM473.1 134.4h1.3v1.3h-1.3zM480.9 153.4h1.3v1.3h-1.3zM479.7 150.8h1.3v1.3h-1.3zM481.3 149.2h1.3v1.3h-1.3zM487.3 140.3h1.3v1.3h-1.3zM464.8 141.6h1.3v1.3h-1.3zM469.9 133.5h1.3v1.3h-1.3zM461.3 131.1h1.3v1.3h-1.3zM483.0 135.8h1.3v1.3h-1.3zM473.2 152.7h1.3v1.3h-1.3zM485.6 145.2h1.3v1.3h-1.3zM480.8 122.0h1.3v1.3h-1.3zM465.0 143.9h1.3v1.3h-1.3zM482.9 149.2h1.3v1.3h-1.3zM466.7 151.1h1.3v1.3h-1.3zM489.0 148.4h1.3v1.3h-1.3zM466.0 141.9h1.3v1.3h-1.3zM470.6 130.1h1.3v1.3h-1.3zM469.8 146.9h1.3v1.3h-1.3zM477.8 133.7h1.3v1.3h-1.3zM488.4 133.0h1.3v1.3h-1.3zM460.2 142.7h1.3v1.3h-1.3zM474.5 133.2h1.3v1.3h-1.3zM468.9 137.1h1.3v1.3h-1.3zM483.1 149.1h1.3v1.3h-1.3zM492.9 139.1h1.3v1.3h-1.3zM464.5 131.3h1.3v1.3h-1.3zM466.6 143.3h1.3v1.3h-1.3zM468.1 137.3h1.3v1.3h-1.3zM473.4 151.5h1.3v1.3h-1.3zM481.5 152.8h1.3v1.3h-1.3zM483.1 148.2h1.3v1.3h-1.3zM486.0 145.9h1.3v1.3h-1.3zM489.0 151.0h1.3v1.3h-1.3zM491.3 144.1h1.3v1.3h-1.3zM480.0 134.1h1.3v1.3h-1.3zM475.1 153.1h1.3v1.3h-1.3zM468.5 146.9h1.3v1.3h-1.3zM467.6 136.8h1.3v1.3h-1.3zM471.6 132.4h1.3v1.3h-1.3zM460.3 145.4h1.3v1.3h-1.3zM494.5 143.8h1.3v1.3h-1.3zM482.5 136.9h1.3v1.3h-1.3zM482.2 133.9h1.3v1.3h-1.3zM492.5 135.3h1.3v1.3h-1.3zM458.4 152.6h1.3v1.3h-1.3zM468.6 144.0h1.3v1.3h-1.3zM484.4 143.7h1.3v1.3h-1.3zM484.0 138.7h1.3v1.3h-1.3zM481.2 126.1h1.3v1.3h-1.3zM488.7 137.5h1.3v1.3h-1.3zM490.3 137.2h1.3v1.3h-1.3zM468.7 132.7h1.3v1.3h-1.3zM478.6 134.5h1.3v1.3h-1.3zM471.8 152.4h1.3v1.3h-1.3zM474.4 134.2h1.3v1.3h-1.3zM473.9 132.3h1.3v1.3h-1.3zM481.3 130.5h1.3v1.3h-1.3zM483.1 139.1h1.3v1.3h-1.3zM483.7 152.6h1.3v1.3h-1.3zM479.4 149.5h1.3v1.3h-1.3zM465.4 146.7h1.3v1.3h-1.3zM464.1 141.2h1.3v1.3h-1.3zM482.0 122.3h1.3v1.3h-1.3zM470.0 136.7h1.3v1.3h-1.3zM468.6 142.7h1.3v1.3h-1.3zM481.5 133.8h1.3v1.3h-1.3zM471.2 128.5h1.3v1.3h-1.3zM470.6 126.7h1.3v1.3h-1.3zM464.0 146.0h1.3v1.3h-1.3zM483.5 136.4h1.3v1.3h-1.3zM485.1 155.7h1.3v1.3h-1.3zM456.2 136.0h1.3v1.3h-1.3zM489.1 154.3h1.3v1.3h-1.3zM463.3 140.3h1.3v1.3h-1.3zM478.7 130.7h1.3v1.3h-1.3zM467.8 158.6h1.3v1.3h-1.3zM462.1 143.0h1.3v1.3h-1.3zM476.8 130.4h1.3v1.3h-1.3zM472.5 130.8h1.3v1.3h-1.3zM492.4 145.2h1.3v1.3h-1.3zM473.1 151.4h1.3v1.3h-1.3zM483.5 147.3h1.3v1.3h-1.3zM481.1 148.1h1.3v1.3h-1.3zM481.6 158.6h1.3v1.3h-1.3zM459.7 153.3h1.3v1.3h-1.3zM472.8 151.6h1.3v1.3h-1.3zM468.0 141.1h1.3v1.3h-1.3zM484.7 142.0h1.3v1.3h-1.3zM479.2 133.4h1.3v1.3h-1.3zM466.9 155.1h1.3v1.3h-1.3zM465.0 134.7h1.3v1.3h-1.3zM467.9 142.1h1.3v1.3h-1.3zM485.9 131.9h1.3v1.3h-1.3zM464.7 151.0h1.3v1.3h-1.3zM464.6 139.4h1.3v1.3h-1.3zM477.3 156.2h1.3v1.3h-1.3zM459.6 120.6h1.3v1.3h-1.3zM475.6 150.6h1.3v1.3h-1.3zM477.9 127.0h1.3v1.3h-1.3zM483.0 153.7h1.3v1.3h-1.3zM467.7 153.6h1.3v1.3h-1.3zM471.0 136.5h1.3v1.3h-1.3zM470.1 129.2h1.3v1.3h-1.3zM481.8 157.6h1.3v1.3h-1.3zM464.6 141.0h1.3v1.3h-1.3zM463.5 145.0h1.3v1.3h-1.3zM484.5 143.3h1.3v1.3h-1.3zM467.5 140.2h1.3v1.3h-1.3zM460.5 142.1h1.3v1.3h-1.3zM486.3 150.9h1.3v1.3h-1.3zM465.7 146.3h1.3v1.3h-1.3zM480.9 136.2h1.3v1.3h-1.3zM483.9 146.7h1.3v1.3h-1.3zM470.6 137.2h1.3v1.3h-1.3zM484.1 125.5h1.3v1.3h-1.3zM467.3 147.3h1.3v1.3h-1.3zM480.6 149.7h1.3v1.3h-1.3zM484.5 142.3h1.3v1.3h-1.3zM488.4 139.9h1.3v1.3h-1.3zM465.2 128.4h1.3v1.3h-1.3zM464.5 136.0h1.3v1.3h-1.3zM461.7 145.0h1.3v1.3h-1.3zM476.6 134.0h1.3v1.3h-1.3zM486.7 154.1h1.3v1.3h-1.3zM476.6 159.7h1.3v1.3h-1.3zM468.4 149.3h1.3v1.3h-1.3zM463.1 147.1h1.3v1.3h-1.3zM470.2 150.1h1.3v1.3h-1.3zM477.2 149.7h1.3v1.3h-1.3zM474.1 154.5h1.3v1.3h-1.3zM488.0 140.6h1.3v1.3h-1.3zM490.6 150.7h1.3v1.3h-1.3zM477.0 131.5h1.3v1.3h-1.3zM486.3 140.2h1.3v1.3h-1.3zM484.1 147.3h1.3v1.3h-1.3zM461.4 137.5h1.3v1.3h-1.3zM482.8 146.8h1.3v1.3h-1.3zM489.6 137.0h1.3v1.3h-1.3zM487.0 145.4h1.3v1.3h-1.3zM470.1 151.4h1.3v1.3h-1.3zM463.9 137.6h1.3v1.3h-1.3zM478.4 150.4h1.3v1.3h-1.3zM486.9 138.9h1.3v1.3h-1.3zM463.9 139.1h1.3v1.3h-1.3zM485.6 132.3h1.3v1.3h-1.3zM499.7 149.9h1.3v1.3h-1.3zM490.5 143.9h1.3v1.3h-1.3zM457.6 145.8h1.3v1.3h-1.3zM489.3 138.2h1.3v1.3h-1.3zM486.7 148.3h1.3v1.3h-1.3zM482.7 148.2h1.3v1.3h-1.3zM486.1 145.7h1.3v1.3h-1.3zM461.7 134.8h1.3v1.3h-1.3zM466.2 131.3h1.3v1.3h-1.3zM478.7 158.3h1.3v1.3h-1.3zM489.4 152.2h1.3v1.3h-1.3zM478.7 156.0h1.3v1.3h-1.3zM483.1 149.3h1.3v1.3h-1.3zM466.8 137.9h1.3v1.3h-1.3zM472.1 127.4h1.3v1.3h-1.3zM478.9 134.4h1.3v1.3h-1.3zM475.3 156.2h1.3v1.3h-1.3zM477.7 127.6h1.3v1.3h-1.3zM486.7 144.0h1.3v1.3h-1.3zM487.6 145.0h1.3v1.3h-1.3zM485.9 152.8h1.3v1.3h-1.3zM488.9 144.0h1.3v1.3h-1.3zM466.4 144.0h1.3v1.3h-1.3zM468.8 150.5h1.3v1.3h-1.3zM492.7 149.5h1.3v1.3h-1.3zM478.7 129.5h1.3v1.3h-1.3zM469.9 128.0h1.3v1.3h-1.3zM480.0 149.9h1.3v1.3h-1.3zM482.2 159.8h1.3v1.3h-1.3zM460.9 145.2h1.3v1.3h-1.3zM476.1 153.4h1.3v1.3h-1.3zM476.1 135.2h1.3v1.3h-1.3zM470.4 136.6h1.3v1.3h-1.3zM478.0 149.9h1.3v1.3h-1.3zM489.3 141.6h1.3v1.3h-1.3zM480.0 157.5h1.3v1.3h-1.3zM479.7 131.7h1.3v1.3h-1.3zM459.3 136.7h1.3v1.3h-1.3zM470.6 132.3h1.3v1.3h-1.3zM484.7 139.1h1.3v1.3h-1.3zM474.7 133.6h1.3v1.3h-1.3zM492.1 127.5h1.3v1.3h-1.3zM473.7 150.8h1.3v1.3h-1.3zM480.5 154.0h1.3v1.3h-1.3zM477.2 127.4h1.3v1.3h-1.3zM463.0 138.6h1.3v1.3h-1.3zM480.1 130.1h1.3v1.3h-1.3zM471.8 152.0h1.3v1.3h-1.3zM489.3 153.6h1.3v1.3h-1.3zM466.3 160.2h1.3v1.3h-1.3zM475.5 131.9h1.3v1.3h-1.3zM464.3 143.6h1.3v1.3h-1.3zM480.9 124.4h1.3v1.3h-1.3zM464.4 154.5h1.3v1.3h-1.3zM466.8 141.0h1.3v1.3h-1.3zM470.2 148.8h1.3v1.3h-1.3zM466.1 137.8h1.3v1.3h-1.3zM497.7 143.0h1.3v1.3h-1.3zM474.0 123.8h1.3v1.3h-1.3zM470.4 155.0h1.3v1.3h-1.3zM483.3 133.5h1.3v1.3h-1.3zM470.0 148.6h1.3v1.3h-1.3zM465.4 142.0h1.3v1.3h-1.3zM486.4 145.1h1.3v1.3h-1.3zM467.2 133.1h1.3v1.3h-1.3zM469.1 139.7h1.3v1.3h-1.3zM464.0 141.6h1.3v1.3h-1.3zM463.8 147.5h1.3v1.3h-1.3zM476.2 129.2h1.3v1.3h-1.3zM467.7 152.9h1.3v1.3h-1.3zM480.5 135.6h1.3v1.3h-1.3zM492.3 136.7h1.3v1.3h-1.3zM480.8 153.9h1.3v1.3h-1.3zM487.5 146.8h1.3v1.3h-1.3zM470.1 137.2h1.3v1.3h-1.3zM478.3 134.8h1.3v1.3h-1.3zM478.4 131.6h1.3v1.3h-1.3zM483.9 142.6h1.3v1.3h-1.3zM470.8 153.0h1.3v1.3h-1.3zM453.1 151.1h1.3v1.3h-1.3zM468.8 132.6h1.3v1.3h-1.3zM480.5 150.6h1.3v1.3h-1.3zM472.8 131.5h1.3v1.3h-1.3zM467.9 154.5h1.3v1.3h-1.3zM484.6 144.8h1.3v1.3h-1.3zM481.9 149.9h1.3v1.3h-1.3zM484.1 130.5h1.3v1.3h-1.3zM468.9 138.2h1.3v1.3h-1.3zM467.1 139.2h1.3v1.3h-1.3zM480.3 133.6h1.3v1.3h-1.3zM477.3 153.1h1.3v1.3h-1.3zM478.0 133.2h1.3v1.3h-1.3zM471.6 151.5h1.3v1.3h-1.3zM482.7 137.1h1.3v1.3h-1.3zM467.5 147.2h1.3v1.3h-1.3zM480.2 151.0h1.3v1.3h-1.3zM485.1 143.3h1.3v1.3h-1.3zM464.6 155.2h1.3v1.3h-1.3zM469.9 135.2h1.3v1.3h-1.3zM485.2 142.6h1.3v1.3h-1.3zM471.8 128.6h1.3v1.3h-1.3zM468.2 141.8h1.3v1.3h-1.3zM461.8 147.5h1.3v1.3h-1.3zM466.7 146.4h1.3v1.3h-1.3zM477.2 126.4h1.3v1.3h-1.3zM467.5 137.6h1.3v1.3h-1.3zM482.8 147.1h1.3v1.3h-1.3zM481.5 155.3h1.3v1.3h-1.3zM461.5 134.7h1.3v1.3h-1.3zM481.0 136.2h1.3v1.3h-1.3zM469.5 149.8h1.3v1.3h-1.3zM456.7 153.2h1.3v1.3h-1.3zM486.8 128.9h1.3v1.3h-1.3zM483.7 140.0h1.3v1.3h-1.3zM475.5 153.3h1.3v1.3h-1.3zM483.5 146.5h1.3v1.3h-1.3zM483.1 129.6h1.3v1.3h-1.3zM468.2 144.8h1.3v1.3h-1.3zM485.8 153.5h1.3v1.3h-1.3zM467.7 127.7h1.3v1.3h-1.3zM475.9 131.3h1.3v1.3h-1.3zM470.5 153.7h1.3v1.3h-1.3zM480.0 151.0h1.3v1.3h-1.3zM477.3 135.2h1.3v1.3h-1.3zM485.1 151.0h1.3v1.3h-1.3zM471.8 132.4h1.3v1.3h-1.3zM483.0 138.3h1.3v1.3h-1.3zM467.2 141.9h1.3v1.3h-1.3zM476.8 150.2h1.3v1.3h-1.3zM482.4 130.7h1.3v1.3h-1.3zM482.2 156.1h1.3v1.3h-1.3zM483.8 141.9h1.3v1.3h-1.3zM479.4 130.6h1.3v1.3h-1.3zM493.0 142.6h1.3v1.3h-1.3zM468.7 155.5h1.3v1.3h-1.3zM486.3 130.0h1.3v1.3h-1.3zM474.9 129.7h1.3v1.3h-1.3zM484.7 125.2h1.3v1.3h-1.3zM491.2 134.5h1.3v1.3h-1.3zM468.2 158.7h1.3v1.3h-1.3zM483.3 135.0h1.3v1.3h-1.3zM487.5 132.8h1.3v1.3h-1.3zM465.4 147.6h1.3v1.3h-1.3zM495.3 146.7h1.3v1.3h-1.3zM466.9 143.3h1.3v1.3h-1.3zM463.1 143.5h1.3v1.3h-1.3zM482.2 155.6h1.3v1.3h-1.3zM472.5 149.7h1.3v1.3h-1.3zM487.2 134.6h1.3v1.3h-1.3zM474.3 128.4h1.3v1.3h-1.3zM469.5 145.9h1.3v1.3h-1.3zM460.4 140.3h1.3v1.3h-1.3zM482.2 153.6h1.3v1.3h-1.3zM456.6 145.5h1.3v1.3h-1.3zM471.6 125.0h1.3v1.3h-1.3zM468.4 147.1h1.3v1.3h-1.3zM468.7 135.1h1.3v1.3h-1.3zM475.2 129.2h1.3v1.3h-1.3zM486.3 140.7h1.3v1.3h-1.3zM468.7 136.0h1.3v1.3h-1.3zM468.8 143.5h1.3v1.3h-1.3zM467.3 142.0h1.3v1.3h-1.3zM464.5 139.0h1.3v1.3h-1.3zM487.2 141.7h1.3v1.3h-1.3zM467.8 135.8h1.3v1.3h-1.3zM467.5 145.2h1.3v1.3h-1.3zM489.7 149.1h1.3v1.3h-1.3zM468.7 143.5h1.3v1.3h-1.3zM469.3 160.6h1.3v1.3h-1.3zM470.7 151.5h1.3v1.3h-1.3zM465.7 148.4h1.3v1.3h-1.3zM466.7 139.0h1.3v1.3h-1.3zM470.5 152.6h1.3v1.3h-1.3zM471.9 128.0h1.3v1.3h-1.3zM486.5 139.7h1.3v1.3h-1.3zM488.1 145.9h1.3v1.3h-1.3zM469.4 151.2h1.3v1.3h-1.3zM480.1 149.7h1.3v1.3h-1.3zM476.8 154.5h1.3v1.3h-1.3zM483.8 140.0h1.3v1.3h-1.3zM464.5 142.2h1.3v1.3h-1.3zM477.0 135.0h1.3v1.3h-1.3zM474.9 154.1h1.3v1.3h-1.3zM472.7 151.2h1.3v1.3h-1.3zM469.0 135.1h1.3v1.3h-1.3zM483.9 141.3h1.3v1.3h-1.3zM478.2 150.5h1.3v1.3h-1.3zM489.4 133.1h1.3v1.3h-1.3zM477.6 156.4h1.3v1.3h-1.3zM480.4 127.0h1.3v1.3h-1.3zM479.4 135.7h1.3v1.3h-1.3zM482.4 130.2h1.3v1.3h-1.3zM466.2 140.5h1.3v1.3h-1.3zM473.4 152.8h1.3v1.3h-1.3zM489.0 146.2h1.3v1.3h-1.3zM485.1 140.1h1.3v1.3h-1.3zM465.6 144.9h1.3v1.3h-1.3zM462.5 155.1h1.3v1.3h-1.3zM478.5 151.5h1.3v1.3h-1.3zM471.3 130.1h1.3v1.3h-1.3zM487.5 132.5h1.3v1.3h-1.3zM458.9 141.8h1.3v1.3h-1.3zM478.6 130.7h1.3v1.3h-1.3zM470.4 131.4h1.3v1.3h-1.3zM484.0 139.9h1.3v1.3h-1.3z"/>
<path fill="#6a6a6a" d="M409.7 141.2h1.3v1.3h-1.3zM434.7 137.4h1.3v1.3h-1.3zM395.4 143.7h1.3v1.3h-1.3zM427.3 155.6h1.3v1.3h-1.3zM403.4 133.1h1.3v1.3h-1.3zM424.2 153.2h1.3v1.3h-1.3zM423.2 128.5h1.3v1.3h-1.3zM397.2 140.5h1.3v1.3h-1.3zM428.2 138.8h1.3v1.3h-1.3zM404.0 151.1h1.3v1.3h-1.3zM426.9 159.7h1.3v1.3h-1.3zM432.7 147.7h1.3v1.3h-1.3zM411.8 152.6h1.3v1.3h-1.3zM410.1 151.0h1.3v1.3h-1.3zM403.6 151.3h1.3v1.3h-1.3zM401.2 158.5h1.3v1.3h-1.3zM415.9 152.5h1.3v1.3h-1.3zM432.1 159.6h1.3v1.3h-1.3zM420.7 147.0h1.3v1.3h-1.3zM411.9 159.0h1.3v1.3h-1.3zM431.9 142.7h1.3v1.3h-1.3zM432.4 151.2h1.3v1.3h-1.3zM411.2 156.6h1.3v1.3h-1.3zM423.7 155.4h1.3v1.3h-1.3zM399.9 159.5h1.3v1.3h-1.3zM430.7 153.4h1.3v1.3h-1.3zM431.2 155.1h1.3v1.3h-1.3zM399.5 141.3h1.3v1.3h-1.3zM416.1 138.6h1.3v1.3h-1.3zM395.1 144.4h1.3v1.3h-1.3zM435.0 139.0h1.3v1.3h-1.3zM395.9 153.3h1.3v1.3h-1.3zM423.9 159.4h1.3v1.3h-1.3zM413.0 159.4h1.3v1.3h-1.3zM395.7 136.8h1.3v1.3h-1.3zM426.0 150.8h1.3v1.3h-1.3zM408.2 153.0h1.3v1.3h-1.3zM404.2 149.2h1.3v1.3h-1.3zM417.5 155.0h1.3v1.3h-1.3zM395.6 123.4h1.3v1.3h-1.3zM404.3 147.3h1.3v1.3h-1.3zM398.4 147.5h1.3v1.3h-1.3zM410.7 154.6h1.3v1.3h-1.3zM404.7 130.6h1.3v1.3h-1.3zM420.9 152.5h1.3v1.3h-1.3zM396.8 144.8h1.3v1.3h-1.3zM416.7 150.7h1.3v1.3h-1.3zM432.5 152.6h1.3v1.3h-1.3zM402.1 150.8h1.3v1.3h-1.3zM396.3 157.9h1.3v1.3h-1.3zM396.3 141.3h1.3v1.3h-1.3zM406.0 129.8h1.3v1.3h-1.3zM409.0 147.5h1.3v1.3h-1.3zM407.3 140.2h1.3v1.3h-1.3zM414.0 152.6h1.3v1.3h-1.3zM400.4 149.4h1.3v1.3h-1.3zM421.5 159.6h1.3v1.3h-1.3zM412.5 159.3h1.3v1.3h-1.3zM429.3 139.3h1.3v1.3h-1.3zM434.5 146.3h1.3v1.3h-1.3zM403.2 152.9h1.3v1.3h-1.3zM431.4 154.6h1.3v1.3h-1.3zM418.7 143.0h1.3v1.3h-1.3zM408.8 142.8h1.3v1.3h-1.3zM423.8 157.9h1.3v1.3h-1.3zM420.4 140.5h1.3v1.3h-1.3zM426.4 159.7h1.3v1.3h-1.3zM417.0 132.0h1.3v1.3h-1.3zM420.4 143.4h1.3v1.3h-1.3zM398.7 148.8h1.3v1.3h-1.3zM420.5 156.1h1.3v1.3h-1.3zM412.6 144.4h1.3v1.3h-1.3zM429.1 143.4h1.3v1.3h-1.3zM422.8 157.2h1.3v1.3h-1.3zM422.4 155.8h1.3v1.3h-1.3zM404.1 153.5h1.3v1.3h-1.3zM429.8 136.8h1.3v1.3h-1.3zM397.4 145.1h1.3v1.3h-1.3zM408.8 158.8h1.3v1.3h-1.3zM405.4 151.2h1.3v1.3h-1.3zM417.3 144.2h1.3v1.3h-1.3zM399.8 137.9h1.3v1.3h-1.3zM400.0 152.2h1.3v1.3h-1.3zM408.7 158.3h1.3v1.3h-1.3zM398.2 139.1h1.3v1.3h-1.3zM434.8 130.8h1.3v1.3h-1.3zM396.4 135.6h1.3v1.3h-1.3zM425.4 145.7h1.3v1.3h-1.3zM410.2 149.7h1.3v1.3h-1.3zM420.2 156.1h1.3v1.3h-1.3zM432.0 148.5h1.3v1.3h-1.3zM421.1 141.6h1.3v1.3h-1.3zM427.2 160.3h1.3v1.3h-1.3zM425.0 157.6h1.3v1.3h-1.3zM411.6 146.1h1.3v1.3h-1.3zM397.2 153.2h1.3v1.3h-1.3zM422.0 156.4h1.3v1.3h-1.3zM408.5 155.0h1.3v1.3h-1.3zM405.1 149.9h1.3v1.3h-1.3zM404.3 146.4h1.3v1.3h-1.3zM417.1 148.2h1.3v1.3h-1.3zM407.9 138.5h1.3v1.3h-1.3zM401.9 153.9h1.3v1.3h-1.3zM425.0 160.1h1.3v1.3h-1.3zM403.7 126.9h1.3v1.3h-1.3zM426.3 144.5h1.3v1.3h-1.3zM426.8 150.6h1.3v1.3h-1.3zM421.4 155.1h1.3v1.3h-1.3zM418.4 157.1h1.3v1.3h-1.3zM416.3 155.8h1.3v1.3h-1.3zM432.2 149.1h1.3v1.3h-1.3zM399.2 139.1h1.3v1.3h-1.3zM430.6 149.6h1.3v1.3h-1.3zM424.1 151.2h1.3v1.3h-1.3zM425.0 128.7h1.3v1.3h-1.3zM396.9 145.9h1.3v1.3h-1.3zM406.7 136.9h1.3v1.3h-1.3zM424.9 139.2h1.3v1.3h-1.3zM404.3 149.5h1.3v1.3h-1.3zM418.0 143.4h1.3v1.3h-1.3zM411.9 140.6h1.3v1.3h-1.3zM407.9 151.7h1.3v1.3h-1.3zM409.9 148.0h1.3v1.3h-1.3z"/>
<path fill="#6a6a6a" d="M452.9 140.0h1.3v1.3h-1.3zM442.9 146.2h1.3v1.3h-1.3zM442.1 151.6h1.3v1.3h-1.3zM440.1 133.2h1.3v1.3h-1.3zM441.3 154.0h1.3v1.3h-1.3zM443.8 149.2h1.3v1.3h-1.3zM448.9 159.8h1.3v1.3h-1.3zM447.1 156.2h1.3v1.3h-1.3zM449.9 135.2h1.3v1.3h-1.3zM455.2 145.4h1.3v1.3h-1.3zM449.6 135.2h1.3v1.3h-1.3zM448.7 146.3h1.3v1.3h-1.3zM446.3 157.2h1.3v1.3h-1.3zM439.8 134.8h1.3v1.3h-1.3zM440.9 142.0h1.3v1.3h-1.3zM448.5 159.0h1.3v1.3h-1.3zM445.7 139.8h1.3v1.3h-1.3zM443.5 147.3h1.3v1.3h-1.3zM455.1 156.8h1.3v1.3h-1.3zM446.8 141.0h1.3v1.3h-1.3zM441.8 140.5h1.3v1.3h-1.3zM451.6 154.5h1.3v1.3h-1.3z"/>
<path fill="#555" d="M456.6 98.5h1.3v1.3h-1.3zM468.8 113.3h1.3v1.3h-1.3zM459.4 98.3h1.3v1.3h-1.3zM462.2 109.8h1.3v1.3h-1.3zM464.1 100.9h1.3v1.3h-1.3zM478.4 116.1h1.3v1.3h-1.3zM467.4 121.0h1.3v1.3h-1.3zM465.0 107.9h1.3v1.3h-1.3zM464.9 109.1h1.3v1.3h-1.3zM474.9 107.0h1.3v1.3h-1.3zM463.8 110.7h1.3v1.3h-1.3zM473.3 111.7h1.3v1.3h-1.3zM466.4 114.1h1.3v1.3h-1.3zM476.5 116.7h1.3v1.3h-1.3z"/>
<g filter="url(#rag)">
<circle cx="476.3" cy="142.5" r="13.5" fill="url(#rg)"/>
</g>
<path d="M437.4 44.8V163.0M393.0 118.3H509.9" stroke="#222" stroke-width="1.2" fill="none"/>
<rect x="393.0" y="44.8" width="116.89999999999998" height="118.2" fill="none" stroke="#000" stroke-width="1.6"/>
<path d="M393.0 163.0v4M401.8 163.0v2M406.9 163.0v2M410.6 163.0v2M413.4 163.0v2M415.7 163.0v2M417.7 163.0v2M419.4 163.0v2M420.9 163.0v2M422.2 163.0v4M431.0 163.0v2M436.2 163.0v2M439.8 163.0v2M442.7 163.0v2M445.0 163.0v2M446.9 163.0v2M448.6 163.0v2M450.1 163.0v2M451.4 163.0v4M460.2 163.0v2M465.4 163.0v2M469.0 163.0v2M471.9 163.0v2M474.2 163.0v2M476.1 163.0v2M477.8 163.0v2M479.3 163.0v2M480.7 163.0v4M489.5 163.0v2M494.6 163.0v2M498.3 163.0v2M501.1 163.0v2M503.4 163.0v2M505.4 163.0v2M507.1 163.0v2M508.6 163.0v2M509.9 163.0v4M393.0 163.0h-4M393.0 154.1h-2M393.0 148.9h-2M393.0 145.2h-2M393.0 142.3h-2M393.0 140.0h-2M393.0 138.0h-2M393.0 136.3h-2M393.0 134.8h-2M393.0 133.4h-4M393.0 124.6h-2M393.0 119.4h-2M393.0 115.7h-2M393.0 112.8h-2M393.0 110.5h-2M393.0 108.5h-2M393.0 106.8h-2M393.0 105.3h-2M393.0 103.9h-4M393.0 95.0h-2M393.0 89.8h-2M393.0 86.1h-2M393.0 83.2h-2M393.0 80.9h-2M393.0 78.9h-2M393.0 77.2h-2M393.0 75.7h-2M393.0 74.3h-4M393.0 65.5h-2M393.0 60.3h-2M393.0 56.6h-2M393.0 53.7h-2M393.0 51.4h-2M393.0 49.4h-2M393.0 47.7h-2M393.0 46.2h-2M393.0 44.8h-4" stroke="#000" stroke-width="1" fill="none"/>
<text font-size="11.2" transform="translate(386.8 178.0)">10<tspan font-size="7" dy="-4.2">0</tspan></text>
<text font-size="11.2" transform="translate(415.5 178.0)">10<tspan font-size="7" dy="-4.2">1</tspan></text>
<text font-size="11.2" transform="translate(444.1 178.0)">10<tspan font-size="7" dy="-4.2">2</tspan></text>
<text font-size="11.2" transform="translate(472.8 178.0)">10<tspan font-size="7" dy="-4.2">3</tspan></text>
<text font-size="11.2" transform="translate(501.4 178.0)">10<tspan font-size="7" dy="-4.2">4</tspan></text>
<text font-size="12.6" transform="translate(385.8 167.0) rotate(-90) scale(0.9 1)">10<tspan font-size="7.6" dy="-4.6">0</tspan></text>
<text font-size="12.6" transform="translate(385.8 138.8) rotate(-90) scale(0.9 1)">10<tspan font-size="7.6" dy="-4.6">1</tspan></text>
<text font-size="12.6" transform="translate(385.8 110.6) rotate(-90) scale(0.9 1)">10<tspan font-size="7.6" dy="-4.6">2</tspan></text>
<text font-size="12.6" transform="translate(385.8 82.4) rotate(-90) scale(0.9 1)">10<tspan font-size="7.6" dy="-4.6">3</tspan></text>
<text font-size="12.6" transform="translate(385.8 53.7) rotate(-90) scale(0.9 1)">10<tspan font-size="7.6" dy="-4.6">4</tspan></text>
<text x="425.8" y="190.2" font-size="14">TCR<tspan class="sym2" font-size="18">αβ</tspan></text>
<text transform="translate(367 136.6) rotate(-90) scale(0.9 1)" font-size="16">CD4/CD8</text>
<text x="451.9" y="67.6" font-size="14.8">99.1%</text>
<path d="M469.3 79V106" stroke="#000" stroke-width="1"/><path d="M466.3 104h6l-3 7z" fill="#000"/>
<text x="-0.3" y="219.2" font-size="28.5">B</text>
<path d="M77.2 232.6H472.3V459.2" stroke="#333" stroke-width="1" fill="none"/>
<path d="M77.2 232.6V462.2M73.7 459.2H472.3" stroke="#333" stroke-width="1.2" fill="none"/>
<path d="M73.7 383.7H77.2M73.7 308.1H77.2M73.7 232.6H77.2M77.2 459.2v3.5M93.6 459.2v3.5M110.1 459.2v3.5M126.5 459.2v3.5M142.9 459.2v3.5M159.4 459.2v3.5M175.8 459.2v3.5M192.2 459.2v3.5M208.6 459.2v3.5M225.1 459.2v3.5M241.5 459.2v3.5M257.9 459.2v3.5M274.4 459.2v3.5M290.8 459.2v3.5M307.2 459.2v3.5M323.6 459.2v3.5M340.1 459.2v3.5M356.5 459.2v3.5M372.9 459.2v3.5M389.4 459.2v3.5M405.8 459.2v3.5M422.2 459.2v3.5M438.7 459.2v3.5M455.1 459.2v3.5M471.5 459.2v3.5" stroke="#000" stroke-width="1" fill="none"/>
<text x="71" y="463.7" font-size="12.8" text-anchor="end">0</text>
<text x="71" y="388.2" font-size="12.8" text-anchor="end">5</text>
<text x="71" y="312.6" font-size="12.8" text-anchor="end">10</text>
<text x="71" y="237.1" font-size="12.8" text-anchor="end">15</text>
<path d="M80.00 459.2V382h5V459.2zM96.44 459.2V364.25h5V459.2zM112.88 459.2V420.25h5V459.2zM129.32 459.2V426h5V459.2zM145.76 459.2V343.5h5V459.2zM162.20 459.2V422h5V459.2zM178.64 459.2V450.25h5V459.2zM195.08 459.2V413h5V459.2zM211.52 459.2V423h5V459.2zM227.96 459.2V439h5V459.2zM244.40 459.2V368.25h5V459.2zM260.84 459.2V445.5h5V459.2zM277.28 459.2V395h5V459.2zM293.72 459.2V351.75h5V459.2zM310.16 459.2V323.5h5V459.2zM326.60 459.2V417.1h5V459.2zM343.04 459.2V337.2h5V459.2zM359.48 459.2V446.9h5V459.2zM375.92 459.2V373.2h5V459.2zM392.36 459.2V286.6h5V459.2zM408.80 459.2V429.9h5V459.2zM425.24 459.2V429.2h5V459.2zM441.68 459.2V407.1h5V459.2zM458.12 459.2V411.6h5V459.2z" fill="#000"/>
<path d="M85.20 459.2V370.5h4.1V459.2zM101.64 459.2V325.5h4.1V459.2zM118.08 459.2V432.5h4.1V459.2zM134.52 459.2V401.0h4.1V459.2zM150.96 459.2V350.5h4.1V459.2zM167.40 459.2V425.0h4.1V459.2zM183.84 459.2V438.0h4.1V459.2zM200.28 459.2V411.0h4.1V459.2zM216.72 459.2V387.5h4.1V459.2zM233.16 459.2V385.75h4.1V459.2zM249.60 459.2V392.25h4.1V459.2zM266.04 459.2V438.0h4.1V459.2zM282.48 459.2V404.25h4.1V459.2zM298.92 459.2V353.75h4.1V459.2zM315.36 459.2V368.9h4.1V459.2zM331.80 459.2V419.3h4.1V459.2zM348.24 459.2V371.2h4.1V459.2zM364.68 459.2V438.7h4.1V459.2zM381.12 459.2V340.8h4.1V459.2zM397.56 459.2V404.1h4.1V459.2zM414.00 459.2V413.8h4.1V459.2zM430.44 459.2V410.7h4.1V459.2zM446.88 459.2V392.0h4.1V459.2zM463.32 459.2V440.1h4.1V459.2z" fill="#fff" stroke="#222" stroke-width="1"/>
<text transform="translate(88.9 466.6) rotate(-90)" font-size="11.7" text-anchor="end">V<tspan class="sym" font-size="11.2">β</tspan>1</text>
<text transform="translate(105.3 466.6) rotate(-90)" font-size="11.7" text-anchor="end">V<tspan class="sym" font-size="11.2">β</tspan>2</text>
<text transform="translate(121.8 466.6) rotate(-90)" font-size="11.7" text-anchor="end">V<tspan class="sym" font-size="11.2">β</tspan>3</text>
<text transform="translate(138.2 466.6) rotate(-90)" font-size="11.7" text-anchor="end">V<tspan class="sym" font-size="11.2">β</tspan>4</text>
<text transform="translate(154.7 466.6) rotate(-90)" font-size="11.7" text-anchor="end">V<tspan class="sym" font-size="11.2">β</tspan>5.1</text>
<text transform="translate(171.1 466.6) rotate(-90)" font-size="11.7" text-anchor="end">V<tspan class="sym" font-size="11.2">β</tspan>5.2</text>
<text transform="translate(187.5 466.6) rotate(-90)" font-size="11.7" text-anchor="end">V<tspan class="sym" font-size="11.2">β</tspan>5.3</text>
<text transform="translate(204.0 466.6) rotate(-90)" font-size="11.7" text-anchor="end">V<tspan class="sym" font-size="11.2">β</tspan>7.1</text>
<text transform="translate(220.4 466.6) rotate(-90)" font-size="11.7" text-anchor="end">V<tspan class="sym" font-size="11.2">β</tspan>7.2</text>
<text transform="translate(236.9 466.6) rotate(-90)" font-size="11.7" text-anchor="end">V<tspan class="sym" font-size="11.2">β</tspan>8</text>
<text transform="translate(253.3 466.6) rotate(-90)" font-size="11.7" text-anchor="end">V<tspan class="sym" font-size="11.2">β</tspan>9</text>
<text transform="translate(269.7 466.6) rotate(-90)" font-size="11.7" text-anchor="end">V<tspan class="sym" font-size="11.2">β</tspan>11</text>
<text transform="translate(286.2 466.6) rotate(-90)" font-size="11.7" text-anchor="end">V<tspan class="sym" font-size="11.2">β</tspan>12</text>
<text transform="translate(302.6 466.6) rotate(-90)" font-size="11.7" text-anchor="end">V<tspan class="sym" font-size="11.2">β</tspan>13.1</text>
<text transform="translate(319.1 466.6) rotate(-90)" font-size="11.7" text-anchor="end">V<tspan class="sym" font-size="11.2">β</tspan>13.2</text>
<text transform="translate(335.5 466.6) rotate(-90)" font-size="11.7" text-anchor="end">V<tspan class="sym" font-size="11.2">β</tspan>13.6</text>
<text transform="translate(351.9 466.6) rotate(-90)" font-size="11.7" text-anchor="end">V<tspan class="sym" font-size="11.2">β</tspan>14</text>
<text transform="translate(368.4 466.6) rotate(-90)" font-size="11.7" text-anchor="end">V<tspan class="sym" font-size="11.2">β</tspan>16</text>
<text transform="translate(384.8 466.6) rotate(-90)" font-size="11.7" text-anchor="end">V<tspan class="sym" font-size="11.2">β</tspan>17</text>
<text transform="translate(401.3 466.6) rotate(-90)" font-size="11.7" text-anchor="end">V<tspan class="sym" font-size="11.2">β</tspan>18</text>
<text transform="translate(417.7 466.6) rotate(-90)" font-size="11.7" text-anchor="end">V<tspan class="sym" font-size="11.2">β</tspan>20</text>
<text transform="translate(434.1 466.6) rotate(-90)" font-size="11.7" text-anchor="end">V<tspan class="sym" font-size="11.2">β</tspan>21.3</text>
<text transform="translate(450.6 466.6) rotate(-90)" font-size="11.7" text-anchor="end">V<tspan class="sym" font-size="11.2">β</tspan>22</text>
<text transform="translate(467.0 466.6) rotate(-90)" font-size="11.7" text-anchor="end">V<tspan class="sym" font-size="11.2">β</tspan>23</text>
<text x="193.8" y="518" font-size="14.8">TCR Vß family</text>
<text transform="translate(43.9 480.6) rotate(-90)" font-size="14.9">% Vß usage in CD3<tspan font-size="9" dy="-5">+</tspan><tspan dy="5"> T cell subsets</tspan></text>
<rect x="357" y="242.8" width="84.5" height="33.5" fill="#fff" stroke="#000" stroke-width="1"/>
<rect x="361.3" y="249" width="5.9" height="5.9" fill="#000"/>
<rect x="361.9" y="266" width="5" height="5.2" fill="#fff" stroke="#000" stroke-width="1"/>
<text x="370.4" y="255.2" font-size="10.5" letter-spacing="0.42">DN T cells</text>
<text x="370.4" y="271.9" font-size="10.5" letter-spacing="0.42">CD4+ T cells</text>
<text x="0.3" y="535.7" font-size="28.7">C</text>
<path d="M2.4 550.8V631.8" stroke="#707070" stroke-width="0.9" fill="none"/>
<path d="M2.4 631.8H68.9" stroke="#a2a2a2" stroke-width="1.25" fill="none"/>
<path d="M0.8999999999999999 550.8h1.5M0.8999999999999999 577.8h1.5M0.8999999999999999 604.8h1.5M24.6 631.8v1.5M46.7 631.8v1.5" stroke="#777" stroke-width="0.8" fill="none"/>
<text x="16.2" y="556.6" font-size="10.3">Vß1</text>
<path d="M2.9 630.7L3.4 630.0L3.9 630.3L4.4 630.4L4.9 630.4L5.4 630.9L5.9 630.1L6.4 630.0L6.9 630.9L7.4 630.3L7.9 630.1L8.4 630.1L8.9 629.9L9.4 630.0L9.9 630.0L10.4 630.8L10.9 629.9L11.4 629.9L11.9 630.3L12.4 630.0L12.9 630.6L13.4 630.5L13.9 630.8L14.4 630.4L14.9 629.9L15.4 630.1L15.9 630.0L16.4 629.0L16.9 626.4L17.4 622.1L17.9 618.6L18.4 618.0L18.9 621.1L19.4 625.5L19.9 628.3L20.4 629.9L20.9 630.3L21.4 630.4L21.9 630.1L22.4 630.0L22.9 630.3L23.4 630.1L23.9 630.6L24.4 630.7L24.9 630.6L25.4 630.8L25.9 630.1L26.4 630.0L26.9 630.3L27.4 630.7L27.9 630.8L28.4 630.1L28.9 630.3L29.4 630.8L29.9 629.9L30.4 630.1L30.9 629.9L31.4 629.8L31.9 629.6L32.4 628.5L32.9 627.3L33.4 628.0L33.9 628.8L34.4 629.7L34.9 630.1L35.4 630.7L35.9 630.6L36.4 629.8L36.9 628.9L37.4 627.7L37.9 623.7L38.4 618.3L38.9 611.8L39.4 607.4L39.9 605.8L40.4 608.6L40.9 614.5L41.4 620.7L41.9 626.2L42.4 628.3L42.9 630.2L43.4 630.4L43.9 630.8L44.4 630.4L44.9 630.8L45.4 630.2L45.9 630.5L46.4 630.1L46.9 630.6L47.4 629.9L47.9 630.8L48.4 630.8L48.9 630.4L49.4 630.4L49.9 630.1L50.4 630.9L50.9 630.7L51.4 630.7L51.9 630.5L52.4 630.1L52.9 630.2L53.4 630.7L53.9 630.5L54.4 630.1L54.9 630.3L55.4 630.8L55.9 630.5L56.4 630.9L56.9 630.4L57.4 630.7L57.9 630.6L58.4 630.6L58.9 630.0L59.4 630.8L59.9 630.8L60.4 630.8L60.9 630.5L61.4 630.5L61.9 630.0L62.4 630.2L62.9 630.6L63.4 630.8L63.9 630.4L64.4 630.1L64.9 630.7L65.4 630.1L65.9 630.5L66.4 629.9L66.9 629.9L67.4 630.7" stroke="#2a2a2a" stroke-width="0.95" fill="none" stroke-linejoin="round"/>
<path d="M74.6 550.8V631.8" stroke="#707070" stroke-width="0.9" fill="none"/>
<path d="M74.6 631.8H141.1" stroke="#a2a2a2" stroke-width="1.25" fill="none"/>
<path d="M73.1 550.8h1.5M73.1 577.8h1.5M73.1 604.8h1.5M96.8 631.8v1.5M118.9 631.8v1.5" stroke="#777" stroke-width="0.8" fill="none"/>
<text x="86.3" y="556.6" font-size="10.3">Vß2</text>
<path d="M74.4 630.0L74.9 630.1L75.4 630.1L75.9 630.1L76.4 629.9L76.9 630.1L77.4 630.1L77.9 630.1L78.4 630.3L78.9 630.0L79.4 630.2L79.9 629.7L80.4 629.4L80.9 627.3L81.4 623.4L81.9 617.5L82.4 612.3L82.9 610.8L83.4 614.0L83.9 619.8L84.4 625.3L84.9 628.4L85.4 629.6L85.9 629.8L86.4 630.1L86.9 630.2L87.4 630.1L87.9 630.2L88.4 630.2L88.9 629.7L89.4 629.1L89.9 627.0L90.4 623.6L90.9 618.4L91.4 614.5L91.9 613.8L92.4 617.4L92.9 622.4L93.4 626.7L93.9 628.9L94.4 629.8L94.9 629.9L95.4 630.2L95.9 629.9L96.4 630.2L96.9 630.1L97.4 630.1L97.9 630.1L98.4 630.0L98.9 629.6L99.4 628.1L99.9 626.0L100.4 622.5L100.9 617.8L101.4 612.4L101.9 608.1L102.4 606.6L102.9 608.1L103.4 612.4L103.9 617.7L104.4 622.4L104.9 626.0L105.4 627.4L105.9 627.1L106.4 623.3L106.9 614.2L107.4 600.1L107.9 583.9L108.4 572.3L108.9 571.0L109.4 581.3L109.9 596.9L110.4 611.8L110.9 622.0L111.4 627.1L111.9 629.2L112.4 629.9L112.9 629.9L113.4 629.2L113.9 627.3L114.4 623.4L114.9 616.5L115.4 608.5L115.9 602.5L116.4 601.6L116.9 607.1L117.4 614.8L117.9 622.4L118.4 626.9L118.9 628.9L119.4 629.8L119.9 630.1L120.4 630.1L120.9 629.7L121.4 629.1L121.9 626.9L122.4 621.1L122.9 612.1L123.4 601.7L123.9 595.6L124.4 598.2L124.9 607.5L125.4 618.0L125.9 625.0L126.4 628.6L126.9 629.8L127.4 629.9L127.9 629.9L128.4 629.9L128.9 629.9L129.4 629.1L129.9 627.1L130.4 622.9L130.9 617.3L131.4 614.2L131.9 615.6L132.4 620.8L132.9 625.6L133.4 628.4L133.9 629.5L134.4 629.9L134.9 629.9L135.4 630.2" stroke="#2a2a2a" stroke-width="0.95" fill="none" stroke-linejoin="round"/>
<path d="M150.2 550.8V631.8" stroke="#707070" stroke-width="0.9" fill="none"/>
<path d="M150.2 631.8H216.7" stroke="#a2a2a2" stroke-width="1.25" fill="none"/>
<path d="M148.7 550.8h1.5M148.7 577.8h1.5M148.7 604.8h1.5M172.4 631.8v1.5M194.5 631.8v1.5" stroke="#777" stroke-width="0.8" fill="none"/>
<text x="161" y="556.6" font-size="10.3">Vß3</text>
<path d="M153.7 627.7L154.2 628.0L154.7 627.8L155.2 627.9L155.7 627.5L156.2 626.8L156.7 625.0L157.2 621.8L157.7 617.9L158.2 614.4L158.7 613.5L159.2 615.8L159.7 619.6L160.2 623.3L160.7 625.9L161.2 626.9L161.7 627.2L162.2 626.9L162.7 625.9L163.2 624.2L163.7 621.2L164.2 617.1L164.7 613.1L165.2 609.2L165.7 607.8L166.2 608.5L166.7 611.2L167.2 615.3L167.7 619.8L168.2 622.9L168.7 625.4L169.2 626.8L169.7 627.2L170.2 627.3L170.7 626.2L171.2 624.1L171.7 620.4L172.2 615.9L172.7 612.7L173.2 612.4L173.7 615.2L174.2 619.5L174.7 623.4L175.2 626.0L175.7 626.8L176.2 626.9L176.7 626.4L177.2 624.7L177.7 621.9L178.2 618.4L178.7 614.8L179.2 612.0L179.7 611.5L180.2 613.0L180.7 616.1L181.2 619.7L181.7 622.9L182.2 625.1L182.7 625.5L183.2 624.1L183.7 620.7L184.2 615.4L184.7 608.3L185.2 601.7L185.7 597.2L186.2 596.5L186.7 600.6L187.2 606.8L187.7 614.0L188.2 620.1L188.7 623.9L189.2 626.1L189.7 627.1L190.2 626.9L190.7 625.5L191.2 622.5L191.7 617.5L192.2 612.4L192.7 608.7L193.2 609.3L193.7 613.2L194.2 618.9L194.7 623.3L195.2 625.9L195.7 627.1L196.2 627.8L196.7 627.7L197.2 627.9L197.7 627.6L198.2 627.9L198.7 627.7L199.2 627.9L199.7 627.6L200.2 627.8L200.7 627.9L201.2 627.6L201.7 627.7" stroke="#2a2a2a" stroke-width="0.95" fill="none" stroke-linejoin="round"/>
<path d="M223.5 550.8V631.8" stroke="#707070" stroke-width="0.9" fill="none"/>
<path d="M223.5 631.8H290.0" stroke="#a2a2a2" stroke-width="1.25" fill="none"/>
<path d="M222.0 550.8h1.5M222.0 577.8h1.5M222.0 604.8h1.5M245.7 631.8v1.5M267.8 631.8v1.5" stroke="#777" stroke-width="0.8" fill="none"/>
<text x="234.4" y="556.6" font-size="10.3">Vß4</text>
<path d="M227.2 627.1L227.7 627.2L228.2 627.4L228.7 627.1L229.2 627.0L229.7 627.1L230.2 627.1L230.7 627.5L231.2 627.2L231.7 627.0L232.2 626.3L232.7 625.5L233.2 625.5L233.7 626.5L234.2 626.9L234.7 627.2L235.2 627.2L235.7 627.3L236.2 627.4L236.7 627.2L237.2 626.4L237.7 624.8L238.2 623.4L238.7 622.0L239.2 623.1L239.7 624.8L240.2 626.2L240.7 626.8L241.2 626.8L241.7 627.0L242.2 626.0L242.7 625.3L243.2 625.3L243.7 626.0L244.2 626.6L244.7 627.3L245.2 627.4L245.7 627.0L246.2 627.0L246.7 627.5L247.2 627.3L247.7 627.3L248.2 626.4L248.7 624.9L249.2 622.8L249.7 618.5L250.2 613.9L250.7 609.9L251.2 609.0L251.7 611.2L252.2 616.0L252.7 620.1L253.2 623.7L253.7 626.1L254.2 627.0L254.7 626.9L255.2 627.0L255.7 627.3L256.2 626.9L256.7 627.1L257.2 627.0L257.7 626.5L258.2 624.6L258.7 623.1L259.2 623.3L259.7 625.0L260.2 626.2L260.7 627.1L261.2 627.4L261.7 627.3L262.2 627.0L262.7 627.2L263.2 627.3L263.7 627.0L264.2 626.9L264.7 627.0L265.2 626.6L265.7 625.5L266.2 625.5L266.7 625.9L267.2 626.8L267.7 627.3L268.2 627.1L268.7 627.0L269.2 626.9L269.7 627.4L270.2 627.2L270.7 626.9L271.2 626.5L271.7 625.6L272.2 625.5L272.7 626.3L273.2 626.9L273.7 627.2L274.2 627.3L274.7 627.3L275.2 627.0L275.7 627.4L276.2 627.2L276.7 627.3L277.2 626.5L277.7 626.3L278.2 625.3L278.7 624.8L279.2 625.7L279.7 626.8L280.2 626.9L280.7 627.2L281.2 627.4L281.7 627.4L282.2 627.5L282.7 627.3L283.2 627.3L283.7 626.9L284.2 627.0" stroke="#2a2a2a" stroke-width="0.95" fill="none" stroke-linejoin="round"/>
<path d="M295.2 550.8V631.8" stroke="#707070" stroke-width="0.9" fill="none"/>
<path d="M295.2 631.8H361.7" stroke="#a2a2a2" stroke-width="1.25" fill="none"/>
<path d="M293.7 550.8h1.5M293.7 577.8h1.5M293.7 604.8h1.5M317.4 631.8v1.5M339.5 631.8v1.5" stroke="#777" stroke-width="0.8" fill="none"/>
<text x="310.2" y="556.6" font-size="10.3">Vß5.1</text>
<path d="M298.7 628.0L299.2 627.9L299.7 628.0L300.2 627.9L300.7 628.1L301.2 627.9L301.7 628.1L302.2 628.1L302.7 628.1L303.2 628.0L303.7 628.1L304.2 627.9L304.7 628.0L305.2 627.5L305.7 626.4L306.2 624.2L306.7 620.3L307.2 614.3L307.7 606.0L308.2 597.4L308.7 589.7L309.2 586.2L309.7 587.7L310.2 594.1L310.7 602.5L311.2 611.3L311.7 618.1L312.2 622.9L312.7 625.9L313.2 626.9L313.7 627.8L314.2 628.0L314.7 627.9L315.2 627.9L315.7 627.1L316.2 625.3L316.7 620.1L317.2 613.8L317.7 610.9L318.2 614.0L318.7 620.2L319.2 625.3L319.7 627.2L320.2 627.2L320.7 625.1L321.2 620.8L321.7 615.8L322.2 612.8L322.7 613.9L323.2 617.5L323.7 619.2L324.2 616.4L324.7 611.1L325.2 607.9L325.7 608.6L326.2 608.4L326.7 603.9L327.2 596.6L327.7 594.4L328.2 601.7L328.7 612.6L329.2 621.4L329.7 625.9L330.2 627.7L330.7 627.9L331.2 628.0L331.7 627.2L332.2 625.1L332.7 621.5L333.2 616.7L333.7 613.7L334.2 615.1L334.7 619.5L335.2 623.6L335.7 625.3L336.2 623.3L336.7 618.9L337.2 614.2L337.7 613.0L338.2 615.8L338.7 620.9L339.2 625.1L339.7 627.2L340.2 627.7L340.7 628.0L341.2 628.0L341.7 628.0L342.2 628.2L342.7 628.0L343.2 628.2L343.7 627.8L344.2 627.9L344.7 628.1L345.2 627.9L345.7 626.9L346.2 624.8L346.7 620.8L347.2 616.3L347.7 614.3L348.2 616.3L348.7 620.9L349.2 624.9L349.7 627.1L350.2 627.9L350.7 628.1L351.2 628.1L351.7 628.1L352.2 628.0L352.7 627.8L353.2 627.9L353.7 627.9L354.2 628.0L354.7 627.9L355.2 627.9L355.7 628.2" stroke="#2a2a2a" stroke-width="0.95" fill="none" stroke-linejoin="round"/>
<path d="M369.5 550.8V631.8" stroke="#707070" stroke-width="0.9" fill="none"/>
<path d="M369.5 631.8H436.0" stroke="#a2a2a2" stroke-width="1.25" fill="none"/>
<path d="M368.0 550.8h1.5M368.0 577.8h1.5M368.0 604.8h1.5M391.7 631.8v1.5M413.8 631.8v1.5" stroke="#777" stroke-width="0.8" fill="none"/>
<text x="381.3" y="556.6" font-size="10.3">Vß6</text>
<path d="M372.4 625.1C372.8 625.1 374.2 625.0 375.0 624.9C375.8 624.8 376.7 624.5 377.3 624.6C377.9 624.8 378.0 626.0 378.8 625.8C379.6 625.5 380.9 623.8 381.9 623.1C382.9 622.4 384.0 622.3 385.0 621.8C386.0 621.3 387.3 621.8 388.1 620.3C388.9 618.8 389.2 613.5 389.6 613.1C390.1 612.7 390.4 616.0 390.8 617.7C391.2 619.4 391.6 624.0 391.9 623.1C392.2 622.2 392.4 614.0 392.7 612.3C393.0 610.6 393.5 611.6 393.9 613.1C394.3 614.6 394.9 618.8 395.3 621.5C395.7 624.2 395.8 630.0 396.2 629.2C396.6 628.4 397.1 619.0 397.6 616.9C398.1 614.8 398.7 614.9 399.2 616.6C399.7 618.3 399.9 625.8 400.4 626.9C400.8 628.0 401.4 624.2 401.9 623.1C402.4 622.0 403.0 620.2 403.5 620.0C404.0 619.8 404.2 621.8 404.7 621.8C405.1 621.8 405.6 621.8 406.2 620.0C406.8 618.2 407.4 614.3 408.1 610.8C408.8 607.3 409.8 600.3 410.4 598.8C411.0 597.2 411.3 599.1 411.9 601.5C412.5 603.9 413.4 609.9 414.2 613.1C415.0 616.3 415.7 619.0 416.5 620.8C417.3 622.6 418.0 622.8 418.8 623.8C419.6 624.8 420.3 626.4 421.2 626.9C422.1 627.4 423.3 626.6 424.2 626.9C425.1 627.2 425.7 628.2 426.5 628.5C427.3 628.8 428.2 628.7 428.8 628.5C429.4 628.3 430.1 627.6 430.4 627.4" stroke="#2a2a2a" stroke-width="0.95" fill="none" stroke-linejoin="round"/>
<path d="M442.7 550.8V631.8" stroke="#707070" stroke-width="0.9" fill="none"/>
<path d="M442.7 631.8H509.2" stroke="#a2a2a2" stroke-width="1.25" fill="none"/>
<path d="M441.2 550.8h1.5M441.2 577.8h1.5M441.2 604.8h1.5M464.9 631.8v1.5M487.0 631.8v1.5" stroke="#777" stroke-width="0.8" fill="none"/>
<text x="458.4" y="556.6" font-size="10.3">Vß7</text>
<path d="M446.4 628.1L446.9 628.2L447.4 627.9L447.9 628.1L448.4 628.0L448.9 628.2L449.4 627.7L449.9 628.1L450.4 628.2L450.9 628.1L451.4 628.1L451.9 628.2L452.4 627.9L452.9 628.0L453.4 628.3L453.9 627.7L454.4 628.2L454.9 627.8L455.4 627.7L455.9 628.0L456.4 627.8L456.9 628.3L457.4 628.2L457.9 627.8L458.4 627.9L458.9 628.2L459.4 628.1L459.9 628.3L460.4 627.8L460.9 627.9L461.4 628.1L461.9 628.0L462.4 628.0L462.9 628.1L463.4 628.0L463.9 628.3L464.4 627.8L464.9 627.5L465.4 627.7L465.9 626.9L466.4 625.8L466.9 624.7L467.4 624.2L467.9 624.7L468.4 625.3L468.9 626.5L469.4 627.1L469.9 627.7L470.4 627.9L470.9 627.7L471.4 628.2L471.9 628.0L472.4 628.1L472.9 628.3L473.4 627.8L473.9 628.2L474.4 628.2L474.9 628.2L475.4 627.8L475.9 627.9L476.4 628.1L476.9 628.0L477.4 628.1L477.9 628.0L478.4 628.2L478.9 627.8L479.4 626.5L479.9 625.2L480.4 622.9L480.9 621.7L481.4 622.3L481.9 624.2L482.4 626.1L482.9 627.3L483.4 627.7L483.9 628.1L484.4 628.2L484.9 628.0L485.4 627.8L485.9 628.0L486.4 628.2L486.9 627.6L487.4 626.6L487.9 626.3L488.4 625.8L488.9 626.5L489.4 627.1L489.9 627.6L490.4 628.0L490.9 628.2L491.4 628.0L491.9 627.7L492.4 628.3L492.9 628.1L493.4 628.1L493.9 627.6L494.4 626.8L494.9 626.5L495.4 626.7L495.9 627.5L496.4 627.8L496.9 627.8L497.4 628.1L497.9 628.3L498.4 627.7L498.9 628.0L499.4 627.7L499.9 627.9L500.4 628.1L500.9 628.2L501.4 627.7L501.9 627.8L502.4 628.0L502.9 628.3" stroke="#2a2a2a" stroke-width="0.95" fill="none" stroke-linejoin="round"/>
<path d="M2.4 646.6V727.4" stroke="#707070" stroke-width="0.9" fill="none"/>
<path d="M2.4 727.4H68.9" stroke="#a2a2a2" stroke-width="1.25" fill="none"/>
<path d="M0.8999999999999999 646.6h1.5M0.8999999999999999 673.5h1.5M0.8999999999999999 700.5h1.5M24.6 727.4v1.5M46.7 727.4v1.5" stroke="#777" stroke-width="0.8" fill="none"/>
<text x="16.2" y="655.8" font-size="10.3">Vß8</text>
<path d="M2.9 720.0L3.4 719.6L3.9 719.7L4.4 719.6L4.9 719.8L5.4 720.2L5.9 720.5L6.4 720.8L6.9 721.4L7.4 721.9L7.9 722.5L8.4 722.9L8.9 722.8L9.4 722.1L9.9 721.2L10.4 719.2L10.9 716.8L11.4 716.0L11.9 716.4L12.4 718.1L12.9 720.6L13.4 722.6L13.9 723.5L14.4 723.7L14.9 723.9L15.4 724.1L15.9 723.9L16.4 723.5L16.9 722.6L17.4 720.2L17.9 715.8L18.4 710.1L18.9 705.2L19.4 704.2L19.9 706.8L20.4 712.6L20.9 717.7L21.4 721.4L21.9 723.2L22.4 723.8L22.9 723.9L23.4 723.9L23.9 723.8L24.4 722.6L24.9 719.8L25.4 713.8L25.9 705.4L26.4 697.9L26.9 695.4L27.4 700.2L27.9 708.9L28.4 716.6L28.9 721.4L29.4 723.1L29.9 723.8L30.4 723.9L30.9 723.8L31.4 724.1L31.9 724.2L32.4 723.7L32.9 723.5L33.4 722.9L33.9 720.7L34.4 716.9L34.9 712.3L35.4 708.4L35.9 707.1L36.4 709.9L36.9 714.3L37.4 718.8L37.9 721.4L38.4 723.0L38.9 723.6L39.4 723.3L39.9 722.9L40.4 722.4L40.9 721.3L41.4 720.4L41.9 718.7L42.4 716.9L42.9 715.4L43.4 713.6L43.9 712.2L44.4 711.5L44.9 711.6L45.4 712.2L45.9 713.5L46.4 715.0L46.9 716.6L47.4 718.6L47.9 719.9L48.4 721.4L48.9 722.2L49.4 722.6L49.9 722.6L50.4 722.2L50.9 721.6L51.4 720.6L51.9 719.6L52.4 719.2L52.9 719.4L53.4 720.4L53.9 721.2L54.4 722.2L54.9 723.1L55.4 723.6L55.9 723.7L56.4 724.1L56.9 723.9L57.4 724.0L57.9 723.9L58.4 724.0L58.9 724.1L59.4 724.1L59.9 724.0L60.4 724.1L60.9 724.1L61.4 723.9L61.9 724.1" stroke="#2a2a2a" stroke-width="0.95" fill="none" stroke-linejoin="round"/>
<path d="M75.4 646.6V727.4" stroke="#707070" stroke-width="0.9" fill="none"/>
<path d="M75.4 727.4H141.9" stroke="#a2a2a2" stroke-width="1.25" fill="none"/>
<path d="M73.9 646.6h1.5M73.9 673.5h1.5M73.9 700.5h1.5M97.6 727.4v1.5M119.7 727.4v1.5" stroke="#777" stroke-width="0.8" fill="none"/>
<text x="86.5" y="655.8" font-size="10.3">Vß9</text>
<path d="M77.3 725.6L77.8 725.7L78.3 725.8L78.8 725.8L79.3 725.8L79.8 725.7L80.3 725.8L80.8 725.8L81.3 725.6L81.8 725.6L82.3 725.6L82.8 725.6L83.3 725.6L83.8 725.6L84.3 725.7L84.8 725.7L85.3 725.8L85.8 725.6L86.3 725.5L86.8 725.2L87.3 724.5L87.8 722.8L88.3 718.7L88.8 711.2L89.3 699.8L89.8 685.3L90.3 671.1L90.8 661.9L91.3 660.8L91.8 668.8L92.3 682.3L92.8 697.1L93.3 709.5L93.8 717.5L94.3 722.1L94.8 724.4L95.3 725.3L95.8 725.5L96.3 725.0L96.8 724.1L97.3 721.8L97.8 717.8L98.3 712.6L98.8 707.1L99.3 703.6L99.8 703.1L100.3 703.9L100.8 704.1L101.3 703.8L101.8 703.5L102.3 705.2L102.8 709.7L103.3 715.0L103.8 720.0L104.3 722.9L104.8 724.6L105.3 725.4L105.8 725.5L106.3 725.7L106.8 725.3L107.3 724.4L107.8 721.6L108.3 716.3L108.8 709.2L109.3 704.7L109.8 705.6L110.3 709.2L110.8 709.8L111.3 706.5L111.8 703.6L112.3 706.1L112.8 712.9L113.3 719.5L113.8 723.6L114.3 725.2L114.8 725.7L115.3 725.7L115.8 725.7L116.3 725.8L116.8 725.7L117.3 725.7L117.8 725.7L118.3 725.7L118.8 725.8L119.3 725.3L119.8 724.9L120.3 724.0L120.8 723.2L121.3 723.3L121.8 723.9L122.3 724.7L122.8 725.2L123.3 725.6L123.8 725.6L124.3 725.8L124.8 725.8L125.3 725.7L125.8 725.7L126.3 725.7L126.8 725.6L127.3 725.6L127.8 725.8L128.3 725.7L128.8 725.8L129.3 725.8L129.8 725.7L130.3 725.6L130.8 725.8L131.3 725.6L131.8 725.7L132.3 725.6L132.8 725.8L133.3 725.7L133.8 725.8" stroke="#2a2a2a" stroke-width="0.95" fill="none" stroke-linejoin="round"/>
<path d="M150.2 646.6V727.4" stroke="#707070" stroke-width="0.9" fill="none"/>
<path d="M150.2 727.4H216.7" stroke="#a2a2a2" stroke-width="1.25" fill="none"/>
<path d="M148.7 646.6h1.5M148.7 673.5h1.5M148.7 700.5h1.5M172.4 727.4v1.5M194.5 727.4v1.5" stroke="#777" stroke-width="0.8" fill="none"/>
<text x="160.9" y="655.8" font-size="10.3">Vß11</text>
<path d="M152.2 724.9L152.7 724.8L153.2 724.6L153.7 723.7L154.2 722.7L154.7 721.3L155.2 719.8L155.7 718.6L156.2 718.6L156.7 719.4L157.2 721.0L157.7 722.4L158.2 723.7L158.7 724.4L159.2 724.8L159.7 724.9L160.2 725.1L160.7 725.0L161.2 725.0L161.7 725.0L162.2 724.9L162.7 725.0L163.2 724.9L163.7 725.1L164.2 724.9L164.7 725.0L165.2 725.1L165.7 725.0L166.2 725.0L166.7 725.0L167.2 725.0L167.7 724.9L168.2 724.9L168.7 725.0L169.2 724.9L169.7 725.0L170.2 725.1L170.7 724.9L171.2 724.9L171.7 725.0L172.2 725.0L172.7 724.9L173.2 724.8L173.7 724.8L174.2 724.5L174.7 723.4L175.2 721.5L175.7 717.8L176.2 711.8L176.7 703.5L177.2 693.2L177.7 682.6L178.2 674.3L178.7 670.4L179.2 672.0L179.7 678.8L180.2 688.7L180.7 699.5L181.2 708.8L181.7 715.7L182.2 720.3L182.7 722.7L183.2 724.0L183.7 724.5L184.2 724.9L184.7 724.8L185.2 724.3L185.7 723.1L186.2 720.3L186.7 715.2L187.2 708.6L187.7 702.5L188.2 699.2L188.7 700.6L189.2 706.0L189.7 712.8L190.2 718.6L190.7 722.2L191.2 724.1L191.7 724.7L192.2 725.0L192.7 724.9L193.2 725.0L193.7 725.0L194.2 725.0L194.7 725.0L195.2 725.0L195.7 724.9L196.2 724.9L196.7 725.1L197.2 725.0L197.7 725.0L198.2 724.9L198.7 725.1L199.2 725.1L199.7 725.1L200.2 724.9L200.7 725.0L201.2 724.9L201.7 725.0L202.2 725.0L202.7 725.0L203.2 725.0L203.7 725.0L204.2 724.9L204.7 724.9L205.2 725.0L205.7 724.9L206.2 725.1L206.7 725.1L207.2 724.9L207.7 725.1L208.2 725.0L208.7 725.1L209.2 725.0L209.7 725.0" stroke="#2a2a2a" stroke-width="0.95" fill="none" stroke-linejoin="round"/>
<path d="M222.3 646.6V727.4" stroke="#707070" stroke-width="0.9" fill="none"/>
<path d="M222.3 727.4H288.8" stroke="#a2a2a2" stroke-width="1.25" fill="none"/>
<path d="M220.8 646.6h1.5M220.8 673.5h1.5M220.8 700.5h1.5M244.5 727.4v1.5M266.6 727.4v1.5" stroke="#777" stroke-width="0.8" fill="none"/>
<text x="234.4" y="655.8" font-size="10.3">Vß12</text>
<path d="M225.2 725.6L225.7 725.8L226.2 725.6L226.7 725.6L227.2 725.7L227.7 725.6L228.2 725.7L228.7 725.8L229.2 725.7L229.7 725.7L230.2 725.3L230.7 724.4L231.2 722.1L231.7 718.5L232.2 715.0L232.7 713.4L233.2 715.0L233.7 718.6L234.2 722.0L234.7 724.3L235.2 725.2L235.7 725.7L236.2 725.8L236.7 725.8L237.2 725.7L237.7 725.7L238.2 725.8L238.7 725.7L239.2 725.6L239.7 725.7L240.2 725.7L240.7 725.7L241.2 725.8L241.7 725.8L242.2 725.7L242.7 725.7L243.2 725.6L243.7 725.7L244.2 725.4L244.7 725.2L245.2 723.7L245.7 720.3L246.2 713.7L246.7 704.3L247.2 693.6L247.7 686.1L248.2 685.3L248.7 691.7L249.2 702.1L249.7 712.0L250.2 719.3L250.7 723.2L251.2 724.9L251.7 725.4L252.2 725.1L252.7 723.4L253.2 718.6L253.7 710.8L254.2 703.1L254.7 700.7L255.2 705.9L255.7 714.2L256.2 720.8L256.7 724.2L257.2 725.3L257.7 725.7L258.2 725.7L258.7 725.8L259.2 725.7L259.7 725.6L260.2 725.6L260.7 725.7L261.2 725.7L261.7 725.7L262.2 725.8L262.7 725.7L263.2 725.6L263.7 725.8L264.2 725.8L264.7 725.6L265.2 725.1L265.7 723.5L266.2 719.3L266.7 712.1L267.2 705.0L267.7 702.9L268.2 707.7L268.7 715.3L269.2 721.4L269.7 724.3L270.2 725.4L270.7 725.6L271.2 725.8L271.7 725.6L272.2 725.6L272.7 725.8L273.2 725.8L273.7 725.8L274.2 725.6L274.7 725.8L275.2 725.8L275.7 725.6L276.2 725.7L276.7 725.7L277.2 725.8L277.7 725.6L278.2 725.7L278.7 725.6L279.2 725.7L279.7 725.7L280.2 725.6" stroke="#2a2a2a" stroke-width="0.95" fill="none" stroke-linejoin="round"/>
<path d="M297 646.6V727.4" stroke="#707070" stroke-width="0.9" fill="none"/>
<path d="M297 727.4H363.5" stroke="#a2a2a2" stroke-width="1.25" fill="none"/>
<path d="M295.5 646.6h1.5M295.5 673.5h1.5M295.5 700.5h1.5M319.2 727.4v1.5M341.3 727.4v1.5" stroke="#777" stroke-width="0.8" fill="none"/>
<text x="310.2" y="655.8" font-size="10.3">Vß13</text>
<path d="M301.5 725.7L302.0 725.8L302.5 725.8L303.0 725.9L303.5 725.7L304.0 725.5L304.5 725.6L305.0 725.8L305.5 725.8L306.0 725.6L306.5 725.5L307.0 725.3L307.5 723.8L308.0 720.3L308.5 715.6L309.0 713.5L309.5 715.6L310.0 720.1L310.5 723.5L311.0 725.0L311.5 724.8L312.0 723.0L312.5 722.1L313.0 722.9L313.5 724.7L314.0 725.4L314.5 725.6L315.0 725.6L315.5 725.6L316.0 725.4L316.5 724.9L317.0 722.9L317.5 717.1L318.0 709.1L318.5 703.6L319.0 706.1L319.5 714.0L320.0 721.1L320.5 724.1L321.0 723.1L321.5 716.9L322.0 702.8L322.5 683.5L323.0 669.5L323.5 671.2L324.0 687.2L324.5 704.3L325.0 711.9L325.5 708.9L326.0 706.0L326.5 708.6L327.0 711.5L327.5 707.8L328.0 697.3L328.5 686.4L329.0 681.8L329.5 686.4L330.0 697.4L330.5 709.1L331.0 716.0L331.5 716.1L332.0 709.1L332.5 698.2L333.0 688.9L333.5 688.0L334.0 696.1L334.5 707.7L335.0 717.3L335.5 721.7L336.0 720.4L336.5 716.2L337.0 715.3L337.5 720.0L338.0 723.7L338.5 724.0L339.0 722.0L339.5 718.5L340.0 715.2L340.5 713.3L341.0 715.0L341.5 718.5L342.0 721.9L342.5 724.4L343.0 725.4L343.5 725.7L344.0 725.8L344.5 725.8L345.0 725.7L345.5 725.6L346.0 725.7L346.5 725.6L347.0 725.7L347.5 725.5L348.0 725.5L348.5 725.5L349.0 724.2L349.5 721.2L350.0 717.1L350.5 714.5L351.0 715.8L351.5 719.9L352.0 723.4L352.5 725.2L353.0 725.8L353.5 725.6L354.0 725.7L354.5 725.8L355.0 725.6L355.5 725.8L356.0 725.5L356.5 725.8L357.0 725.8L357.5 725.8L358.0 725.5L358.5 725.5" stroke="#2a2a2a" stroke-width="0.95" fill="none" stroke-linejoin="round"/>
<path d="M369.3 646.6V727.4" stroke="#707070" stroke-width="0.9" fill="none"/>
<path d="M369.3 727.4H435.8" stroke="#a2a2a2" stroke-width="1.25" fill="none"/>
<path d="M367.8 646.6h1.5M367.8 673.5h1.5M367.8 700.5h1.5M391.5 727.4v1.5M413.6 727.4v1.5" stroke="#777" stroke-width="0.8" fill="none"/>
<text x="382.3" y="655.8" font-size="10.3">Vß14</text>
<path d="M371.6 725.1L372.1 724.9L372.6 725.1L373.1 725.0L373.6 725.0L374.1 725.1L374.6 725.0L375.1 725.1L375.6 725.0L376.1 725.0L376.6 725.0L377.1 724.9L377.6 724.9L378.1 725.1L378.6 725.1L379.1 725.1L379.6 725.0L380.1 725.1L380.6 725.0L381.1 725.1L381.6 725.0L382.1 724.9L382.6 724.3L383.1 723.3L383.6 721.1L384.1 717.1L384.6 711.5L385.1 705.3L385.6 700.4L386.1 699.3L386.6 702.0L387.1 707.7L387.6 713.9L388.1 719.0L388.6 722.3L389.1 723.8L389.6 724.7L390.1 724.9L390.6 725.0L391.1 724.9L391.6 724.9L392.1 725.0L392.6 724.9L393.1 725.0L393.6 724.9L394.1 725.0L394.6 725.1L395.1 725.1L395.6 724.9L396.1 724.9L396.6 725.0L397.1 724.9L397.6 724.9L398.1 725.0L398.6 724.9L399.1 724.9L399.6 725.0L400.1 725.1L400.6 725.1L401.1 725.0L401.6 725.0L402.1 725.0L402.6 725.0L403.1 725.0L403.6 725.0L404.1 725.1L404.6 725.0L405.1 725.0L405.6 725.0L406.1 724.9L406.6 724.9L407.1 725.0L407.6 725.0L408.1 725.0L408.6 724.9L409.1 724.9" stroke="#2a2a2a" stroke-width="0.95" fill="none" stroke-linejoin="round"/>
<path d="M443.6 646.6V727.4" stroke="#707070" stroke-width="0.9" fill="none"/>
<path d="M443.6 727.4H510.1" stroke="#a2a2a2" stroke-width="1.25" fill="none"/>
<path d="M442.1 646.6h1.5M442.1 673.5h1.5M442.1 700.5h1.5M465.8 727.4v1.5M487.9 727.4v1.5" stroke="#777" stroke-width="0.8" fill="none"/>
<text x="459.4" y="655.8" font-size="10.3">Vß15</text>
<path d="M445.6 725.8L446.1 725.8L446.6 725.9L447.1 725.5L447.6 725.8L448.1 725.7L448.6 725.6L449.1 725.8L449.6 725.6L450.1 725.9L450.6 725.7L451.1 725.9L451.6 725.6L452.1 725.8L452.6 725.5L453.1 725.4L453.6 725.2L454.1 723.8L454.6 720.8L455.1 716.8L455.6 713.2L456.1 712.3L456.6 714.6L457.1 718.6L457.6 722.2L458.1 724.3L458.6 725.0L459.1 724.8L459.6 723.2L460.1 719.5L460.6 712.5L461.1 703.0L461.6 693.0L462.1 686.7L462.6 687.5L463.1 694.5L463.6 705.0L464.1 714.3L464.6 720.6L465.1 723.7L465.6 725.0L466.1 725.7L466.6 725.7L467.1 725.6L467.6 725.4L468.1 724.8L468.6 723.4L469.1 720.1L469.6 716.1L470.1 712.6L470.6 712.5L471.1 715.1L471.6 719.2L472.1 722.7L472.6 724.8L473.1 725.5L473.6 725.7L474.1 725.5L474.6 725.8L475.1 725.7L475.6 725.8L476.1 725.7L476.6 725.6L477.1 725.9L477.6 725.8L478.1 725.9L478.6 725.7L479.1 725.6L479.6 725.6L480.1 725.4L480.6 725.0L481.1 722.9L481.6 719.2L482.1 712.8L482.6 706.2L483.1 703.4L483.6 706.3L484.1 712.6L484.6 719.0L485.1 723.1L485.6 725.0L486.1 725.5L486.6 725.8L487.1 725.6L487.6 725.8L488.1 725.7L488.6 725.5L489.1 725.6L489.6 725.6L490.1 725.8L490.6 725.6L491.1 725.9L491.6 725.8L492.1 725.8L492.6 725.6L493.1 725.5L493.6 725.8L494.1 725.7L494.6 725.8L495.1 725.6L495.6 725.9L496.1 725.5L496.6 725.8L497.1 725.8L497.6 725.6L498.1 725.6L498.6 725.6L499.1 725.5L499.6 725.7L500.1 725.7L500.6 725.6L501.1 725.7L501.6 725.8L502.1 725.7L502.6 725.7L503.1 725.6" stroke="#2a2a2a" stroke-width="0.95" fill="none" stroke-linejoin="round"/>
<path d="M2.4 741.2V821.4" stroke="#707070" stroke-width="0.9" fill="none"/>
<path d="M2.4 821.4H68.9" stroke="#a2a2a2" stroke-width="1.25" fill="none"/>
<path d="M0.8999999999999999 741.2h1.5M0.8999999999999999 767.9h1.5M0.8999999999999999 794.7h1.5M24.6 821.4v1.5M46.7 821.4v1.5" stroke="#777" stroke-width="0.8" fill="none"/>
<text x="16.2" y="746.6" font-size="10.3">Vß16</text>
<path transform="translate(0 0.8)" d="M2.9 816.9L3.4 816.9L3.9 817.1L4.4 817.0L4.9 817.0L5.4 817.1L5.9 817.1L6.4 817.1L6.9 817.0L7.4 817.1L7.9 817.1L8.4 816.9L8.9 817.1L9.4 817.0L9.9 817.0L10.4 817.0L10.9 817.1L11.4 817.1L11.9 816.9L12.4 816.7L12.9 815.7L13.4 812.6L13.9 806.5L14.4 798.6L14.9 794.0L15.4 796.1L15.9 803.4L16.4 810.4L16.9 814.6L17.4 816.4L17.9 816.9L18.4 816.9L18.9 817.0L19.4 817.0L19.9 817.0L20.4 817.1L20.9 817.0L21.4 817.0L21.9 816.9L22.4 817.0L22.9 817.0L23.4 816.9L23.9 817.1L24.4 817.1L24.9 817.0L25.4 816.9L25.9 817.0L26.4 816.8L26.9 816.0L27.4 815.0L27.9 814.0L28.4 814.5L28.9 815.7L29.4 816.5L29.9 816.9L30.4 817.1L30.9 817.1L31.4 816.9L31.9 817.0L32.4 816.7L32.9 816.1L33.4 813.7L33.9 807.7L34.4 798.8L34.9 791.1L35.4 790.4L35.9 797.1L36.4 806.2L36.9 812.7L37.4 815.9L37.9 816.8L38.4 817.0L38.9 817.0L39.4 817.0L39.9 816.9L40.4 816.3L40.9 814.1L41.4 807.9L41.9 794.9L42.4 776.2L42.9 759.3L43.4 754.5L43.9 765.1L44.4 784.1L44.9 800.9L45.4 811.1L45.9 815.2L46.4 816.7L46.9 817.0L47.4 816.9L47.9 817.0L48.4 817.0L48.9 817.0L49.4 816.7L49.9 815.9L50.4 814.3L50.9 813.1L51.4 813.9L51.9 815.3L52.4 816.5L52.9 816.9L53.4 816.9L53.9 817.0L54.4 816.9L54.9 817.0L55.4 817.1L55.9 817.0L56.4 817.0L56.9 817.0L57.4 817.1L57.9 817.1L58.4 817.0L58.9 817.1L59.4 817.1L59.9 817.1L60.4 817.0L60.9 817.1L61.4 817.1L61.9 816.9" stroke="#2a2a2a" stroke-width="0.95" fill="none" stroke-linejoin="round"/>
<path d="M74.4 741.2V821.4" stroke="#707070" stroke-width="0.9" fill="none"/>
<path d="M74.4 821.4H140.9" stroke="#a2a2a2" stroke-width="1.25" fill="none"/>
<path d="M72.9 741.2h1.5M72.9 767.9h1.5M72.9 794.7h1.5M96.6 821.4v1.5M118.7 821.4v1.5" stroke="#777" stroke-width="0.8" fill="none"/>
<text x="86.5" y="746.6" font-size="10.3">Vß17</text>
<path transform="translate(0 0.8)" d="M76.4 818.1L76.9 818.1L77.4 818.2L77.9 818.1L78.4 818.0L78.9 818.2L79.4 818.3L79.9 818.3L80.4 818.0L80.9 818.1L81.4 817.9L81.9 818.2L82.4 818.0L82.9 818.2L83.4 818.2L83.9 818.0L84.4 818.2L84.9 818.2L85.4 818.1L85.9 818.1L86.4 818.3L86.9 817.9L87.4 818.2L87.9 818.2L88.4 818.3L88.9 818.3L89.4 818.3L89.9 818.3L90.4 818.1L90.9 818.0L91.4 817.9L91.9 818.0L92.4 817.3L92.9 816.0L93.4 813.7L93.9 808.8L94.4 802.0L94.9 794.3L95.4 788.7L95.9 787.5L96.4 790.8L96.9 797.5L97.4 804.7L97.9 810.9L98.4 814.5L98.9 816.6L99.4 817.7L99.9 817.9L100.4 817.4L100.9 816.2L101.4 812.9L101.9 807.1L102.4 796.7L102.9 783.0L103.4 767.9L103.9 755.6L104.4 751.3L104.9 755.7L105.4 767.7L105.9 782.8L106.4 796.6L106.9 807.0L107.4 812.9L107.9 815.9L108.4 817.5L108.9 817.9L109.4 817.6L109.9 817.3L110.4 816.6L110.9 814.7L111.4 812.9L111.9 810.7L112.4 809.5L112.9 810.1L113.4 812.0L113.9 814.0L114.4 815.9L114.9 817.1L115.4 817.9L115.9 818.2L116.4 818.3L116.9 818.1L117.4 818.3L117.9 818.2L118.4 818.1L118.9 818.2L119.4 818.0L119.9 818.3L120.4 818.0L120.9 818.0L121.4 817.8L121.9 816.8L122.4 815.8L122.9 814.9L123.4 814.7L123.9 815.1L124.4 815.6L124.9 816.4L125.4 817.5L125.9 817.9L126.4 817.9L126.9 818.0L127.4 817.9L127.9 817.5L128.4 817.0L128.9 816.4L129.4 816.7L129.9 817.3L130.4 818.1L130.9 818.1L131.4 817.9L131.9 818.1L132.4 818.0L132.9 818.1L133.4 817.9L133.9 818.3L134.4 818.2L134.9 818.3" stroke="#2a2a2a" stroke-width="0.95" fill="none" stroke-linejoin="round"/>
<path d="M150.8 741.2V821.4" stroke="#707070" stroke-width="0.9" fill="none"/>
<path d="M150.8 821.4H217.3" stroke="#a2a2a2" stroke-width="1.25" fill="none"/>
<path d="M149.3 741.2h1.5M149.3 767.9h1.5M149.3 794.7h1.5M173.0 821.4v1.5M195.1 821.4v1.5" stroke="#777" stroke-width="0.8" fill="none"/>
<text x="160.9" y="746.6" font-size="10.3">Vß18</text>
<path transform="translate(0 0.8)" d="M152.2 816.9L152.7 816.9L153.2 817.1L153.7 817.1L154.2 817.1L154.7 817.0L155.2 816.9L155.7 817.1L156.2 816.9L156.7 817.0L157.2 817.0L157.7 817.0L158.2 817.0L158.7 817.1L159.2 817.1L159.7 816.9L160.2 817.1L160.7 817.0L161.2 816.9L161.7 817.0L162.2 817.1L162.7 816.9L163.2 817.0L163.7 817.0L164.2 817.0L164.7 817.1L165.2 817.1L165.7 816.9L166.2 817.0L166.7 816.9L167.2 816.8L167.7 816.0L168.2 813.1L168.7 805.8L169.2 793.4L169.7 781.0L170.2 777.3L170.7 785.4L171.2 798.7L171.7 809.3L172.2 814.6L172.7 816.6L173.2 816.9L173.7 816.4L174.2 815.0L174.7 810.3L175.2 799.8L175.7 783.4L176.2 766.9L176.7 759.7L177.2 766.9L177.7 783.5L178.2 799.7L178.7 810.2L179.2 814.8L179.7 816.0L180.2 815.4L180.7 813.4L181.2 809.7L181.7 803.6L182.2 794.9L182.7 784.1L183.2 773.7L183.7 765.6L184.2 762.7L184.7 765.6L185.2 773.5L185.7 784.1L186.2 794.8L186.7 803.5L187.2 809.7L187.7 813.5L188.2 815.5L188.7 816.3L189.2 816.8L189.7 816.9L190.2 817.0L190.7 816.9L191.2 816.9L191.7 817.1L192.2 816.9L192.7 817.0L193.2 817.0L193.7 816.7L194.2 816.0L194.7 813.4L195.2 806.9L195.7 794.9L196.2 780.4L196.7 770.4L197.2 771.7L197.7 783.3L198.2 797.6L198.7 808.6L199.2 814.1L199.7 816.2L200.2 817.0L200.7 817.1L201.2 817.0L201.7 817.1L202.2 817.1L202.7 816.9L203.2 817.0L203.7 817.1L204.2 817.0L204.7 817.0L205.2 816.9L205.7 817.0L206.2 817.1L206.7 817.1L207.2 817.0L207.7 817.0L208.2 816.9" stroke="#2a2a2a" stroke-width="0.95" fill="none" stroke-linejoin="round"/>
<path d="M222.9 741.2V821.4" stroke="#707070" stroke-width="0.9" fill="none"/>
<path d="M222.9 821.4H289.4" stroke="#a2a2a2" stroke-width="1.25" fill="none"/>
<path d="M221.4 741.2h1.5M221.4 767.9h1.5M221.4 794.7h1.5M245.1 821.4v1.5M267.2 821.4v1.5" stroke="#777" stroke-width="0.8" fill="none"/>
<text x="234.4" y="746.6" font-size="10.3">Vß20</text>
<path transform="translate(0 0.8)" d="M225.8 817.7L226.3 817.8L226.8 817.5L227.3 817.4L227.8 817.7L228.3 817.7L228.8 817.7L229.3 817.3L229.8 817.4L230.3 817.7L230.8 817.6L231.3 817.7L231.8 817.8L232.3 817.3L232.8 817.3L233.3 817.6L233.8 817.6L234.3 817.2L234.8 817.7L235.3 817.4L235.8 817.2L236.3 817.6L236.8 817.3L237.3 817.6L237.8 817.2L238.3 817.7L238.8 817.7L239.3 817.4L239.8 817.6L240.3 817.5L240.8 817.2L241.3 817.7L241.8 817.7L242.3 817.3L242.8 817.5L243.3 817.0L243.8 816.4L244.3 814.6L244.8 811.9L245.3 808.0L245.8 801.3L246.3 793.2L246.8 784.9L247.3 776.3L247.8 770.8L248.3 768.2L248.8 770.3L249.3 776.4L249.8 784.8L250.3 793.6L250.8 801.7L251.3 807.4L251.8 811.7L252.3 814.6L252.8 815.9L253.3 817.1L253.8 817.6L254.3 817.4L254.8 817.1L255.3 817.4L255.8 817.3L256.3 817.4L256.8 817.6L257.3 817.5L257.8 817.7L258.3 817.6L258.8 817.2L259.3 817.2L259.8 817.4L260.3 817.4L260.8 817.6L261.3 817.4L261.8 817.2L262.3 817.8L262.8 817.2L263.3 817.7L263.8 817.8L264.3 817.8L264.8 817.6L265.3 817.3L265.8 817.7L266.3 817.2L266.8 817.3L267.3 817.7L267.8 817.2L268.3 817.5L268.8 816.7L269.3 816.5L269.8 815.1L270.3 814.8L270.8 814.6L271.3 815.7L271.8 816.3L272.3 817.1L272.8 817.6L273.3 817.5L273.8 817.2L274.3 817.8L274.8 817.2L275.3 817.6L275.8 817.3L276.3 817.3L276.8 817.4L277.3 817.4L277.8 817.2L278.3 817.5L278.8 817.3L279.3 817.5L279.8 817.6L280.3 817.2L280.8 817.8L281.3 817.2L281.8 817.3L282.3 817.7L282.8 817.2L283.3 817.8" stroke="#2a2a2a" stroke-width="0.95" fill="none" stroke-linejoin="round"/>
<path d="M297.8 741.2V821.4" stroke="#707070" stroke-width="0.9" fill="none"/>
<path d="M297.8 821.4H364.3" stroke="#a2a2a2" stroke-width="1.25" fill="none"/>
<path d="M296.3 741.2h1.5M296.3 767.9h1.5M296.3 794.7h1.5M320.0 821.4v1.5M342.1 821.4v1.5" stroke="#777" stroke-width="0.8" fill="none"/>
<text x="310.2" y="746.6" font-size="10.3">Vß21</text>
<path transform="translate(0 0.8)" d="M304.4 816.6L304.9 816.4L305.4 816.5L305.9 816.4L306.4 816.6L306.9 816.6L307.4 816.5L307.9 816.4L308.4 816.8L308.9 816.9L309.4 816.8L309.9 816.9L310.4 816.5L310.9 816.7L311.4 816.4L311.9 816.9L312.4 816.7L312.9 816.6L313.4 816.8L313.9 816.6L314.4 816.8L314.9 817.0L315.4 816.5L315.9 816.7L316.4 816.8L316.9 816.5L317.4 816.9L317.9 816.8L318.4 816.7L318.9 816.5L319.4 816.6L319.9 816.7L320.4 816.6L320.9 816.4L321.4 816.8L321.9 816.8L322.4 816.5L322.9 816.5L323.4 816.0L323.9 815.0L324.4 814.0L324.9 812.6L325.4 810.9L325.9 808.5L326.4 807.2L326.9 806.7L327.4 806.8L327.9 807.7L328.4 808.6L328.9 809.9L329.4 810.9L329.9 811.8L330.4 812.2L330.9 812.4L331.4 813.1L331.9 813.2L332.4 813.6L332.9 814.2L333.4 814.6L333.9 815.1L334.4 815.3L334.9 816.0L335.4 816.3L335.9 816.4L336.4 816.8L336.9 816.9L337.4 816.9L337.9 816.4L338.4 816.5L338.9 816.5L339.4 816.8L339.9 816.6L340.4 816.9L340.9 816.7L341.4 816.7L341.9 816.6L342.4 816.9L342.9 816.4L343.4 816.6L343.9 816.4L344.4 816.9L344.9 816.6L345.4 816.5L345.9 816.4L346.4 816.9L346.9 816.8L347.4 816.5L347.9 816.6L348.4 816.9L348.9 816.6L349.4 816.8L349.9 816.5L350.4 816.9L350.9 816.5L351.4 816.6L351.9 816.0L352.4 815.2L352.9 815.2L353.4 816.0L353.9 816.4L354.4 817.0L354.9 816.3L355.4 815.6L355.9 814.9L356.4 815.6L356.9 816.1L357.4 816.6L357.9 816.8L358.4 816.1L358.9 815.5L359.4 814.9L359.9 815.8L360.4 816.4L360.9 816.4L361.4 816.9" stroke="#2a2a2a" stroke-width="0.95" fill="none" stroke-linejoin="round"/>
<path d="M369.3 741.2V821.4" stroke="#707070" stroke-width="0.9" fill="none"/>
<path d="M369.3 821.4H435.8" stroke="#a2a2a2" stroke-width="1.25" fill="none"/>
<path d="M367.8 741.2h1.5M367.8 767.9h1.5M367.8 794.7h1.5M391.5 821.4v1.5M413.6 821.4v1.5" stroke="#777" stroke-width="0.8" fill="none"/>
<text x="382.3" y="746.6" font-size="10.3">Vß22</text>
<path transform="translate(0 0.8)" d="M371.6 819.0L372.1 818.9L372.6 818.9L373.1 819.0L373.6 819.1L374.1 819.0L374.6 819.0L375.1 819.0L375.6 819.1L376.1 819.1L376.6 819.0L377.1 819.1L377.6 818.9L378.1 819.1L378.6 819.0L379.1 818.5L379.6 817.6L380.1 814.5L380.6 808.0L381.1 797.8L381.6 786.5L382.1 779.2L382.6 780.1L383.1 788.8L383.6 800.0L384.1 809.6L384.6 815.2L385.1 817.7L385.6 818.8L386.1 818.9L386.6 818.8L387.1 818.6L387.6 817.4L388.1 814.5L388.6 809.6L389.1 804.8L389.6 803.2L390.1 806.5L390.6 811.6L391.1 816.0L391.6 818.1L392.1 818.9L392.6 819.0L393.1 819.0L393.6 818.9L394.1 818.9L394.6 818.2L395.1 816.2L395.6 812.3L396.1 807.5L396.6 804.8L397.1 805.9L397.6 810.5L398.1 814.9L398.6 817.5L399.1 818.5L399.6 818.8L400.1 818.4L400.6 816.7L401.1 812.8L401.6 805.4L402.1 795.0L402.6 785.4L403.1 781.6L403.6 785.4L404.1 794.9L404.6 804.7L405.1 809.9L405.6 810.0L406.1 806.7L406.6 805.4L407.1 806.9L407.6 807.7L408.1 802.6L408.6 791.7L409.1 779.6L409.6 772.9L410.1 776.1L410.6 786.9L411.1 799.8L411.6 809.8L412.1 815.5L412.6 818.0L413.1 818.7L413.6 819.0L414.1 818.9L414.6 818.5L415.1 816.8L415.6 813.2L416.1 807.7L416.6 802.6L417.1 802.2L417.6 806.5L418.1 812.3L418.6 816.2L419.1 818.2L419.6 818.9L420.1 819.1L420.6 819.0L421.1 819.0L421.6 819.0L422.1 818.5L422.6 817.0L423.1 813.6L423.6 808.6L424.1 804.1L424.6 803.5L425.1 807.5L425.6 812.7L426.1 816.6L426.6 818.2L427.1 818.8L427.6 819.1L428.1 819.1" stroke="#2a2a2a" stroke-width="0.95" fill="none" stroke-linejoin="round"/>
<path d="M445.6 741.2V821.4" stroke="#707070" stroke-width="0.9" fill="none"/>
<path d="M445.6 821.4H512.1" stroke="#a2a2a2" stroke-width="1.25" fill="none"/>
<path d="M444.1 741.2h1.5M444.1 767.9h1.5M444.1 794.7h1.5M467.8 821.4v1.5M489.9 821.4v1.5" stroke="#777" stroke-width="0.8" fill="none"/>
<text x="459.4" y="746.6" font-size="10.3">Vß24</text>
<path transform="translate(0 0.8)" d="M446.4 818.9L446.9 819.1L447.4 819.0L447.9 819.0L448.4 819.0L448.9 819.0L449.4 819.0L449.9 819.0L450.4 819.0L450.9 818.9L451.4 818.7L451.9 818.4L452.4 818.0L452.9 817.5L453.4 817.0L453.9 816.6L454.4 816.6L454.9 816.8L455.4 817.5L455.9 818.1L456.4 818.4L456.9 818.7L457.4 818.9L457.9 818.8L458.4 819.1L458.9 819.0L459.4 818.9L459.9 818.9L460.4 819.0L460.9 818.9L461.4 819.1L461.9 819.0L462.4 819.1L462.9 818.9L463.4 819.0L463.9 819.1L464.4 818.9L464.9 819.0L465.4 818.9L465.9 818.9L466.4 819.0L466.9 819.0L467.4 819.0L467.9 819.0L468.4 819.1L468.9 819.1L469.4 818.9L469.9 818.8L470.4 818.4L470.9 817.0L471.4 813.5L471.9 808.0L472.4 801.6L472.9 797.9L473.4 799.5L473.9 805.3L474.4 811.6L474.9 815.9L475.4 818.1L475.9 818.8L476.4 819.1L476.9 819.0L477.4 818.9L477.9 818.9L478.4 818.4L478.9 817.0L479.4 814.3L479.9 811.1L480.4 809.0L480.9 809.9L481.4 812.9L481.9 816.3L482.4 818.1L482.9 818.8L483.4 818.9L483.9 819.1L484.4 819.0L484.9 819.0L485.4 819.0L485.9 819.0L486.4 819.1L486.9 819.0L487.4 818.9L487.9 818.9L488.4 819.0L488.9 818.9L489.4 818.9L489.9 818.9L490.4 819.0L490.9 818.9L491.4 819.1L491.9 819.0L492.4 819.1L492.9 819.0L493.4 819.1L493.9 819.1L494.4 819.0L494.9 818.9L495.4 818.9L495.9 818.9L496.4 819.0L496.9 818.9L497.4 819.0L497.9 819.1L498.4 819.0L498.9 819.0L499.4 819.0L499.9 819.1L500.4 819.1L500.9 819.0L501.4 818.9L501.9 819.0L502.4 819.0L502.9 818.9L503.4 818.9L503.9 819.0L504.4 819.0L504.9 818.9" stroke="#2a2a2a" stroke-width="0.95" fill="none" stroke-linejoin="round"/>
</svg></body></html>
